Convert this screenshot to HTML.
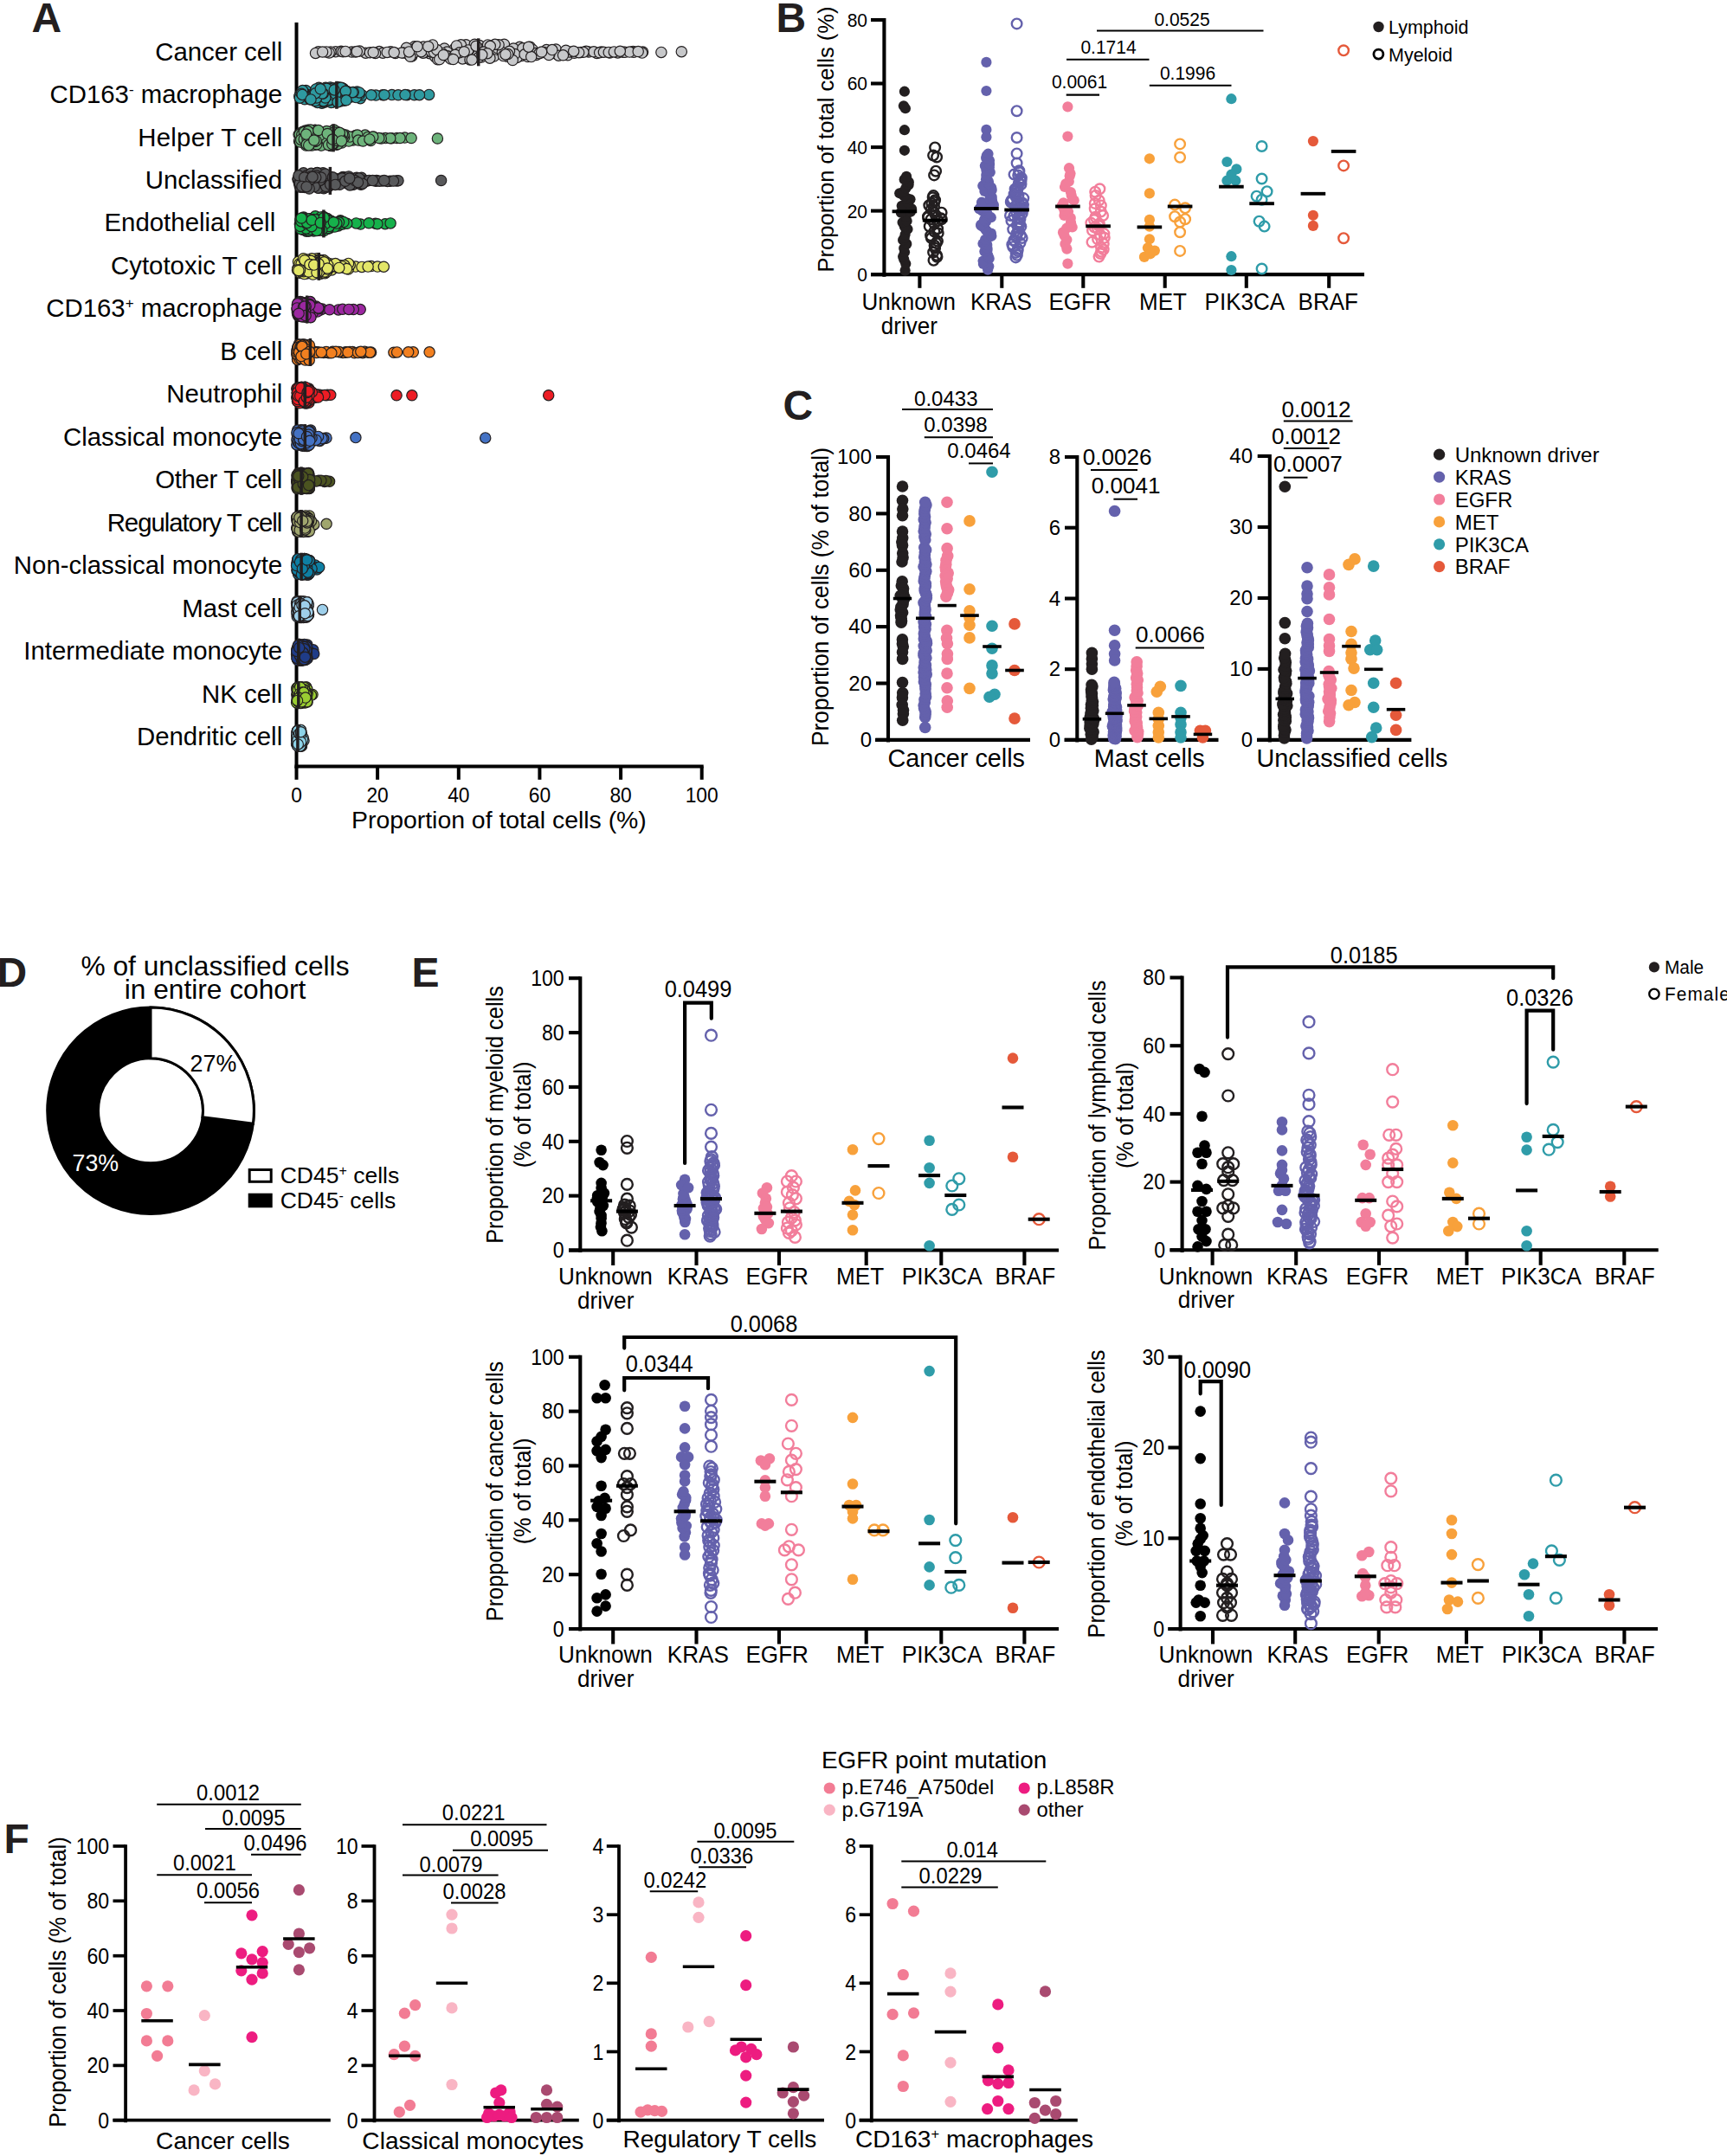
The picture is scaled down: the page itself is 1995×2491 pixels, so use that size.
<!DOCTYPE html>
<html lang="en">
<head>
<meta charset="utf-8">
<title>Figure</title>
<style>
html,body{margin:0;padding:0;background:#fff;}
body{width:1995px;height:2491px;overflow:hidden;}
svg{display:block;}
svg text{font-family:'Liberation Sans', sans-serif;}
</style>
</head>
<body>
<svg width="1995" height="2491" viewBox="0 0 1995 2491">
<rect width="1995" height="2491" fill="#fff"/>
<text x="36.5" y="36.5" font-size="48" font-weight="bold" fill="#231f20">A</text>
<line x1="342.5" y1="26" x2="342.5" y2="887.5" stroke="#000" stroke-width="4"/>
<line x1="340.5" y1="885.5" x2="812.7" y2="885.5" stroke="#000" stroke-width="4"/>
<line x1="342.5" y1="885.5" x2="342.5" y2="900.8" stroke="#000" stroke-width="4"/>
<text transform="translate(342.5 927.2) scale(1 1.070)" font-size="22.8" text-anchor="middle">0</text>
<line x1="436.1" y1="885.5" x2="436.1" y2="900.8" stroke="#000" stroke-width="4"/>
<text transform="translate(436.1 927.2) scale(1 1.070)" font-size="22.8" text-anchor="middle">20</text>
<line x1="529.8" y1="885.5" x2="529.8" y2="900.8" stroke="#000" stroke-width="4"/>
<text transform="translate(529.8 927.2) scale(1 1.070)" font-size="22.8" text-anchor="middle">40</text>
<line x1="623.4" y1="885.5" x2="623.4" y2="900.8" stroke="#000" stroke-width="4"/>
<text transform="translate(623.4 927.2) scale(1 1.070)" font-size="22.8" text-anchor="middle">60</text>
<line x1="717.1" y1="885.5" x2="717.1" y2="900.8" stroke="#000" stroke-width="4"/>
<text transform="translate(717.1 927.2) scale(1 1.070)" font-size="22.8" text-anchor="middle">80</text>
<line x1="810.7" y1="885.5" x2="810.7" y2="900.8" stroke="#000" stroke-width="4"/>
<text transform="translate(810.7 927.2) scale(1 1.070)" font-size="22.8" text-anchor="middle">100</text>
<text x="576.4" y="956.8" font-size="28.4" text-anchor="middle">Proportion of total cells (%)</text>
<text x="326.2" y="69.6" font-size="29.4" text-anchor="end">Cancer cell</text>
<g fill="#c7c8ca" stroke="#231f20" stroke-width="1.2">
<circle cx="600.4" cy="54.3" r="6.15"/>
<circle cx="387.7" cy="59.8" r="6.15"/>
<circle cx="742.6" cy="60" r="6.15"/>
<circle cx="438.1" cy="59.5" r="6.15"/>
<circle cx="607.8" cy="60.1" r="6.15"/>
<circle cx="741.7" cy="61.1" r="6.15"/>
<circle cx="496.2" cy="61.7" r="6.15"/>
<circle cx="602.3" cy="64.4" r="6.15"/>
<circle cx="451.3" cy="59.8" r="6.15"/>
<circle cx="485" cy="58.5" r="6.15"/>
<circle cx="478.8" cy="53.7" r="6.15"/>
<circle cx="689.5" cy="61.4" r="6.15"/>
<circle cx="367.8" cy="59.7" r="6.15"/>
<circle cx="529.3" cy="65.1" r="6.15"/>
<circle cx="604.7" cy="56" r="6.15"/>
<circle cx="422.4" cy="61.2" r="6.15"/>
<circle cx="475.7" cy="64.9" r="6.15"/>
<circle cx="578" cy="56.8" r="6.15"/>
<circle cx="551.9" cy="61.9" r="6.15"/>
<circle cx="521" cy="60.7" r="6.15"/>
<circle cx="456.7" cy="61.4" r="6.15"/>
<circle cx="631.3" cy="57.5" r="6.15"/>
<circle cx="546.4" cy="62" r="6.15"/>
<circle cx="479.9" cy="55.5" r="6.15"/>
<circle cx="394" cy="59.3" r="6.15"/>
<circle cx="406.3" cy="60" r="6.15"/>
<circle cx="471.9" cy="62.8" r="6.15"/>
<circle cx="585.8" cy="65.3" r="6.15"/>
<circle cx="513.4" cy="56" r="6.15"/>
<circle cx="612.3" cy="54.2" r="6.15"/>
<circle cx="553.9" cy="52.6" r="6.15"/>
<circle cx="597.7" cy="63.1" r="6.15"/>
<circle cx="787.3" cy="59.7" r="6.15"/>
<circle cx="570.6" cy="65.1" r="6.15"/>
<circle cx="525.4" cy="56.1" r="6.15"/>
<circle cx="615.3" cy="57.4" r="6.15"/>
<circle cx="713.6" cy="60.9" r="6.15"/>
<circle cx="644.5" cy="61.1" r="6.15"/>
<circle cx="560.6" cy="55.4" r="6.15"/>
<circle cx="502.7" cy="65.7" r="6.15"/>
<circle cx="410.6" cy="60" r="6.15"/>
<circle cx="556.1" cy="66" r="6.15"/>
<circle cx="483.8" cy="56.2" r="6.15"/>
<circle cx="469.5" cy="55.2" r="6.15"/>
<circle cx="541.6" cy="57.7" r="6.15"/>
<circle cx="396.2" cy="59.8" r="6.15"/>
<circle cx="655.8" cy="63.8" r="6.15"/>
<circle cx="624.7" cy="61" r="6.15"/>
<circle cx="382" cy="59.9" r="6.15"/>
<circle cx="516.5" cy="60" r="6.15"/>
<circle cx="465.9" cy="61" r="6.15"/>
<circle cx="663.4" cy="61.3" r="6.15"/>
<circle cx="477.4" cy="61.4" r="6.15"/>
<circle cx="591.1" cy="64.8" r="6.15"/>
<circle cx="519" cy="65.3" r="6.15"/>
<circle cx="537" cy="67.1" r="6.15"/>
<circle cx="593.1" cy="56" r="6.15"/>
<circle cx="603.8" cy="55.8" r="6.15"/>
<circle cx="553.3" cy="66.1" r="6.15"/>
<circle cx="534.3" cy="67.9" r="6.15"/>
<circle cx="538.3" cy="51.7" r="6.15"/>
<circle cx="680.1" cy="60" r="6.15"/>
<circle cx="380.2" cy="61" r="6.15"/>
<circle cx="619.5" cy="63.4" r="6.15"/>
<circle cx="670.8" cy="60.6" r="6.15"/>
<circle cx="415.4" cy="59.1" r="6.15"/>
<circle cx="515.7" cy="64.5" r="6.15"/>
<circle cx="491" cy="60.4" r="6.15"/>
<circle cx="648.8" cy="62.3" r="6.15"/>
<circle cx="694.5" cy="60" r="6.15"/>
<circle cx="364.5" cy="61.4" r="6.15"/>
<circle cx="532.4" cy="51.8" r="6.15"/>
<circle cx="719.8" cy="60.3" r="6.15"/>
<circle cx="568.8" cy="55.4" r="6.15"/>
<circle cx="609.8" cy="65.6" r="6.15"/>
<circle cx="542.9" cy="68.9" r="6.15"/>
<circle cx="677.1" cy="59.3" r="6.15"/>
<circle cx="412.3" cy="59.5" r="6.15"/>
<circle cx="618.5" cy="61.5" r="6.15"/>
<circle cx="493.2" cy="57.3" r="6.15"/>
<circle cx="763.9" cy="60.4" r="6.15"/>
<circle cx="442.3" cy="61.2" r="6.15"/>
<circle cx="731.3" cy="59.4" r="6.15"/>
<circle cx="505.6" cy="68.8" r="6.15"/>
<circle cx="704.4" cy="61" r="6.15"/>
<circle cx="640.2" cy="61.5" r="6.15"/>
<circle cx="642.2" cy="57" r="6.15"/>
<circle cx="645.3" cy="64.2" r="6.15"/>
<circle cx="447.2" cy="60.4" r="6.15"/>
<circle cx="732.1" cy="60.3" r="6.15"/>
<circle cx="628.5" cy="60.5" r="6.15"/>
<circle cx="657.6" cy="59.9" r="6.15"/>
<circle cx="527.4" cy="52.9" r="6.15"/>
<circle cx="634.9" cy="62.4" r="6.15"/>
<circle cx="563.5" cy="51.9" r="6.15"/>
<circle cx="685.9" cy="59.8" r="6.15"/>
<circle cx="530.9" cy="60.8" r="6.15"/>
<circle cx="377" cy="59.9" r="6.15"/>
<circle cx="721.8" cy="60.3" r="6.15"/>
<circle cx="488.7" cy="61.2" r="6.15"/>
<circle cx="548.3" cy="51.2" r="6.15"/>
<circle cx="464.1" cy="61" r="6.15"/>
<circle cx="489.3" cy="54.1" r="6.15"/>
<circle cx="508.9" cy="65.2" r="6.15"/>
<circle cx="582.4" cy="51.2" r="6.15"/>
<circle cx="540.9" cy="57.9" r="6.15"/>
<circle cx="727.3" cy="60.1" r="6.15"/>
<circle cx="473.9" cy="65.3" r="6.15"/>
<circle cx="737.2" cy="59.5" r="6.15"/>
<circle cx="486.6" cy="59.7" r="6.15"/>
<circle cx="573.7" cy="57.1" r="6.15"/>
<circle cx="372.6" cy="60" r="6.15"/>
<circle cx="597.2" cy="66.4" r="6.15"/>
<circle cx="498.5" cy="59.9" r="6.15"/>
<circle cx="594.6" cy="62.5" r="6.15"/>
<circle cx="501.5" cy="60.5" r="6.15"/>
<circle cx="634.1" cy="63.5" r="6.15"/>
<circle cx="622.8" cy="61.8" r="6.15"/>
<circle cx="692.6" cy="60.8" r="6.15"/>
<circle cx="427.3" cy="60.8" r="6.15"/>
<circle cx="510.7" cy="61.4" r="6.15"/>
<circle cx="606.1" cy="62.8" r="6.15"/>
<circle cx="574.8" cy="55.6" r="6.15"/>
<circle cx="653.7" cy="58.2" r="6.15"/>
<circle cx="580.3" cy="60.5" r="6.15"/>
<circle cx="576.1" cy="51.7" r="6.15"/>
<circle cx="433.6" cy="61.4" r="6.15"/>
<circle cx="550" cy="53.2" r="6.15"/>
<circle cx="525.9" cy="63.2" r="6.15"/>
<circle cx="472.5" cy="59.9" r="6.15"/>
<circle cx="625.6" cy="60" r="6.15"/>
<circle cx="613.7" cy="65.6" r="6.15"/>
<circle cx="504.6" cy="57.5" r="6.15"/>
<circle cx="581.5" cy="64.6" r="6.15"/>
<circle cx="673.9" cy="60.3" r="6.15"/>
<circle cx="571.8" cy="51.3" r="6.15"/>
<circle cx="565.9" cy="67.2" r="6.15"/>
<circle cx="588.5" cy="59.3" r="6.15"/>
<circle cx="507.7" cy="68.6" r="6.15"/>
<circle cx="592.2" cy="69.5" r="6.15"/>
<circle cx="399.1" cy="59.4" r="6.15"/>
<circle cx="697.4" cy="60.2" r="6.15"/>
<circle cx="668.7" cy="60.7" r="6.15"/>
<circle cx="586.6" cy="62.6" r="6.15"/>
<circle cx="650.5" cy="63.8" r="6.15"/>
<circle cx="566.3" cy="53.3" r="6.15"/>
<circle cx="499.8" cy="51.9" r="6.15"/>
<circle cx="455.2" cy="60.6" r="6.15"/>
<circle cx="558.7" cy="60.1" r="6.15"/>
<circle cx="662.7" cy="59.2" r="6.15"/>
<circle cx="431.2" cy="60.5" r="6.15"/>
<circle cx="482.1" cy="53.8" r="6.15"/>
<circle cx="562.9" cy="61.7" r="6.15"/>
<circle cx="584" cy="62.9" r="6.15"/>
<circle cx="703.2" cy="60.4" r="6.15"/>
<circle cx="520.6" cy="68.1" r="6.15"/>
<circle cx="709.3" cy="59.9" r="6.15"/>
<circle cx="610.6" cy="54.2" r="6.15"/>
<circle cx="523.6" cy="68.5" r="6.15"/>
<circle cx="716.3" cy="59.2" r="6.15"/>
<circle cx="556.8" cy="63.3" r="6.15"/>
<circle cx="512.3" cy="63.5" r="6.15"/>
<circle cx="637.8" cy="57.6" r="6.15"/>
<circle cx="536.2" cy="59.7" r="6.15"/>
<circle cx="545.1" cy="69.1" r="6.15"/>
<circle cx="494.7" cy="53.7" r="6.15"/>
</g>
<line x1="552.7" y1="44.3" x2="552.7" y2="76.3" stroke="#231f20" stroke-width="3.5"/>
<text x="326.2" y="119.1" font-size="29.4" text-anchor="end">CD163<tspan font-size="17" dy="-10">-</tspan><tspan dy="10"> macrophage</tspan></text>
<g fill="#2e9aa0" stroke="#231f20" stroke-width="1.2">
<circle cx="387.2" cy="102.3" r="6.15"/>
<circle cx="401.4" cy="112.9" r="6.15"/>
<circle cx="416.3" cy="113.7" r="6.15"/>
<circle cx="375.3" cy="108" r="6.15"/>
<circle cx="378.6" cy="108.9" r="6.15"/>
<circle cx="390.7" cy="112.2" r="6.15"/>
<circle cx="351.2" cy="111.8" r="6.15"/>
<circle cx="399.6" cy="113.8" r="6.15"/>
<circle cx="361.7" cy="106.4" r="6.15"/>
<circle cx="407.6" cy="106.5" r="6.15"/>
<circle cx="442.1" cy="109.8" r="6.15"/>
<circle cx="358.4" cy="113.2" r="6.15"/>
<circle cx="374.7" cy="110.6" r="6.15"/>
<circle cx="355" cy="109.8" r="6.15"/>
<circle cx="376.2" cy="101.2" r="6.15"/>
<circle cx="394.4" cy="104.3" r="6.15"/>
<circle cx="383.5" cy="112.4" r="6.15"/>
<circle cx="353.4" cy="104.6" r="6.15"/>
<circle cx="452.7" cy="109.6" r="6.15"/>
<circle cx="393.3" cy="117" r="6.15"/>
<circle cx="382.2" cy="116.7" r="6.15"/>
<circle cx="354.2" cy="110.6" r="6.15"/>
<circle cx="495.6" cy="109.4" r="6.15"/>
<circle cx="386.9" cy="105.7" r="6.15"/>
<circle cx="409.7" cy="106.9" r="6.15"/>
<circle cx="376.6" cy="103.7" r="6.15"/>
<circle cx="368.9" cy="104.1" r="6.15"/>
<circle cx="412.5" cy="106" r="6.15"/>
<circle cx="362.6" cy="112.6" r="6.15"/>
<circle cx="389.4" cy="110.5" r="6.15"/>
<circle cx="470.2" cy="109.7" r="6.15"/>
<circle cx="381.5" cy="100.9" r="6.15"/>
<circle cx="405.6" cy="112" r="6.15"/>
<circle cx="377.6" cy="116.5" r="6.15"/>
<circle cx="385.3" cy="115.4" r="6.15"/>
<circle cx="382.1" cy="116.5" r="6.15"/>
<circle cx="460" cy="109.8" r="6.15"/>
<circle cx="396.9" cy="108.6" r="6.15"/>
<circle cx="434.2" cy="110.1" r="6.15"/>
<circle cx="362.4" cy="114.1" r="6.15"/>
<circle cx="388.7" cy="117.7" r="6.15"/>
<circle cx="392.3" cy="106.6" r="6.15"/>
<circle cx="404.1" cy="108.5" r="6.15"/>
<circle cx="369.4" cy="112.3" r="6.15"/>
<circle cx="443.9" cy="109.7" r="6.15"/>
<circle cx="371.4" cy="112.8" r="6.15"/>
<circle cx="384.4" cy="101.8" r="6.15"/>
<circle cx="352.8" cy="108.3" r="6.15"/>
<circle cx="361.6" cy="108.5" r="6.15"/>
<circle cx="384.7" cy="118.1" r="6.15"/>
<circle cx="413.3" cy="107.9" r="6.15"/>
<circle cx="383.2" cy="107.2" r="6.15"/>
<circle cx="369.7" cy="109.6" r="6.15"/>
<circle cx="355.8" cy="113.1" r="6.15"/>
<circle cx="396.7" cy="102.5" r="6.15"/>
<circle cx="400.4" cy="105.4" r="6.15"/>
<circle cx="356.5" cy="112.9" r="6.15"/>
<circle cx="367.5" cy="111.9" r="6.15"/>
<circle cx="397.4" cy="104.5" r="6.15"/>
<circle cx="366.1" cy="106.6" r="6.15"/>
<circle cx="372.2" cy="117.8" r="6.15"/>
<circle cx="352" cy="114.8" r="6.15"/>
<circle cx="365.5" cy="116.9" r="6.15"/>
<circle cx="388.2" cy="102.3" r="6.15"/>
<circle cx="478.6" cy="109.8" r="6.15"/>
<circle cx="371.8" cy="119.2" r="6.15"/>
<circle cx="418.5" cy="110" r="6.15"/>
<circle cx="379.1" cy="110.9" r="6.15"/>
<circle cx="398.1" cy="104.8" r="6.15"/>
<circle cx="400.9" cy="105.7" r="6.15"/>
<circle cx="403.4" cy="111.9" r="6.15"/>
<circle cx="360.4" cy="112.2" r="6.15"/>
<circle cx="363.7" cy="115.8" r="6.15"/>
<circle cx="415.3" cy="109" r="6.15"/>
<circle cx="380.9" cy="113.5" r="6.15"/>
<circle cx="395.7" cy="106.5" r="6.15"/>
<circle cx="390.9" cy="100.8" r="6.15"/>
<circle cx="402.1" cy="106.5" r="6.15"/>
<circle cx="391.9" cy="107.2" r="6.15"/>
<circle cx="391.5" cy="102.8" r="6.15"/>
<circle cx="347.2" cy="108.3" r="6.15"/>
<circle cx="363.3" cy="116.4" r="6.15"/>
<circle cx="378" cy="106.5" r="6.15"/>
<circle cx="393.1" cy="114" r="6.15"/>
<circle cx="396.3" cy="115.2" r="6.15"/>
<circle cx="428.9" cy="109.8" r="6.15"/>
<circle cx="387.6" cy="114.3" r="6.15"/>
<circle cx="385.2" cy="109" r="6.15"/>
<circle cx="378.4" cy="103.4" r="6.15"/>
<circle cx="376.7" cy="107.6" r="6.15"/>
<circle cx="374.6" cy="118.2" r="6.15"/>
<circle cx="345.8" cy="111.2" r="6.15"/>
<circle cx="367.9" cy="106.7" r="6.15"/>
<circle cx="395" cy="101.4" r="6.15"/>
<circle cx="350.7" cy="106.7" r="6.15"/>
<circle cx="383.9" cy="111" r="6.15"/>
<circle cx="411.3" cy="112.6" r="6.15"/>
<circle cx="346.3" cy="113.2" r="6.15"/>
<circle cx="484.5" cy="109.7" r="6.15"/>
<circle cx="394.1" cy="103.5" r="6.15"/>
<circle cx="349.6" cy="104.6" r="6.15"/>
<circle cx="415.1" cy="106.9" r="6.15"/>
<circle cx="368.1" cy="112.4" r="6.15"/>
<circle cx="366.6" cy="110.1" r="6.15"/>
<circle cx="358" cy="114.7" r="6.15"/>
<circle cx="408.3" cy="106.4" r="6.15"/>
<circle cx="382.6" cy="118.5" r="6.15"/>
<circle cx="392.4" cy="111.5" r="6.15"/>
<circle cx="389.1" cy="113.3" r="6.15"/>
<circle cx="361.2" cy="111.2" r="6.15"/>
<circle cx="373.9" cy="117.3" r="6.15"/>
<circle cx="381.2" cy="102.5" r="6.15"/>
<circle cx="363.2" cy="107.8" r="6.15"/>
<circle cx="468" cy="109.6" r="6.15"/>
<circle cx="366.8" cy="118.4" r="6.15"/>
<circle cx="380.2" cy="116.1" r="6.15"/>
<circle cx="399" cy="106.2" r="6.15"/>
<circle cx="395.3" cy="103.7" r="6.15"/>
<circle cx="368.4" cy="101.3" r="6.15"/>
<circle cx="380.1" cy="115.3" r="6.15"/>
<circle cx="379.4" cy="103.7" r="6.15"/>
<circle cx="370.8" cy="102.9" r="6.15"/>
<circle cx="393.8" cy="101.2" r="6.15"/>
<circle cx="407.1" cy="106.7" r="6.15"/>
<circle cx="370.6" cy="116.1" r="6.15"/>
<circle cx="377.3" cy="102.2" r="6.15"/>
<circle cx="373" cy="113.8" r="6.15"/>
<circle cx="348.3" cy="108.2" r="6.15"/>
<circle cx="373.6" cy="116.7" r="6.15"/>
<circle cx="364.1" cy="116.5" r="6.15"/>
<circle cx="390.2" cy="113.6" r="6.15"/>
<circle cx="385.8" cy="109.8" r="6.15"/>
<circle cx="398.5" cy="106.9" r="6.15"/>
<circle cx="387.9" cy="109.1" r="6.15"/>
<circle cx="386.2" cy="103.9" r="6.15"/>
<circle cx="399.2" cy="105.3" r="6.15"/>
<circle cx="365" cy="102.9" r="6.15"/>
<circle cx="349.2" cy="109.4" r="6.15"/>
<circle cx="375.8" cy="113" r="6.15"/>
<circle cx="397.6" cy="116.2" r="6.15"/>
<circle cx="365.7" cy="113" r="6.15"/>
<circle cx="390" cy="117.9" r="6.15"/>
<circle cx="373.3" cy="107.9" r="6.15"/>
<circle cx="372.4" cy="108" r="6.15"/>
<circle cx="400" cy="115.8" r="6.15"/>
<circle cx="364.4" cy="107.7" r="6.15"/>
<circle cx="359" cy="114.9" r="6.15"/>
<circle cx="370.2" cy="102.8" r="6.15"/>
</g>
<line x1="388.9" y1="93.8" x2="388.9" y2="125.8" stroke="#231f20" stroke-width="3.5"/>
<text x="326.2" y="168.5" font-size="29.4" text-anchor="end" textLength="167" lengthAdjust="spacing">Helper T cell</text>
<g fill="#6db37b" stroke="#231f20" stroke-width="1.2">
<circle cx="389.2" cy="152.2" r="6.15"/>
<circle cx="364.6" cy="167.2" r="6.15"/>
<circle cx="373.7" cy="154.2" r="6.15"/>
<circle cx="391" cy="158" r="6.15"/>
<circle cx="359.7" cy="160.3" r="6.15"/>
<circle cx="383.1" cy="164.8" r="6.15"/>
<circle cx="399.3" cy="155.9" r="6.15"/>
<circle cx="389.9" cy="165.9" r="6.15"/>
<circle cx="347.3" cy="153.7" r="6.15"/>
<circle cx="406" cy="159.1" r="6.15"/>
<circle cx="382.2" cy="168.5" r="6.15"/>
<circle cx="394.8" cy="165" r="6.15"/>
<circle cx="408" cy="162" r="6.15"/>
<circle cx="376.9" cy="154.7" r="6.15"/>
<circle cx="376.2" cy="166.8" r="6.15"/>
<circle cx="352.7" cy="151.1" r="6.15"/>
<circle cx="380.1" cy="155.2" r="6.15"/>
<circle cx="374.2" cy="152.8" r="6.15"/>
<circle cx="349.7" cy="152.2" r="6.15"/>
<circle cx="360.3" cy="168" r="6.15"/>
<circle cx="371.9" cy="162.1" r="6.15"/>
<circle cx="346.7" cy="161.2" r="6.15"/>
<circle cx="423.9" cy="159" r="6.15"/>
<circle cx="417.1" cy="161.9" r="6.15"/>
<circle cx="368.2" cy="153.1" r="6.15"/>
<circle cx="388.8" cy="167.3" r="6.15"/>
<circle cx="387.7" cy="158.9" r="6.15"/>
<circle cx="452.5" cy="159.7" r="6.15"/>
<circle cx="458.7" cy="159.5" r="6.15"/>
<circle cx="353.5" cy="168.1" r="6.15"/>
<circle cx="372.7" cy="154.5" r="6.15"/>
<circle cx="348.1" cy="156.8" r="6.15"/>
<circle cx="359.2" cy="154.5" r="6.15"/>
<circle cx="400.8" cy="161.2" r="6.15"/>
<circle cx="351.7" cy="155" r="6.15"/>
<circle cx="380.5" cy="164.2" r="6.15"/>
<circle cx="357.8" cy="152" r="6.15"/>
<circle cx="362.4" cy="159.3" r="6.15"/>
<circle cx="387.4" cy="164.1" r="6.15"/>
<circle cx="369.5" cy="152.4" r="6.15"/>
<circle cx="391.5" cy="158" r="6.15"/>
<circle cx="345.1" cy="155.6" r="6.15"/>
<circle cx="374.8" cy="165.8" r="6.15"/>
<circle cx="379.2" cy="159.9" r="6.15"/>
<circle cx="387" cy="157.8" r="6.15"/>
<circle cx="361.5" cy="163.8" r="6.15"/>
<circle cx="391.9" cy="158" r="6.15"/>
<circle cx="350.4" cy="159.8" r="6.15"/>
<circle cx="376.6" cy="163.1" r="6.15"/>
<circle cx="385.7" cy="150.1" r="6.15"/>
<circle cx="409.2" cy="157.8" r="6.15"/>
<circle cx="467.6" cy="159.1" r="6.15"/>
<circle cx="384.9" cy="156.4" r="6.15"/>
<circle cx="364.2" cy="150.3" r="6.15"/>
<circle cx="420.8" cy="161.8" r="6.15"/>
<circle cx="390.6" cy="159" r="6.15"/>
<circle cx="355.7" cy="150.2" r="6.15"/>
<circle cx="361.1" cy="155.7" r="6.15"/>
<circle cx="345.5" cy="163" r="6.15"/>
<circle cx="373.4" cy="162.5" r="6.15"/>
<circle cx="365.8" cy="158.3" r="6.15"/>
<circle cx="428.2" cy="162.5" r="6.15"/>
<circle cx="402.9" cy="163.1" r="6.15"/>
<circle cx="346.6" cy="164" r="6.15"/>
<circle cx="379" cy="162.9" r="6.15"/>
<circle cx="410.9" cy="156.5" r="6.15"/>
<circle cx="362.1" cy="164.3" r="6.15"/>
<circle cx="366.6" cy="165" r="6.15"/>
<circle cx="346.1" cy="155.3" r="6.15"/>
<circle cx="382.8" cy="165.6" r="6.15"/>
<circle cx="414.9" cy="158" r="6.15"/>
<circle cx="363.5" cy="150.4" r="6.15"/>
<circle cx="381.1" cy="159.8" r="6.15"/>
<circle cx="348.8" cy="155.4" r="6.15"/>
<circle cx="462" cy="159.5" r="6.15"/>
<circle cx="445.2" cy="159.6" r="6.15"/>
<circle cx="431.8" cy="158.2" r="6.15"/>
<circle cx="358.7" cy="150.1" r="6.15"/>
<circle cx="404.1" cy="158.1" r="6.15"/>
<circle cx="421.8" cy="156.1" r="6.15"/>
<circle cx="366.9" cy="151.2" r="6.15"/>
<circle cx="371.5" cy="164.6" r="6.15"/>
<circle cx="375.8" cy="154.8" r="6.15"/>
<circle cx="352.6" cy="164" r="6.15"/>
<circle cx="360.5" cy="161.9" r="6.15"/>
<circle cx="475.1" cy="159.5" r="6.15"/>
<circle cx="412.9" cy="156" r="6.15"/>
<circle cx="367.4" cy="162.6" r="6.15"/>
<circle cx="397.7" cy="158.5" r="6.15"/>
<circle cx="381.5" cy="168.2" r="6.15"/>
<circle cx="370.7" cy="167.7" r="6.15"/>
<circle cx="397.1" cy="156.3" r="6.15"/>
<circle cx="356.3" cy="166.2" r="6.15"/>
<circle cx="382.2" cy="158.2" r="6.15"/>
<circle cx="429.2" cy="158.5" r="6.15"/>
<circle cx="395.1" cy="160" r="6.15"/>
<circle cx="351.4" cy="152.5" r="6.15"/>
<circle cx="372.6" cy="155.4" r="6.15"/>
<circle cx="349.3" cy="160.5" r="6.15"/>
<circle cx="375" cy="157" r="6.15"/>
<circle cx="358.2" cy="153.7" r="6.15"/>
<circle cx="370" cy="160.2" r="6.15"/>
<circle cx="349.9" cy="161.1" r="6.15"/>
<circle cx="347.7" cy="161.4" r="6.15"/>
<circle cx="450.8" cy="159.7" r="6.15"/>
<circle cx="357.3" cy="161.4" r="6.15"/>
<circle cx="377.4" cy="151.5" r="6.15"/>
<circle cx="440.3" cy="159.9" r="6.15"/>
<circle cx="413.9" cy="162.1" r="6.15"/>
<circle cx="390.2" cy="166.5" r="6.15"/>
<circle cx="368.8" cy="165.5" r="6.15"/>
<circle cx="393" cy="159.2" r="6.15"/>
<circle cx="395.5" cy="155" r="6.15"/>
<circle cx="355.9" cy="151.8" r="6.15"/>
<circle cx="437.8" cy="159.5" r="6.15"/>
<circle cx="371.2" cy="168.1" r="6.15"/>
<circle cx="385" cy="166.4" r="6.15"/>
<circle cx="425" cy="158.4" r="6.15"/>
<circle cx="377.7" cy="162" r="6.15"/>
<circle cx="379.5" cy="167.5" r="6.15"/>
<circle cx="354.5" cy="164.7" r="6.15"/>
<circle cx="351.2" cy="160.9" r="6.15"/>
<circle cx="369.1" cy="156.5" r="6.15"/>
<circle cx="386.5" cy="164.8" r="6.15"/>
<circle cx="367.8" cy="150.5" r="6.15"/>
<circle cx="393.5" cy="160.1" r="6.15"/>
<circle cx="419.3" cy="163" r="6.15"/>
<circle cx="430.8" cy="158" r="6.15"/>
<circle cx="393.6" cy="160.5" r="6.15"/>
<circle cx="365.8" cy="166.8" r="6.15"/>
<circle cx="355.1" cy="160.3" r="6.15"/>
<circle cx="386" cy="152.7" r="6.15"/>
<circle cx="426.9" cy="160.9" r="6.15"/>
<circle cx="354.2" cy="166.8" r="6.15"/>
<circle cx="383.8" cy="166.5" r="6.15"/>
<circle cx="378.2" cy="154.5" r="6.15"/>
<circle cx="505.4" cy="160" r="6.15"/>
<circle cx="363.8" cy="163.6" r="6.15"/>
<circle cx="388.4" cy="162.3" r="6.15"/>
<circle cx="365.2" cy="162.7" r="6.15"/>
<circle cx="356.7" cy="167.9" r="6.15"/>
<circle cx="353.7" cy="155.1" r="6.15"/>
<circle cx="392.3" cy="153.3" r="6.15"/>
<circle cx="384.1" cy="161.1" r="6.15"/>
<circle cx="394.4" cy="162.9" r="6.15"/>
<circle cx="362.8" cy="162" r="6.15"/>
</g>
<line x1="385.1" y1="143.4" x2="385.1" y2="175.4" stroke="#231f20" stroke-width="3.5"/>
<text x="326.2" y="218" font-size="29.4" text-anchor="end">Unclassified</text>
<g fill="#58595b" stroke="#231f20" stroke-width="1.2">
<circle cx="450.6" cy="209.3" r="6.15"/>
<circle cx="349.1" cy="214.6" r="6.15"/>
<circle cx="357.8" cy="214.5" r="6.15"/>
<circle cx="379.9" cy="208.9" r="6.15"/>
<circle cx="369.4" cy="205.9" r="6.15"/>
<circle cx="345.5" cy="202.7" r="6.15"/>
<circle cx="377.1" cy="211.4" r="6.15"/>
<circle cx="386.8" cy="206.2" r="6.15"/>
<circle cx="408.6" cy="213.1" r="6.15"/>
<circle cx="368.1" cy="217.3" r="6.15"/>
<circle cx="406.9" cy="209.8" r="6.15"/>
<circle cx="344" cy="207.2" r="6.15"/>
<circle cx="377.6" cy="205.2" r="6.15"/>
<circle cx="378.8" cy="208.6" r="6.15"/>
<circle cx="346.1" cy="214.4" r="6.15"/>
<circle cx="351.3" cy="212.6" r="6.15"/>
<circle cx="389.8" cy="207.9" r="6.15"/>
<circle cx="458.2" cy="208.9" r="6.15"/>
<circle cx="353.2" cy="213.3" r="6.15"/>
<circle cx="396.2" cy="204.4" r="6.15"/>
<circle cx="362.9" cy="214.5" r="6.15"/>
<circle cx="372.6" cy="209.3" r="6.15"/>
<circle cx="362.8" cy="212.1" r="6.15"/>
<circle cx="362.4" cy="209.3" r="6.15"/>
<circle cx="355.6" cy="208.9" r="6.15"/>
<circle cx="355.8" cy="214" r="6.15"/>
<circle cx="374" cy="217.8" r="6.15"/>
<circle cx="374.4" cy="216" r="6.15"/>
<circle cx="393.1" cy="206.2" r="6.15"/>
<circle cx="442.2" cy="209" r="6.15"/>
<circle cx="361.9" cy="207.2" r="6.15"/>
<circle cx="364.1" cy="206.1" r="6.15"/>
<circle cx="349.9" cy="209.4" r="6.15"/>
<circle cx="348.4" cy="211.3" r="6.15"/>
<circle cx="405.9" cy="207.9" r="6.15"/>
<circle cx="348" cy="214.3" r="6.15"/>
<circle cx="383.2" cy="212.8" r="6.15"/>
<circle cx="352.5" cy="208.6" r="6.15"/>
<circle cx="347" cy="216.2" r="6.15"/>
<circle cx="373.2" cy="215.2" r="6.15"/>
<circle cx="417.1" cy="213.2" r="6.15"/>
<circle cx="400.1" cy="211.6" r="6.15"/>
<circle cx="360.2" cy="200.8" r="6.15"/>
<circle cx="374.7" cy="209.6" r="6.15"/>
<circle cx="366.4" cy="199.6" r="6.15"/>
<circle cx="376.1" cy="211.4" r="6.15"/>
<circle cx="390.5" cy="208.6" r="6.15"/>
<circle cx="344.4" cy="206.7" r="6.15"/>
<circle cx="353.7" cy="213.3" r="6.15"/>
<circle cx="356.6" cy="202.6" r="6.15"/>
<circle cx="352" cy="216.4" r="6.15"/>
<circle cx="347.3" cy="206.9" r="6.15"/>
<circle cx="460" cy="208.7" r="6.15"/>
<circle cx="349.8" cy="201.1" r="6.15"/>
<circle cx="368.8" cy="202.2" r="6.15"/>
<circle cx="447.5" cy="209.4" r="6.15"/>
<circle cx="375.2" cy="209" r="6.15"/>
<circle cx="454.5" cy="209.1" r="6.15"/>
<circle cx="357.6" cy="207.4" r="6.15"/>
<circle cx="372.2" cy="200.8" r="6.15"/>
<circle cx="350.6" cy="199.8" r="6.15"/>
<circle cx="370.5" cy="206.3" r="6.15"/>
<circle cx="413.8" cy="210.5" r="6.15"/>
<circle cx="407" cy="213.6" r="6.15"/>
<circle cx="401.9" cy="210.7" r="6.15"/>
<circle cx="379.4" cy="204.5" r="6.15"/>
<circle cx="386" cy="211.4" r="6.15"/>
<circle cx="373.1" cy="199.8" r="6.15"/>
<circle cx="417.6" cy="205.3" r="6.15"/>
<circle cx="373.7" cy="216.1" r="6.15"/>
<circle cx="421" cy="208.9" r="6.15"/>
<circle cx="365.5" cy="208.5" r="6.15"/>
<circle cx="400.9" cy="205.2" r="6.15"/>
<circle cx="412" cy="205.2" r="6.15"/>
<circle cx="354.4" cy="202.7" r="6.15"/>
<circle cx="360.7" cy="214" r="6.15"/>
<circle cx="371.6" cy="211.6" r="6.15"/>
<circle cx="383.7" cy="205.9" r="6.15"/>
<circle cx="397" cy="205.1" r="6.15"/>
<circle cx="380.5" cy="204.1" r="6.15"/>
<circle cx="408.9" cy="206.9" r="6.15"/>
<circle cx="379" cy="215.9" r="6.15"/>
<circle cx="364.6" cy="204" r="6.15"/>
<circle cx="398.2" cy="205.8" r="6.15"/>
<circle cx="367.6" cy="207" r="6.15"/>
<circle cx="354.9" cy="208.5" r="6.15"/>
<circle cx="376.8" cy="203.9" r="6.15"/>
<circle cx="411.4" cy="205.7" r="6.15"/>
<circle cx="391.5" cy="209.1" r="6.15"/>
<circle cx="381" cy="211.9" r="6.15"/>
<circle cx="350.4" cy="216.3" r="6.15"/>
<circle cx="434.1" cy="209.3" r="6.15"/>
<circle cx="378.5" cy="210.2" r="6.15"/>
<circle cx="415.7" cy="212.5" r="6.15"/>
<circle cx="367.2" cy="217.1" r="6.15"/>
<circle cx="423.2" cy="209.3" r="6.15"/>
<circle cx="380.7" cy="208.4" r="6.15"/>
<circle cx="435" cy="208.5" r="6.15"/>
<circle cx="414.8" cy="205.9" r="6.15"/>
<circle cx="356.2" cy="210.4" r="6.15"/>
<circle cx="426.4" cy="208.4" r="6.15"/>
<circle cx="363.8" cy="201.9" r="6.15"/>
<circle cx="377.8" cy="203.5" r="6.15"/>
<circle cx="376.5" cy="215.3" r="6.15"/>
<circle cx="361.3" cy="209.8" r="6.15"/>
<circle cx="370.1" cy="208.1" r="6.15"/>
<circle cx="388.7" cy="211" r="6.15"/>
<circle cx="369.8" cy="208.2" r="6.15"/>
<circle cx="347.7" cy="210.4" r="6.15"/>
<circle cx="438.3" cy="209.2" r="6.15"/>
<circle cx="371.4" cy="202.9" r="6.15"/>
<circle cx="345.4" cy="211.5" r="6.15"/>
<circle cx="359.5" cy="200.3" r="6.15"/>
<circle cx="404.1" cy="213.9" r="6.15"/>
<circle cx="359.9" cy="215.8" r="6.15"/>
<circle cx="368.6" cy="204.5" r="6.15"/>
<circle cx="402.9" cy="203.9" r="6.15"/>
<circle cx="367" cy="201.8" r="6.15"/>
<circle cx="366.4" cy="199.8" r="6.15"/>
<circle cx="346.4" cy="212.2" r="6.15"/>
<circle cx="345" cy="202.8" r="6.15"/>
<circle cx="375.8" cy="201" r="6.15"/>
<circle cx="358.9" cy="204.3" r="6.15"/>
<circle cx="410" cy="208.5" r="6.15"/>
<circle cx="358.4" cy="212.8" r="6.15"/>
<circle cx="352.6" cy="205.9" r="6.15"/>
<circle cx="363.3" cy="215.6" r="6.15"/>
<circle cx="418.9" cy="212.2" r="6.15"/>
<circle cx="394.6" cy="211.2" r="6.15"/>
<circle cx="395.1" cy="206" r="6.15"/>
<circle cx="365.7" cy="203.1" r="6.15"/>
<circle cx="443.8" cy="208.5" r="6.15"/>
<circle cx="392.4" cy="213.3" r="6.15"/>
<circle cx="355.3" cy="211.1" r="6.15"/>
<circle cx="398.8" cy="209.3" r="6.15"/>
<circle cx="381.6" cy="213.3" r="6.15"/>
<circle cx="370.8" cy="205" r="6.15"/>
<circle cx="351.6" cy="205" r="6.15"/>
<circle cx="413.5" cy="210.7" r="6.15"/>
<circle cx="509.6" cy="208.5" r="6.15"/>
<circle cx="357.2" cy="218" r="6.15"/>
<circle cx="430.5" cy="208.6" r="6.15"/>
<circle cx="359.3" cy="206.9" r="6.15"/>
<circle cx="348.9" cy="215.4" r="6.15"/>
<circle cx="384.3" cy="204.8" r="6.15"/>
<circle cx="387.2" cy="213.4" r="6.15"/>
<circle cx="403.7" cy="206" r="6.15"/>
<circle cx="364.8" cy="204.9" r="6.15"/>
<circle cx="361" cy="204.4" r="6.15"/>
<circle cx="354.1" cy="215.7" r="6.15"/>
</g>
<line x1="381.4" y1="192.9" x2="381.4" y2="224.9" stroke="#231f20" stroke-width="3.5"/>
<text x="318.2" y="267.4" font-size="29.4" text-anchor="end">Endothelial cell</text>
<g fill="#16b14b" stroke="#231f20" stroke-width="1.2">
<circle cx="372.4" cy="259" r="6.15"/>
<circle cx="416.5" cy="259" r="6.15"/>
<circle cx="370.9" cy="254.2" r="6.15"/>
<circle cx="375.4" cy="254.1" r="6.15"/>
<circle cx="360.5" cy="253" r="6.15"/>
<circle cx="358.8" cy="252.7" r="6.15"/>
<circle cx="433.8" cy="258.3" r="6.15"/>
<circle cx="356.3" cy="257.6" r="6.15"/>
<circle cx="350.8" cy="251.1" r="6.15"/>
<circle cx="381" cy="263.5" r="6.15"/>
<circle cx="411.4" cy="257.9" r="6.15"/>
<circle cx="355.1" cy="258.8" r="6.15"/>
<circle cx="375.8" cy="257.5" r="6.15"/>
<circle cx="369" cy="253.5" r="6.15"/>
<circle cx="347.4" cy="260.8" r="6.15"/>
<circle cx="349.3" cy="257.1" r="6.15"/>
<circle cx="379.9" cy="257.9" r="6.15"/>
<circle cx="349.3" cy="261.9" r="6.15"/>
<circle cx="352.2" cy="254.3" r="6.15"/>
<circle cx="361.7" cy="253.5" r="6.15"/>
<circle cx="352.8" cy="261.4" r="6.15"/>
<circle cx="357.7" cy="262.9" r="6.15"/>
<circle cx="377.8" cy="252.9" r="6.15"/>
<circle cx="378.5" cy="262" r="6.15"/>
<circle cx="359.1" cy="260.9" r="6.15"/>
<circle cx="393.2" cy="254.8" r="6.15"/>
<circle cx="444.9" cy="258.7" r="6.15"/>
<circle cx="367" cy="263.3" r="6.15"/>
<circle cx="369.2" cy="259.8" r="6.15"/>
<circle cx="359.4" cy="254.2" r="6.15"/>
<circle cx="371.3" cy="252.3" r="6.15"/>
<circle cx="355.7" cy="258.7" r="6.15"/>
<circle cx="390.8" cy="260.9" r="6.15"/>
<circle cx="384.2" cy="258.4" r="6.15"/>
<circle cx="354.3" cy="258.9" r="6.15"/>
<circle cx="363.6" cy="259" r="6.15"/>
<circle cx="368.7" cy="258.9" r="6.15"/>
<circle cx="346.4" cy="259.2" r="6.15"/>
<circle cx="358" cy="262.7" r="6.15"/>
<circle cx="373" cy="253.1" r="6.15"/>
<circle cx="363" cy="260.6" r="6.15"/>
<circle cx="366.8" cy="257.9" r="6.15"/>
<circle cx="360.9" cy="259.9" r="6.15"/>
<circle cx="451.1" cy="257.9" r="6.15"/>
<circle cx="373.4" cy="265.5" r="6.15"/>
<circle cx="363.8" cy="263.3" r="6.15"/>
<circle cx="373.9" cy="250.5" r="6.15"/>
<circle cx="388" cy="257.9" r="6.15"/>
<circle cx="376.6" cy="263" r="6.15"/>
<circle cx="361.4" cy="254.5" r="6.15"/>
<circle cx="375" cy="258.8" r="6.15"/>
<circle cx="397.5" cy="258.1" r="6.15"/>
<circle cx="355.9" cy="266" r="6.15"/>
<circle cx="435.9" cy="258.7" r="6.15"/>
<circle cx="358.4" cy="252.8" r="6.15"/>
<circle cx="381.8" cy="259.7" r="6.15"/>
<circle cx="378.9" cy="264.3" r="6.15"/>
<circle cx="366.5" cy="262.5" r="6.15"/>
<circle cx="369.8" cy="259.3" r="6.15"/>
<circle cx="377.3" cy="264.2" r="6.15"/>
<circle cx="350.9" cy="256.7" r="6.15"/>
<circle cx="371.9" cy="265.2" r="6.15"/>
<circle cx="362.4" cy="266.9" r="6.15"/>
<circle cx="378.1" cy="252.5" r="6.15"/>
<circle cx="351.2" cy="262.6" r="6.15"/>
<circle cx="377.6" cy="256.6" r="6.15"/>
<circle cx="364.3" cy="249.8" r="6.15"/>
<circle cx="396" cy="258.9" r="6.15"/>
<circle cx="370.5" cy="250.9" r="6.15"/>
<circle cx="374.4" cy="266.5" r="6.15"/>
<circle cx="351.9" cy="257.3" r="6.15"/>
<circle cx="357.1" cy="256.2" r="6.15"/>
<circle cx="356.7" cy="267.1" r="6.15"/>
<circle cx="371.3" cy="264.3" r="6.15"/>
<circle cx="383" cy="255.4" r="6.15"/>
<circle cx="367.6" cy="254.8" r="6.15"/>
<circle cx="354" cy="267.2" r="6.15"/>
<circle cx="367.8" cy="258" r="6.15"/>
<circle cx="363.2" cy="263.6" r="6.15"/>
<circle cx="366.2" cy="253.7" r="6.15"/>
<circle cx="346.9" cy="254.2" r="6.15"/>
<circle cx="353.8" cy="265.9" r="6.15"/>
<circle cx="361.8" cy="261.7" r="6.15"/>
<circle cx="378.9" cy="263.5" r="6.15"/>
<circle cx="381.3" cy="255.4" r="6.15"/>
<circle cx="353.1" cy="258.1" r="6.15"/>
<circle cx="350.3" cy="265.4" r="6.15"/>
<circle cx="376.3" cy="258" r="6.15"/>
<circle cx="347.7" cy="264.7" r="6.15"/>
<circle cx="364.1" cy="262" r="6.15"/>
<circle cx="348.8" cy="253.2" r="6.15"/>
<circle cx="350.1" cy="253" r="6.15"/>
<circle cx="357.3" cy="266.7" r="6.15"/>
<circle cx="380.6" cy="254.6" r="6.15"/>
<circle cx="377" cy="257.7" r="6.15"/>
<circle cx="379.6" cy="255.4" r="6.15"/>
<circle cx="369.6" cy="256.9" r="6.15"/>
<circle cx="386.7" cy="262.1" r="6.15"/>
<circle cx="365.5" cy="262.4" r="6.15"/>
<circle cx="352.6" cy="262.4" r="6.15"/>
<circle cx="379.3" cy="263.7" r="6.15"/>
<circle cx="349.8" cy="251.8" r="6.15"/>
<circle cx="426.1" cy="257.8" r="6.15"/>
<circle cx="374.8" cy="257.4" r="6.15"/>
<circle cx="358.7" cy="264.9" r="6.15"/>
<circle cx="372.6" cy="253.7" r="6.15"/>
<circle cx="348.6" cy="257.1" r="6.15"/>
<circle cx="365.2" cy="260.5" r="6.15"/>
<circle cx="368.2" cy="266.2" r="6.15"/>
<circle cx="353.6" cy="264" r="6.15"/>
<circle cx="360.7" cy="258.2" r="6.15"/>
<circle cx="362.2" cy="253.6" r="6.15"/>
<circle cx="394.1" cy="255.8" r="6.15"/>
<circle cx="368.3" cy="259.3" r="6.15"/>
<circle cx="346.8" cy="261.4" r="6.15"/>
<circle cx="380.2" cy="261.5" r="6.15"/>
<circle cx="373.7" cy="255.6" r="6.15"/>
<circle cx="376" cy="258.3" r="6.15"/>
<circle cx="356.6" cy="252.9" r="6.15"/>
<circle cx="365.3" cy="257" r="6.15"/>
<circle cx="364.8" cy="253.9" r="6.15"/>
<circle cx="351.5" cy="254" r="6.15"/>
<circle cx="371.7" cy="266" r="6.15"/>
<circle cx="354.9" cy="259.1" r="6.15"/>
<circle cx="365.9" cy="266.4" r="6.15"/>
<circle cx="347.9" cy="255.7" r="6.15"/>
<circle cx="360" cy="261.7" r="6.15"/>
<circle cx="400.8" cy="258.3" r="6.15"/>
<circle cx="396.9" cy="256.5" r="6.15"/>
<circle cx="391.5" cy="256.8" r="6.15"/>
<circle cx="388.9" cy="258.1" r="6.15"/>
<circle cx="354.7" cy="257.4" r="6.15"/>
<circle cx="385.4" cy="256.7" r="6.15"/>
<circle cx="374.2" cy="251.5" r="6.15"/>
<circle cx="360" cy="254.3" r="6.15"/>
<circle cx="348.2" cy="252" r="6.15"/>
<circle cx="370.3" cy="257.4" r="6.15"/>
</g>
<line x1="373.9" y1="242.4" x2="373.9" y2="274.4" stroke="#231f20" stroke-width="3.5"/>
<text x="326.2" y="316.9" font-size="29.4" text-anchor="end">Cytotoxic T cell</text>
<g fill="#e3e668" stroke="#231f20" stroke-width="1.2">
<circle cx="358.2" cy="306.8" r="6.15"/>
<circle cx="363.3" cy="315.1" r="6.15"/>
<circle cx="370.4" cy="314.3" r="6.15"/>
<circle cx="377.6" cy="309.7" r="6.15"/>
<circle cx="357.6" cy="308" r="6.15"/>
<circle cx="359.3" cy="310.9" r="6.15"/>
<circle cx="377.5" cy="307.5" r="6.15"/>
<circle cx="376.3" cy="310.6" r="6.15"/>
<circle cx="410.8" cy="308.1" r="6.15"/>
<circle cx="369.8" cy="316.6" r="6.15"/>
<circle cx="372.9" cy="304.7" r="6.15"/>
<circle cx="393.6" cy="308.4" r="6.15"/>
<circle cx="402.3" cy="311.1" r="6.15"/>
<circle cx="362.1" cy="314.6" r="6.15"/>
<circle cx="373.2" cy="315.5" r="6.15"/>
<circle cx="366.5" cy="308.8" r="6.15"/>
<circle cx="418" cy="308.4" r="6.15"/>
<circle cx="346.1" cy="304.3" r="6.15"/>
<circle cx="369.3" cy="304.3" r="6.15"/>
<circle cx="359.5" cy="306" r="6.15"/>
<circle cx="353.6" cy="303.5" r="6.15"/>
<circle cx="356.9" cy="301" r="6.15"/>
<circle cx="375.4" cy="308.6" r="6.15"/>
<circle cx="392.7" cy="306.4" r="6.15"/>
<circle cx="388.7" cy="306.5" r="6.15"/>
<circle cx="349.7" cy="301.8" r="6.15"/>
<circle cx="428.7" cy="307.6" r="6.15"/>
<circle cx="362.3" cy="313" r="6.15"/>
<circle cx="404.2" cy="306.2" r="6.15"/>
<circle cx="369.1" cy="312.8" r="6.15"/>
<circle cx="350.2" cy="306.4" r="6.15"/>
<circle cx="359.8" cy="299.4" r="6.15"/>
<circle cx="373.6" cy="300.8" r="6.15"/>
<circle cx="358.6" cy="305.8" r="6.15"/>
<circle cx="352.9" cy="316.1" r="6.15"/>
<circle cx="366" cy="298.8" r="6.15"/>
<circle cx="370.8" cy="310.1" r="6.15"/>
<circle cx="383.1" cy="311.9" r="6.15"/>
<circle cx="377" cy="307.4" r="6.15"/>
<circle cx="436.1" cy="308.1" r="6.15"/>
<circle cx="345.8" cy="314.6" r="6.15"/>
<circle cx="347.2" cy="312.4" r="6.15"/>
<circle cx="374.1" cy="309.7" r="6.15"/>
<circle cx="353.1" cy="301.2" r="6.15"/>
<circle cx="381.4" cy="304.8" r="6.15"/>
<circle cx="355.5" cy="301.8" r="6.15"/>
<circle cx="376.4" cy="302.4" r="6.15"/>
<circle cx="346.9" cy="315.4" r="6.15"/>
<circle cx="345" cy="308.4" r="6.15"/>
<circle cx="371.7" cy="304.2" r="6.15"/>
<circle cx="370.1" cy="311.3" r="6.15"/>
<circle cx="365" cy="300.7" r="6.15"/>
<circle cx="354.2" cy="303.8" r="6.15"/>
<circle cx="364.5" cy="303.2" r="6.15"/>
<circle cx="379.7" cy="307.6" r="6.15"/>
<circle cx="343.8" cy="310.3" r="6.15"/>
<circle cx="353.4" cy="313.2" r="6.15"/>
<circle cx="402.5" cy="304.4" r="6.15"/>
<circle cx="443.3" cy="308.2" r="6.15"/>
<circle cx="355.6" cy="315.7" r="6.15"/>
<circle cx="364.6" cy="315.3" r="6.15"/>
<circle cx="398" cy="309.6" r="6.15"/>
<circle cx="360.2" cy="298.8" r="6.15"/>
<circle cx="352.2" cy="300.1" r="6.15"/>
<circle cx="397.9" cy="306.6" r="6.15"/>
<circle cx="367.8" cy="314.5" r="6.15"/>
<circle cx="360.8" cy="304.4" r="6.15"/>
<circle cx="372.1" cy="303" r="6.15"/>
<circle cx="349.2" cy="315.6" r="6.15"/>
<circle cx="347.6" cy="312" r="6.15"/>
<circle cx="349.1" cy="313.6" r="6.15"/>
<circle cx="354.7" cy="303.7" r="6.15"/>
<circle cx="371.5" cy="313.8" r="6.15"/>
<circle cx="357.2" cy="314.4" r="6.15"/>
<circle cx="375.5" cy="315.8" r="6.15"/>
<circle cx="395.4" cy="307.9" r="6.15"/>
<circle cx="348.3" cy="302.5" r="6.15"/>
<circle cx="353.9" cy="313.7" r="6.15"/>
<circle cx="366.7" cy="301.3" r="6.15"/>
<circle cx="372.7" cy="310.4" r="6.15"/>
<circle cx="362.5" cy="304.3" r="6.15"/>
<circle cx="370.5" cy="311.9" r="6.15"/>
<circle cx="375.8" cy="306" r="6.15"/>
<circle cx="373.9" cy="300.6" r="6.15"/>
<circle cx="372.5" cy="307.6" r="6.15"/>
<circle cx="344.1" cy="311.5" r="6.15"/>
<circle cx="345.4" cy="311.4" r="6.15"/>
<circle cx="348.5" cy="312" r="6.15"/>
<circle cx="351" cy="310.2" r="6.15"/>
<circle cx="351.6" cy="316.6" r="6.15"/>
<circle cx="378.6" cy="311.9" r="6.15"/>
<circle cx="364" cy="302.9" r="6.15"/>
<circle cx="349.5" cy="305.6" r="6.15"/>
<circle cx="385.8" cy="307.8" r="6.15"/>
<circle cx="344.5" cy="302.4" r="6.15"/>
<circle cx="365.3" cy="315.8" r="6.15"/>
<circle cx="346.1" cy="304.7" r="6.15"/>
<circle cx="361.5" cy="317.1" r="6.15"/>
<circle cx="365.5" cy="303.4" r="6.15"/>
<circle cx="348.1" cy="304.7" r="6.15"/>
<circle cx="355.1" cy="300.8" r="6.15"/>
<circle cx="358.5" cy="310.4" r="6.15"/>
<circle cx="389.8" cy="308.7" r="6.15"/>
<circle cx="356.2" cy="307.6" r="6.15"/>
<circle cx="360.4" cy="308.2" r="6.15"/>
<circle cx="376.8" cy="314.4" r="6.15"/>
<circle cx="351.3" cy="299.8" r="6.15"/>
<circle cx="383.5" cy="307.5" r="6.15"/>
<circle cx="361" cy="306.1" r="6.15"/>
<circle cx="387.5" cy="304.6" r="6.15"/>
<circle cx="350.8" cy="313.8" r="6.15"/>
<circle cx="354.9" cy="299.9" r="6.15"/>
<circle cx="375" cy="314" r="6.15"/>
<circle cx="368.9" cy="307.9" r="6.15"/>
<circle cx="350.5" cy="298.7" r="6.15"/>
<circle cx="363.3" cy="303.1" r="6.15"/>
<circle cx="374.7" cy="306.3" r="6.15"/>
<circle cx="352.5" cy="304.9" r="6.15"/>
<circle cx="347.7" cy="312.9" r="6.15"/>
<circle cx="400.5" cy="310.5" r="6.15"/>
<circle cx="367.4" cy="304.6" r="6.15"/>
<circle cx="378.8" cy="306.2" r="6.15"/>
<circle cx="343.5" cy="311.9" r="6.15"/>
<circle cx="363.6" cy="308.7" r="6.15"/>
<circle cx="371.2" cy="301.3" r="6.15"/>
<circle cx="356.1" cy="308.3" r="6.15"/>
<circle cx="361.6" cy="311.7" r="6.15"/>
<circle cx="356.5" cy="314" r="6.15"/>
<circle cx="391.7" cy="309.4" r="6.15"/>
<circle cx="374.4" cy="302.8" r="6.15"/>
<circle cx="359.1" cy="301.3" r="6.15"/>
<circle cx="367.1" cy="308" r="6.15"/>
<circle cx="378" cy="311.1" r="6.15"/>
<circle cx="351.9" cy="300.7" r="6.15"/>
<circle cx="346.5" cy="311.9" r="6.15"/>
<circle cx="425.1" cy="308.1" r="6.15"/>
<circle cx="367.5" cy="311.5" r="6.15"/>
<circle cx="368.6" cy="313.9" r="6.15"/>
<circle cx="378.3" cy="310" r="6.15"/>
<circle cx="368.1" cy="304.7" r="6.15"/>
<circle cx="344.9" cy="312.5" r="6.15"/>
<circle cx="365.9" cy="314.8" r="6.15"/>
<circle cx="357.9" cy="305.6" r="6.15"/>
<circle cx="362.7" cy="306.1" r="6.15"/>
</g>
<line x1="368.3" y1="291.9" x2="368.3" y2="323.9" stroke="#231f20" stroke-width="3.5"/>
<text x="326.2" y="366.4" font-size="29.4" text-anchor="end">CD163<tspan font-size="17" dy="-10">+</tspan><tspan dy="10"> macrophage</tspan></text>
<g fill="#9b27a0" stroke="#231f20" stroke-width="1.2">
<circle cx="345.8" cy="353.5" r="6.15"/>
<circle cx="416.2" cy="357.6" r="6.15"/>
<circle cx="346.1" cy="359.1" r="6.15"/>
<circle cx="343.6" cy="356.1" r="6.15"/>
<circle cx="344.2" cy="359.1" r="6.15"/>
<circle cx="366.9" cy="359.3" r="6.15"/>
<circle cx="347.9" cy="358.1" r="6.15"/>
<circle cx="345.1" cy="351.4" r="6.15"/>
<circle cx="346.4" cy="360.1" r="6.15"/>
<circle cx="349.3" cy="361.6" r="6.15"/>
<circle cx="347.6" cy="358.4" r="6.15"/>
<circle cx="351" cy="358.6" r="6.15"/>
<circle cx="354.8" cy="361.8" r="6.15"/>
<circle cx="353.3" cy="353.6" r="6.15"/>
<circle cx="349.9" cy="351.1" r="6.15"/>
<circle cx="351.2" cy="357.9" r="6.15"/>
<circle cx="350.8" cy="355.1" r="6.15"/>
<circle cx="355" cy="358" r="6.15"/>
<circle cx="358.3" cy="355.6" r="6.15"/>
<circle cx="364.1" cy="355" r="6.15"/>
<circle cx="372.2" cy="357" r="6.15"/>
<circle cx="354.4" cy="365.6" r="6.15"/>
<circle cx="355.5" cy="351.8" r="6.15"/>
<circle cx="354.3" cy="355.5" r="6.15"/>
<circle cx="346.7" cy="348.5" r="6.15"/>
<circle cx="359.3" cy="357" r="6.15"/>
<circle cx="345.9" cy="359.2" r="6.15"/>
<circle cx="343.1" cy="357.3" r="6.15"/>
<circle cx="390.9" cy="357.9" r="6.15"/>
<circle cx="370.2" cy="358.1" r="6.15"/>
<circle cx="346.5" cy="360.7" r="6.15"/>
<circle cx="348.5" cy="365.5" r="6.15"/>
<circle cx="356.3" cy="354.4" r="6.15"/>
<circle cx="365.2" cy="354" r="6.15"/>
<circle cx="345.5" cy="364.9" r="6.15"/>
<circle cx="345.3" cy="356.3" r="6.15"/>
<circle cx="347.5" cy="359.3" r="6.15"/>
<circle cx="354.9" cy="363.3" r="6.15"/>
<circle cx="366.6" cy="360.1" r="6.15"/>
<circle cx="395.8" cy="357.3" r="6.15"/>
<circle cx="357.4" cy="358.8" r="6.15"/>
<circle cx="352.9" cy="360.2" r="6.15"/>
<circle cx="344.4" cy="364.8" r="6.15"/>
<circle cx="352.1" cy="357.6" r="6.15"/>
<circle cx="351.7" cy="352.8" r="6.15"/>
<circle cx="408.3" cy="357.5" r="6.15"/>
<circle cx="345" cy="364.4" r="6.15"/>
<circle cx="349.1" cy="353.1" r="6.15"/>
<circle cx="354.5" cy="350.2" r="6.15"/>
<circle cx="351.5" cy="355.6" r="6.15"/>
<circle cx="351.5" cy="350.6" r="6.15"/>
<circle cx="346.9" cy="354.4" r="6.15"/>
<circle cx="348.1" cy="361" r="6.15"/>
<circle cx="351.1" cy="364.7" r="6.15"/>
<circle cx="358.5" cy="362.9" r="6.15"/>
<circle cx="349.7" cy="365.8" r="6.15"/>
<circle cx="350" cy="355.1" r="6.15"/>
<circle cx="349" cy="356.4" r="6.15"/>
<circle cx="350.7" cy="360.1" r="6.15"/>
<circle cx="356.7" cy="352" r="6.15"/>
<circle cx="343.9" cy="363.1" r="6.15"/>
<circle cx="347.1" cy="359.9" r="6.15"/>
<circle cx="352.3" cy="360" r="6.15"/>
<circle cx="362.2" cy="353.9" r="6.15"/>
<circle cx="346.6" cy="350.3" r="6.15"/>
<circle cx="361.2" cy="361.5" r="6.15"/>
<circle cx="349.4" cy="355.7" r="6.15"/>
<circle cx="352.7" cy="353.5" r="6.15"/>
<circle cx="349.6" cy="352.7" r="6.15"/>
<circle cx="358.7" cy="366.4" r="6.15"/>
<circle cx="403" cy="357.4" r="6.15"/>
<circle cx="355.8" cy="348.9" r="6.15"/>
<circle cx="359.9" cy="355.1" r="6.15"/>
<circle cx="355.3" cy="351.5" r="6.15"/>
<circle cx="357.3" cy="365.6" r="6.15"/>
<circle cx="353.8" cy="349.8" r="6.15"/>
<circle cx="345.7" cy="353" r="6.15"/>
<circle cx="358.1" cy="348.5" r="6.15"/>
<circle cx="352.9" cy="363.2" r="6.15"/>
<circle cx="353.5" cy="353.7" r="6.15"/>
<circle cx="354" cy="359.2" r="6.15"/>
<circle cx="348.4" cy="359.7" r="6.15"/>
<circle cx="357" cy="352.4" r="6.15"/>
<circle cx="356.5" cy="355" r="6.15"/>
<circle cx="344.8" cy="350.3" r="6.15"/>
<circle cx="347.3" cy="354.9" r="6.15"/>
<circle cx="344.1" cy="361.6" r="6.15"/>
<circle cx="348.2" cy="349" r="6.15"/>
<circle cx="354.7" cy="352.1" r="6.15"/>
<circle cx="356.1" cy="359.1" r="6.15"/>
<circle cx="358.4" cy="348.8" r="6.15"/>
<circle cx="349.7" cy="352.5" r="6.15"/>
<circle cx="358.2" cy="354.2" r="6.15"/>
<circle cx="348.6" cy="350.1" r="6.15"/>
<circle cx="355.1" cy="362.6" r="6.15"/>
<circle cx="356.8" cy="364" r="6.15"/>
<circle cx="347.4" cy="351.3" r="6.15"/>
<circle cx="380.7" cy="357.8" r="6.15"/>
<circle cx="356" cy="356.5" r="6.15"/>
<circle cx="368.7" cy="356.5" r="6.15"/>
<circle cx="355.7" cy="352.2" r="6.15"/>
<circle cx="363.3" cy="355.2" r="6.15"/>
<circle cx="353.9" cy="355.6" r="6.15"/>
<circle cx="343.3" cy="352.5" r="6.15"/>
<circle cx="348.8" cy="359.8" r="6.15"/>
<circle cx="344" cy="350.5" r="6.15"/>
<circle cx="357.6" cy="351.4" r="6.15"/>
<circle cx="352.4" cy="365" r="6.15"/>
<circle cx="343.4" cy="361.3" r="6.15"/>
<circle cx="345.6" cy="357.7" r="6.15"/>
<circle cx="350.6" cy="352.5" r="6.15"/>
<circle cx="350.4" cy="361.4" r="6.15"/>
<circle cx="356.9" cy="351.2" r="6.15"/>
<circle cx="355.9" cy="356.4" r="6.15"/>
<circle cx="351.8" cy="357.2" r="6.15"/>
<circle cx="352.2" cy="362.7" r="6.15"/>
<circle cx="354.1" cy="366.4" r="6.15"/>
<circle cx="350.1" cy="351" r="6.15"/>
<circle cx="347.7" cy="365.6" r="6.15"/>
<circle cx="353.6" cy="358.5" r="6.15"/>
<circle cx="356.3" cy="363" r="6.15"/>
<circle cx="346.9" cy="365.4" r="6.15"/>
<circle cx="357.2" cy="357.6" r="6.15"/>
<circle cx="357.5" cy="365.8" r="6.15"/>
<circle cx="357.9" cy="357.6" r="6.15"/>
<circle cx="355.4" cy="366.6" r="6.15"/>
<circle cx="367.8" cy="355.9" r="6.15"/>
<circle cx="346.2" cy="364.1" r="6.15"/>
<circle cx="344.7" cy="349.9" r="6.15"/>
<circle cx="358.9" cy="366.7" r="6.15"/>
<circle cx="357.8" cy="352.5" r="6.15"/>
<circle cx="351.3" cy="366.1" r="6.15"/>
<circle cx="348.9" cy="365.6" r="6.15"/>
<circle cx="344.6" cy="356.8" r="6.15"/>
<circle cx="344.2" cy="362.2" r="6.15"/>
<circle cx="353.2" cy="353.9" r="6.15"/>
<circle cx="348" cy="361.5" r="6.15"/>
<circle cx="343.7" cy="350.8" r="6.15"/>
<circle cx="343.1" cy="355.9" r="6.15"/>
<circle cx="352.6" cy="359.1" r="6.15"/>
<circle cx="350.4" cy="354.8" r="6.15"/>
<circle cx="351.9" cy="354" r="6.15"/>
<circle cx="353.1" cy="364.6" r="6.15"/>
<circle cx="345.1" cy="362.2" r="6.15"/>
</g>
<line x1="354.7" y1="341.5" x2="354.7" y2="373.5" stroke="#231f20" stroke-width="3.5"/>
<text x="326.2" y="415.8" font-size="29.4" text-anchor="end">B cell</text>
<g fill="#f28020" stroke="#231f20" stroke-width="1.2">
<circle cx="346.3" cy="400.8" r="6.15"/>
<circle cx="348.9" cy="404.7" r="6.15"/>
<circle cx="354.6" cy="408.4" r="6.15"/>
<circle cx="347.7" cy="407.9" r="6.15"/>
<circle cx="363.2" cy="406.2" r="6.15"/>
<circle cx="351" cy="397.9" r="6.15"/>
<circle cx="404.1" cy="406.4" r="6.15"/>
<circle cx="351.2" cy="412.7" r="6.15"/>
<circle cx="350.3" cy="412.1" r="6.15"/>
<circle cx="346.4" cy="406.3" r="6.15"/>
<circle cx="352.3" cy="403.7" r="6.15"/>
<circle cx="355.4" cy="410.4" r="6.15"/>
<circle cx="356.4" cy="403.5" r="6.15"/>
<circle cx="347.6" cy="411.4" r="6.15"/>
<circle cx="419" cy="407.7" r="6.15"/>
<circle cx="477.3" cy="406.8" r="6.15"/>
<circle cx="413.9" cy="407.3" r="6.15"/>
<circle cx="355.5" cy="403" r="6.15"/>
<circle cx="351.7" cy="399.3" r="6.15"/>
<circle cx="348.4" cy="414.5" r="6.15"/>
<circle cx="352" cy="398.5" r="6.15"/>
<circle cx="345.4" cy="407.7" r="6.15"/>
<circle cx="355.9" cy="407" r="6.15"/>
<circle cx="343" cy="404.4" r="6.15"/>
<circle cx="343.5" cy="415.1" r="6.15"/>
<circle cx="353.6" cy="399.2" r="6.15"/>
<circle cx="344.2" cy="404.4" r="6.15"/>
<circle cx="343.5" cy="412.9" r="6.15"/>
<circle cx="350.7" cy="409.6" r="6.15"/>
<circle cx="346.5" cy="407.4" r="6.15"/>
<circle cx="343.7" cy="415.7" r="6.15"/>
<circle cx="343.2" cy="409.8" r="6.15"/>
<circle cx="356.7" cy="405.8" r="6.15"/>
<circle cx="354.5" cy="404.4" r="6.15"/>
<circle cx="346.9" cy="402.9" r="6.15"/>
<circle cx="421.2" cy="406.3" r="6.15"/>
<circle cx="353.3" cy="401.4" r="6.15"/>
<circle cx="399.7" cy="406.7" r="6.15"/>
<circle cx="349.7" cy="398.2" r="6.15"/>
<circle cx="348.5" cy="402.6" r="6.15"/>
<circle cx="407.2" cy="406.5" r="6.15"/>
<circle cx="343.8" cy="401.2" r="6.15"/>
<circle cx="354.9" cy="399.7" r="6.15"/>
<circle cx="398.6" cy="407.2" r="6.15"/>
<circle cx="360.3" cy="407" r="6.15"/>
<circle cx="352.4" cy="413.7" r="6.15"/>
<circle cx="378.9" cy="407.6" r="6.15"/>
<circle cx="355.1" cy="404.7" r="6.15"/>
<circle cx="425.4" cy="407.3" r="6.15"/>
<circle cx="348" cy="401.1" r="6.15"/>
<circle cx="356.5" cy="403.9" r="6.15"/>
<circle cx="384.4" cy="406.2" r="6.15"/>
<circle cx="367.3" cy="406.8" r="6.15"/>
<circle cx="428.6" cy="407.1" r="6.15"/>
<circle cx="351.4" cy="403.9" r="6.15"/>
<circle cx="354.1" cy="401.3" r="6.15"/>
<circle cx="356.7" cy="410.1" r="6.15"/>
<circle cx="355.6" cy="414.4" r="6.15"/>
<circle cx="344.1" cy="409.9" r="6.15"/>
<circle cx="344.9" cy="409" r="6.15"/>
<circle cx="344.5" cy="410.5" r="6.15"/>
<circle cx="396" cy="407.4" r="6.15"/>
<circle cx="350.3" cy="403.5" r="6.15"/>
<circle cx="349.4" cy="413.8" r="6.15"/>
<circle cx="352.9" cy="400.3" r="6.15"/>
<circle cx="350.6" cy="407.9" r="6.15"/>
<circle cx="409.5" cy="407.8" r="6.15"/>
<circle cx="344" cy="405.3" r="6.15"/>
<circle cx="392.1" cy="406.8" r="6.15"/>
<circle cx="391.2" cy="406.4" r="6.15"/>
<circle cx="353.1" cy="407.2" r="6.15"/>
<circle cx="365.7" cy="407.5" r="6.15"/>
<circle cx="346" cy="414.4" r="6.15"/>
<circle cx="345.1" cy="397.9" r="6.15"/>
<circle cx="354.8" cy="405.7" r="6.15"/>
<circle cx="401.9" cy="407" r="6.15"/>
<circle cx="353.2" cy="414.2" r="6.15"/>
<circle cx="454.9" cy="407.2" r="6.15"/>
<circle cx="380.1" cy="407.7" r="6.15"/>
<circle cx="496.1" cy="406.8" r="6.15"/>
<circle cx="349.1" cy="408.9" r="6.15"/>
<circle cx="350.9" cy="410.4" r="6.15"/>
<circle cx="356.2" cy="403.5" r="6.15"/>
<circle cx="347.4" cy="403.5" r="6.15"/>
<circle cx="349.5" cy="408.5" r="6.15"/>
<circle cx="349.4" cy="404.6" r="6.15"/>
<circle cx="344.3" cy="401.6" r="6.15"/>
<circle cx="373.8" cy="407.4" r="6.15"/>
<circle cx="344.9" cy="406.7" r="6.15"/>
<circle cx="348.3" cy="413.6" r="6.15"/>
<circle cx="352.2" cy="414.9" r="6.15"/>
<circle cx="342.8" cy="409.2" r="6.15"/>
<circle cx="344.7" cy="405.9" r="6.15"/>
<circle cx="347.8" cy="414.2" r="6.15"/>
<circle cx="355" cy="408.7" r="6.15"/>
<circle cx="376.9" cy="406.5" r="6.15"/>
<circle cx="347.3" cy="410.8" r="6.15"/>
<circle cx="343" cy="406.7" r="6.15"/>
<circle cx="352.5" cy="404.3" r="6.15"/>
<circle cx="351.7" cy="412.6" r="6.15"/>
<circle cx="345.7" cy="400.6" r="6.15"/>
<circle cx="353.7" cy="400.8" r="6.15"/>
<circle cx="343.4" cy="404.6" r="6.15"/>
<circle cx="345.8" cy="406.2" r="6.15"/>
<circle cx="346.7" cy="407.9" r="6.15"/>
<circle cx="348.6" cy="398.2" r="6.15"/>
<circle cx="346.1" cy="398.3" r="6.15"/>
<circle cx="345.2" cy="404.8" r="6.15"/>
<circle cx="355.2" cy="414.1" r="6.15"/>
<circle cx="345.5" cy="404.5" r="6.15"/>
<circle cx="350.5" cy="402.4" r="6.15"/>
<circle cx="356.9" cy="400" r="6.15"/>
<circle cx="351.3" cy="406.2" r="6.15"/>
<circle cx="353.4" cy="398.5" r="6.15"/>
<circle cx="350" cy="399.3" r="6.15"/>
<circle cx="350" cy="403.9" r="6.15"/>
<circle cx="352.8" cy="407.7" r="6.15"/>
<circle cx="354" cy="403.1" r="6.15"/>
<circle cx="351.6" cy="401.3" r="6.15"/>
<circle cx="354.2" cy="398.7" r="6.15"/>
<circle cx="349.8" cy="412.5" r="6.15"/>
<circle cx="344.5" cy="401" r="6.15"/>
<circle cx="413.5" cy="407.4" r="6.15"/>
<circle cx="352.7" cy="416.1" r="6.15"/>
<circle cx="347" cy="403.7" r="6.15"/>
<circle cx="427.4" cy="407.2" r="6.15"/>
<circle cx="346.7" cy="402.3" r="6.15"/>
<circle cx="356.2" cy="405.4" r="6.15"/>
<circle cx="347.1" cy="400.5" r="6.15"/>
<circle cx="357.1" cy="399" r="6.15"/>
<circle cx="345.6" cy="407" r="6.15"/>
<circle cx="357.4" cy="398.9" r="6.15"/>
<circle cx="388" cy="406.3" r="6.15"/>
<circle cx="348.2" cy="400.2" r="6.15"/>
<circle cx="382.9" cy="407.8" r="6.15"/>
<circle cx="351.9" cy="398.8" r="6.15"/>
<circle cx="371.2" cy="407.2" r="6.15"/>
<circle cx="357.1" cy="410.5" r="6.15"/>
<circle cx="458.6" cy="406.9" r="6.15"/>
<circle cx="349.2" cy="399.1" r="6.15"/>
<circle cx="357.2" cy="416.2" r="6.15"/>
<circle cx="355.8" cy="406.8" r="6.15"/>
<circle cx="354.3" cy="403.9" r="6.15"/>
<circle cx="356" cy="408.3" r="6.15"/>
<circle cx="471.7" cy="406.8" r="6.15"/>
<circle cx="348.9" cy="400.4" r="6.15"/>
<circle cx="416.8" cy="406.3" r="6.15"/>
<circle cx="357.6" cy="406.3" r="6.15"/>
<circle cx="348" cy="411.6" r="6.15"/>
<circle cx="353.8" cy="409" r="6.15"/>
</g>
<line x1="358.4" y1="391" x2="358.4" y2="423" stroke="#231f20" stroke-width="3.5"/>
<text x="326.2" y="465.3" font-size="29.4" text-anchor="end">Neutrophil</text>
<g fill="#ed1c24" stroke="#231f20" stroke-width="1.2">
<circle cx="342.8" cy="459.6" r="6.15"/>
<circle cx="349.2" cy="458.5" r="6.15"/>
<circle cx="357.2" cy="460.6" r="6.15"/>
<circle cx="360.7" cy="456.4" r="6.15"/>
<circle cx="352.4" cy="461.8" r="6.15"/>
<circle cx="351.6" cy="457.1" r="6.15"/>
<circle cx="347.6" cy="455.5" r="6.15"/>
<circle cx="344.5" cy="448" r="6.15"/>
<circle cx="362.3" cy="454.9" r="6.15"/>
<circle cx="348.4" cy="458.5" r="6.15"/>
<circle cx="355.4" cy="456.5" r="6.15"/>
<circle cx="345.2" cy="452.5" r="6.15"/>
<circle cx="351.7" cy="455.6" r="6.15"/>
<circle cx="352.8" cy="460.3" r="6.15"/>
<circle cx="344.1" cy="462.1" r="6.15"/>
<circle cx="344.6" cy="456.7" r="6.15"/>
<circle cx="352.3" cy="448.8" r="6.15"/>
<circle cx="352.1" cy="450.5" r="6.15"/>
<circle cx="378.2" cy="456.3" r="6.15"/>
<circle cx="353.3" cy="460.4" r="6.15"/>
<circle cx="349.9" cy="455.8" r="6.15"/>
<circle cx="356.3" cy="456.7" r="6.15"/>
<circle cx="350.7" cy="453.3" r="6.15"/>
<circle cx="344" cy="459.4" r="6.15"/>
<circle cx="352.3" cy="462" r="6.15"/>
<circle cx="367.8" cy="456.1" r="6.15"/>
<circle cx="348.8" cy="447.5" r="6.15"/>
<circle cx="354.8" cy="465.5" r="6.15"/>
<circle cx="345.8" cy="450.7" r="6.15"/>
<circle cx="377" cy="456.8" r="6.15"/>
<circle cx="348.7" cy="448.6" r="6.15"/>
<circle cx="344.8" cy="453.6" r="6.15"/>
<circle cx="350.9" cy="448.9" r="6.15"/>
<circle cx="356.8" cy="449.1" r="6.15"/>
<circle cx="353.9" cy="458" r="6.15"/>
<circle cx="353.3" cy="463.1" r="6.15"/>
<circle cx="356.1" cy="455.8" r="6.15"/>
<circle cx="363.4" cy="459.6" r="6.15"/>
<circle cx="355.3" cy="451.7" r="6.15"/>
<circle cx="358.8" cy="456.3" r="6.15"/>
<circle cx="345.6" cy="460.5" r="6.15"/>
<circle cx="355" cy="454.6" r="6.15"/>
<circle cx="354.1" cy="465.9" r="6.15"/>
<circle cx="356.6" cy="449.9" r="6.15"/>
<circle cx="365" cy="456.3" r="6.15"/>
<circle cx="349.4" cy="455.6" r="6.15"/>
<circle cx="349.5" cy="460.8" r="6.15"/>
<circle cx="356.9" cy="465.2" r="6.15"/>
<circle cx="475.9" cy="456.8" r="6.15"/>
<circle cx="349.7" cy="465.2" r="6.15"/>
<circle cx="347.5" cy="450" r="6.15"/>
<circle cx="348.5" cy="448.1" r="6.15"/>
<circle cx="355.8" cy="460.1" r="6.15"/>
<circle cx="354.2" cy="456.4" r="6.15"/>
<circle cx="349.6" cy="451.4" r="6.15"/>
<circle cx="353.1" cy="458.6" r="6.15"/>
<circle cx="343.4" cy="453.7" r="6.15"/>
<circle cx="346.4" cy="459.3" r="6.15"/>
<circle cx="345.3" cy="455.6" r="6.15"/>
<circle cx="353.4" cy="460.2" r="6.15"/>
<circle cx="347" cy="454.8" r="6.15"/>
<circle cx="352.6" cy="454.3" r="6.15"/>
<circle cx="346.6" cy="453.9" r="6.15"/>
<circle cx="356.4" cy="451.8" r="6.15"/>
<circle cx="347.1" cy="463.3" r="6.15"/>
<circle cx="357.3" cy="462.5" r="6.15"/>
<circle cx="351.1" cy="462.6" r="6.15"/>
<circle cx="345.4" cy="463.8" r="6.15"/>
<circle cx="351.9" cy="447.6" r="6.15"/>
<circle cx="355.1" cy="459.5" r="6.15"/>
<circle cx="345.1" cy="464.2" r="6.15"/>
<circle cx="348.2" cy="452.8" r="6.15"/>
<circle cx="351.4" cy="464.7" r="6.15"/>
<circle cx="349.1" cy="451.9" r="6.15"/>
<circle cx="343" cy="448.7" r="6.15"/>
<circle cx="354.7" cy="464.2" r="6.15"/>
<circle cx="346.8" cy="454" r="6.15"/>
<circle cx="345" cy="449" r="6.15"/>
<circle cx="350.7" cy="457.2" r="6.15"/>
<circle cx="633.7" cy="456.7" r="6.15"/>
<circle cx="350.3" cy="450.8" r="6.15"/>
<circle cx="351.7" cy="453.1" r="6.15"/>
<circle cx="370.6" cy="456.5" r="6.15"/>
<circle cx="354.5" cy="459.3" r="6.15"/>
<circle cx="352.9" cy="452.2" r="6.15"/>
<circle cx="347.9" cy="452.5" r="6.15"/>
<circle cx="352" cy="447.9" r="6.15"/>
<circle cx="345.9" cy="447.8" r="6.15"/>
<circle cx="353.8" cy="464.1" r="6.15"/>
<circle cx="355.6" cy="452.3" r="6.15"/>
<circle cx="358.1" cy="455.4" r="6.15"/>
<circle cx="347.7" cy="465.1" r="6.15"/>
<circle cx="348" cy="458.4" r="6.15"/>
<circle cx="353.6" cy="464.9" r="6.15"/>
<circle cx="354" cy="451.9" r="6.15"/>
<circle cx="351" cy="452.5" r="6.15"/>
<circle cx="342.9" cy="449" r="6.15"/>
<circle cx="345.5" cy="448.9" r="6.15"/>
<circle cx="349.8" cy="459.1" r="6.15"/>
<circle cx="345.8" cy="465.8" r="6.15"/>
<circle cx="354.6" cy="453.9" r="6.15"/>
<circle cx="343.6" cy="463.5" r="6.15"/>
<circle cx="356.6" cy="460.3" r="6.15"/>
<circle cx="355.4" cy="456.5" r="6.15"/>
<circle cx="353" cy="447.4" r="6.15"/>
<circle cx="346.2" cy="461.1" r="6.15"/>
<circle cx="357.1" cy="462" r="6.15"/>
<circle cx="350.1" cy="448.5" r="6.15"/>
<circle cx="381.8" cy="456.3" r="6.15"/>
<circle cx="346.8" cy="452.6" r="6.15"/>
<circle cx="350.5" cy="450.8" r="6.15"/>
<circle cx="375" cy="456.6" r="6.15"/>
<circle cx="366.5" cy="456.7" r="6.15"/>
<circle cx="364.7" cy="456" r="6.15"/>
<circle cx="344.4" cy="452.1" r="6.15"/>
<circle cx="348.3" cy="448.5" r="6.15"/>
<circle cx="343.3" cy="457.7" r="6.15"/>
<circle cx="348.2" cy="447.3" r="6.15"/>
<circle cx="343.8" cy="450.3" r="6.15"/>
<circle cx="367.5" cy="459" r="6.15"/>
<circle cx="350.2" cy="448.8" r="6.15"/>
<circle cx="343.1" cy="454.1" r="6.15"/>
<circle cx="349.1" cy="463.3" r="6.15"/>
<circle cx="360.3" cy="453.1" r="6.15"/>
<circle cx="346.1" cy="457.5" r="6.15"/>
<circle cx="346.3" cy="456.4" r="6.15"/>
<circle cx="347.3" cy="461.4" r="6.15"/>
<circle cx="343.5" cy="463.7" r="6.15"/>
<circle cx="352.7" cy="457.6" r="6.15"/>
<circle cx="348.9" cy="451.1" r="6.15"/>
<circle cx="353.6" cy="464.1" r="6.15"/>
<circle cx="357.4" cy="451.3" r="6.15"/>
<circle cx="344.8" cy="448.7" r="6.15"/>
<circle cx="344" cy="461.6" r="6.15"/>
<circle cx="347.2" cy="458.3" r="6.15"/>
<circle cx="356.2" cy="455.6" r="6.15"/>
<circle cx="355.8" cy="460.4" r="6.15"/>
<circle cx="350.4" cy="462.8" r="6.15"/>
<circle cx="343.7" cy="453.3" r="6.15"/>
<circle cx="351.2" cy="457.7" r="6.15"/>
<circle cx="357" cy="456.5" r="6.15"/>
<circle cx="344.3" cy="457.3" r="6.15"/>
<circle cx="346.7" cy="457.5" r="6.15"/>
<circle cx="347.5" cy="448.3" r="6.15"/>
<circle cx="351.3" cy="463.7" r="6.15"/>
<circle cx="354.3" cy="459.2" r="6.15"/>
<circle cx="355" cy="453.5" r="6.15"/>
<circle cx="458.1" cy="456.8" r="6.15"/>
<circle cx="356" cy="452.2" r="6.15"/>
</g>
<line x1="352.3" y1="440.5" x2="352.3" y2="472.5" stroke="#231f20" stroke-width="3.5"/>
<text x="326.2" y="514.7" font-size="29.4" text-anchor="end">Classical monocyte</text>
<g fill="#4472c4" stroke="#231f20" stroke-width="1.2">
<circle cx="350.4" cy="498.9" r="6.15"/>
<circle cx="345.7" cy="504.5" r="6.15"/>
<circle cx="348" cy="507.5" r="6.15"/>
<circle cx="358.2" cy="499.4" r="6.15"/>
<circle cx="354.9" cy="515.4" r="6.15"/>
<circle cx="352.1" cy="500.8" r="6.15"/>
<circle cx="352.4" cy="506.6" r="6.15"/>
<circle cx="355.8" cy="506" r="6.15"/>
<circle cx="349.4" cy="500.8" r="6.15"/>
<circle cx="347.5" cy="497.2" r="6.15"/>
<circle cx="356.8" cy="508.6" r="6.15"/>
<circle cx="352.8" cy="499.5" r="6.15"/>
<circle cx="344.8" cy="510" r="6.15"/>
<circle cx="349.5" cy="515.3" r="6.15"/>
<circle cx="362.7" cy="508.9" r="6.15"/>
<circle cx="355" cy="513.2" r="6.15"/>
<circle cx="346.3" cy="500" r="6.15"/>
<circle cx="355.1" cy="508.8" r="6.15"/>
<circle cx="349.3" cy="511.6" r="6.15"/>
<circle cx="356.2" cy="514.6" r="6.15"/>
<circle cx="344" cy="506.1" r="6.15"/>
<circle cx="354.3" cy="498.6" r="6.15"/>
<circle cx="345.9" cy="504.9" r="6.15"/>
<circle cx="358.9" cy="497.1" r="6.15"/>
<circle cx="352.9" cy="504.6" r="6.15"/>
<circle cx="358.5" cy="500.5" r="6.15"/>
<circle cx="358.3" cy="499.5" r="6.15"/>
<circle cx="375.2" cy="506.4" r="6.15"/>
<circle cx="356.8" cy="512.9" r="6.15"/>
<circle cx="351.4" cy="506.1" r="6.15"/>
<circle cx="344.5" cy="499.8" r="6.15"/>
<circle cx="363.1" cy="505.7" r="6.15"/>
<circle cx="358" cy="509.3" r="6.15"/>
<circle cx="377" cy="506" r="6.15"/>
<circle cx="357.6" cy="511.9" r="6.15"/>
<circle cx="346.4" cy="498.9" r="6.15"/>
<circle cx="352.4" cy="511" r="6.15"/>
<circle cx="349" cy="513.1" r="6.15"/>
<circle cx="359.2" cy="504.7" r="6.15"/>
<circle cx="366.6" cy="505.2" r="6.15"/>
<circle cx="357.3" cy="497.8" r="6.15"/>
<circle cx="351" cy="506.7" r="6.15"/>
<circle cx="343.6" cy="500.8" r="6.15"/>
<circle cx="351.1" cy="504.8" r="6.15"/>
<circle cx="348.7" cy="513.7" r="6.15"/>
<circle cx="356" cy="500.7" r="6.15"/>
<circle cx="356.2" cy="503.6" r="6.15"/>
<circle cx="344.2" cy="506" r="6.15"/>
<circle cx="346.8" cy="504.5" r="6.15"/>
<circle cx="347.6" cy="496.9" r="6.15"/>
<circle cx="351.6" cy="501.3" r="6.15"/>
<circle cx="343.2" cy="509.7" r="6.15"/>
<circle cx="358.7" cy="502.1" r="6.15"/>
<circle cx="347" cy="499.4" r="6.15"/>
<circle cx="353.4" cy="505.9" r="6.15"/>
<circle cx="347.7" cy="512.8" r="6.15"/>
<circle cx="350.4" cy="499.1" r="6.15"/>
<circle cx="348.2" cy="512.5" r="6.15"/>
<circle cx="347.9" cy="497.4" r="6.15"/>
<circle cx="355.2" cy="512.8" r="6.15"/>
<circle cx="348.1" cy="507.4" r="6.15"/>
<circle cx="348.5" cy="502.6" r="6.15"/>
<circle cx="343.4" cy="513.5" r="6.15"/>
<circle cx="373.7" cy="506.6" r="6.15"/>
<circle cx="353.7" cy="500.1" r="6.15"/>
<circle cx="352.9" cy="504.9" r="6.15"/>
<circle cx="410.9" cy="505.6" r="6.15"/>
<circle cx="351.9" cy="506.2" r="6.15"/>
<circle cx="357.5" cy="501.5" r="6.15"/>
<circle cx="361.3" cy="505.7" r="6.15"/>
<circle cx="353.6" cy="504.1" r="6.15"/>
<circle cx="363.8" cy="507.8" r="6.15"/>
<circle cx="350.1" cy="500.1" r="6.15"/>
<circle cx="369.4" cy="509.4" r="6.15"/>
<circle cx="369.8" cy="507.7" r="6.15"/>
<circle cx="347.3" cy="514" r="6.15"/>
<circle cx="351.4" cy="501.8" r="6.15"/>
<circle cx="350.2" cy="513.1" r="6.15"/>
<circle cx="353.4" cy="511.2" r="6.15"/>
<circle cx="345" cy="503.8" r="6.15"/>
<circle cx="353.1" cy="500.1" r="6.15"/>
<circle cx="354.6" cy="511.7" r="6.15"/>
<circle cx="343.9" cy="499.7" r="6.15"/>
<circle cx="350.6" cy="505.2" r="6.15"/>
<circle cx="351.3" cy="507.1" r="6.15"/>
<circle cx="354" cy="507.6" r="6.15"/>
<circle cx="358.1" cy="499" r="6.15"/>
<circle cx="358.5" cy="509.9" r="6.15"/>
<circle cx="353.2" cy="508.8" r="6.15"/>
<circle cx="345.1" cy="503.5" r="6.15"/>
<circle cx="352.2" cy="515.2" r="6.15"/>
<circle cx="343.8" cy="501.8" r="6.15"/>
<circle cx="355.5" cy="514.5" r="6.15"/>
<circle cx="349.2" cy="513.8" r="6.15"/>
<circle cx="343.6" cy="497.1" r="6.15"/>
<circle cx="343" cy="507.6" r="6.15"/>
<circle cx="357" cy="506.4" r="6.15"/>
<circle cx="355.7" cy="502.8" r="6.15"/>
<circle cx="356.5" cy="503.5" r="6.15"/>
<circle cx="345.5" cy="509.6" r="6.15"/>
<circle cx="349.8" cy="501.5" r="6.15"/>
<circle cx="346.1" cy="509.3" r="6.15"/>
<circle cx="352.6" cy="511.6" r="6.15"/>
<circle cx="355.6" cy="514.9" r="6.15"/>
<circle cx="344.6" cy="499.8" r="6.15"/>
<circle cx="345.4" cy="514.1" r="6.15"/>
<circle cx="368.3" cy="509.1" r="6.15"/>
<circle cx="342.8" cy="513.9" r="6.15"/>
<circle cx="344.3" cy="510.9" r="6.15"/>
<circle cx="349.9" cy="497.3" r="6.15"/>
<circle cx="350.9" cy="499.1" r="6.15"/>
<circle cx="346.5" cy="503.7" r="6.15"/>
<circle cx="347.1" cy="512.5" r="6.15"/>
<circle cx="354.7" cy="501.4" r="6.15"/>
<circle cx="351.7" cy="503.3" r="6.15"/>
<circle cx="354.4" cy="512.6" r="6.15"/>
<circle cx="372" cy="506.6" r="6.15"/>
<circle cx="349.6" cy="503.5" r="6.15"/>
<circle cx="356.6" cy="507.1" r="6.15"/>
<circle cx="352" cy="511.7" r="6.15"/>
<circle cx="345.8" cy="512.5" r="6.15"/>
<circle cx="357.2" cy="514.2" r="6.15"/>
<circle cx="353.9" cy="511.8" r="6.15"/>
<circle cx="367.6" cy="504.4" r="6.15"/>
<circle cx="365.1" cy="508.4" r="6.15"/>
<circle cx="346.7" cy="509.5" r="6.15"/>
<circle cx="345.3" cy="500.8" r="6.15"/>
<circle cx="347.4" cy="512.6" r="6.15"/>
<circle cx="347" cy="506.8" r="6.15"/>
<circle cx="344.5" cy="500.6" r="6.15"/>
<circle cx="348.8" cy="497" r="6.15"/>
<circle cx="343.3" cy="502.5" r="6.15"/>
<circle cx="355.4" cy="502.5" r="6.15"/>
<circle cx="348.8" cy="509.4" r="6.15"/>
<circle cx="360.1" cy="505.8" r="6.15"/>
<circle cx="350" cy="498.1" r="6.15"/>
<circle cx="342.9" cy="499.8" r="6.15"/>
<circle cx="346.2" cy="507" r="6.15"/>
<circle cx="348.4" cy="500.7" r="6.15"/>
<circle cx="354" cy="507" r="6.15"/>
<circle cx="350.7" cy="508.2" r="6.15"/>
<circle cx="357" cy="498.9" r="6.15"/>
<circle cx="560.7" cy="505.9" r="6.15"/>
<circle cx="345.1" cy="500.8" r="6.15"/>
<circle cx="357.9" cy="505.2" r="6.15"/>
<circle cx="356.4" cy="502" r="6.15"/>
<circle cx="354.5" cy="504.5" r="6.15"/>
<circle cx="357.8" cy="509.3" r="6.15"/>
</g>
<line x1="352.3" y1="490.1" x2="352.3" y2="522.1" stroke="#231f20" stroke-width="3.5"/>
<text x="326.2" y="564.2" font-size="29.4" text-anchor="end" textLength="147" lengthAdjust="spacing">Other T cell</text>
<g fill="#4b5320" stroke="#231f20" stroke-width="1.2">
<circle cx="357.3" cy="564.3" r="6.15"/>
<circle cx="354.6" cy="562.4" r="6.15"/>
<circle cx="346.1" cy="562.3" r="6.15"/>
<circle cx="355" cy="552.4" r="6.15"/>
<circle cx="351.3" cy="564.1" r="6.15"/>
<circle cx="351.1" cy="547" r="6.15"/>
<circle cx="374.9" cy="556.4" r="6.15"/>
<circle cx="349.3" cy="550.5" r="6.15"/>
<circle cx="346.2" cy="564.1" r="6.15"/>
<circle cx="348.4" cy="564.9" r="6.15"/>
<circle cx="347.1" cy="548.4" r="6.15"/>
<circle cx="380.6" cy="556.3" r="6.15"/>
<circle cx="351.8" cy="557.2" r="6.15"/>
<circle cx="348.5" cy="563.9" r="6.15"/>
<circle cx="344.9" cy="547.6" r="6.15"/>
<circle cx="347.8" cy="547.5" r="6.15"/>
<circle cx="354.2" cy="556" r="6.15"/>
<circle cx="345.7" cy="553.1" r="6.15"/>
<circle cx="355.5" cy="553" r="6.15"/>
<circle cx="356.2" cy="549.4" r="6.15"/>
<circle cx="352.2" cy="560.6" r="6.15"/>
<circle cx="357.6" cy="558.8" r="6.15"/>
<circle cx="348.3" cy="560.9" r="6.15"/>
<circle cx="354.3" cy="548.5" r="6.15"/>
<circle cx="353.3" cy="562.9" r="6.15"/>
<circle cx="352.1" cy="561.6" r="6.15"/>
<circle cx="352.9" cy="548.9" r="6.15"/>
<circle cx="357.4" cy="558.6" r="6.15"/>
<circle cx="353.8" cy="564.6" r="6.15"/>
<circle cx="345.3" cy="548.2" r="6.15"/>
<circle cx="351.2" cy="558.1" r="6.15"/>
<circle cx="353.5" cy="556.4" r="6.15"/>
<circle cx="342.7" cy="556.6" r="6.15"/>
<circle cx="349" cy="552.7" r="6.15"/>
<circle cx="343" cy="563.1" r="6.15"/>
<circle cx="343.7" cy="561.1" r="6.15"/>
<circle cx="348.1" cy="546.3" r="6.15"/>
<circle cx="346.7" cy="549.1" r="6.15"/>
<circle cx="349.9" cy="558.9" r="6.15"/>
<circle cx="345.5" cy="546.7" r="6.15"/>
<circle cx="349.5" cy="550.4" r="6.15"/>
<circle cx="357" cy="548.4" r="6.15"/>
<circle cx="376.6" cy="555.6" r="6.15"/>
<circle cx="348.5" cy="562.5" r="6.15"/>
<circle cx="355" cy="550.3" r="6.15"/>
<circle cx="344.6" cy="546.7" r="6.15"/>
<circle cx="354.5" cy="560.4" r="6.15"/>
<circle cx="344.3" cy="556.3" r="6.15"/>
<circle cx="357.1" cy="564.6" r="6.15"/>
<circle cx="343.1" cy="556.6" r="6.15"/>
<circle cx="351.8" cy="562.1" r="6.15"/>
<circle cx="350.8" cy="556.2" r="6.15"/>
<circle cx="356.1" cy="553.7" r="6.15"/>
<circle cx="350.7" cy="550.6" r="6.15"/>
<circle cx="356.3" cy="557.1" r="6.15"/>
<circle cx="346.6" cy="546.4" r="6.15"/>
<circle cx="350.5" cy="550.7" r="6.15"/>
<circle cx="352.7" cy="550.3" r="6.15"/>
<circle cx="353" cy="547.6" r="6.15"/>
<circle cx="348.9" cy="548.4" r="6.15"/>
<circle cx="346.5" cy="560.7" r="6.15"/>
<circle cx="344.5" cy="559.3" r="6.15"/>
<circle cx="351.5" cy="548.9" r="6.15"/>
<circle cx="344.7" cy="550.1" r="6.15"/>
<circle cx="344" cy="558.7" r="6.15"/>
<circle cx="349.6" cy="549.9" r="6.15"/>
<circle cx="352.7" cy="559" r="6.15"/>
<circle cx="357.9" cy="554.6" r="6.15"/>
<circle cx="352.4" cy="560" r="6.15"/>
<circle cx="368.1" cy="555.3" r="6.15"/>
<circle cx="347.7" cy="555.1" r="6.15"/>
<circle cx="355.9" cy="552.7" r="6.15"/>
<circle cx="345.4" cy="560.8" r="6.15"/>
<circle cx="356" cy="558.4" r="6.15"/>
<circle cx="347.6" cy="547.8" r="6.15"/>
<circle cx="357.2" cy="563.9" r="6.15"/>
<circle cx="347.5" cy="559.4" r="6.15"/>
<circle cx="347.9" cy="558.9" r="6.15"/>
<circle cx="350" cy="560.9" r="6.15"/>
<circle cx="347" cy="558.3" r="6.15"/>
<circle cx="351.9" cy="559.3" r="6.15"/>
<circle cx="352.3" cy="551.6" r="6.15"/>
<circle cx="350.2" cy="554.9" r="6.15"/>
<circle cx="361.5" cy="556" r="6.15"/>
<circle cx="355.1" cy="564.5" r="6.15"/>
<circle cx="349.8" cy="563.3" r="6.15"/>
<circle cx="350.3" cy="552.6" r="6.15"/>
<circle cx="346.4" cy="561.6" r="6.15"/>
<circle cx="345.1" cy="551.1" r="6.15"/>
<circle cx="349.3" cy="556.8" r="6.15"/>
<circle cx="360.4" cy="555" r="6.15"/>
<circle cx="356.8" cy="559.4" r="6.15"/>
<circle cx="348.7" cy="558.1" r="6.15"/>
<circle cx="356.7" cy="561.5" r="6.15"/>
<circle cx="346.8" cy="548.1" r="6.15"/>
<circle cx="347.2" cy="562.1" r="6.15"/>
<circle cx="343.6" cy="555.8" r="6.15"/>
<circle cx="355.6" cy="551.4" r="6.15"/>
<circle cx="343.2" cy="559.8" r="6.15"/>
<circle cx="345.1" cy="554.3" r="6.15"/>
<circle cx="353.5" cy="563.4" r="6.15"/>
<circle cx="370.9" cy="555.2" r="6.15"/>
<circle cx="351.6" cy="563" r="6.15"/>
<circle cx="343.4" cy="564.7" r="6.15"/>
<circle cx="342.8" cy="553.9" r="6.15"/>
<circle cx="354.7" cy="551.5" r="6.15"/>
<circle cx="343.9" cy="553.9" r="6.15"/>
<circle cx="347.3" cy="556.7" r="6.15"/>
<circle cx="345.8" cy="548.2" r="6.15"/>
<circle cx="354" cy="558" r="6.15"/>
<circle cx="356.4" cy="546.6" r="6.15"/>
<circle cx="351" cy="561.8" r="6.15"/>
<circle cx="342.9" cy="549.1" r="6.15"/>
<circle cx="352.6" cy="557.4" r="6.15"/>
<circle cx="344.4" cy="556.3" r="6.15"/>
<circle cx="353.9" cy="561.3" r="6.15"/>
<circle cx="355.3" cy="554.7" r="6.15"/>
<circle cx="365.3" cy="555.9" r="6.15"/>
<circle cx="351.5" cy="550" r="6.15"/>
<circle cx="343.7" cy="557.3" r="6.15"/>
<circle cx="353.7" cy="547.9" r="6.15"/>
<circle cx="347.9" cy="564.8" r="6.15"/>
<circle cx="348.8" cy="548.3" r="6.15"/>
<circle cx="346" cy="554.2" r="6.15"/>
<circle cx="354.8" cy="553.2" r="6.15"/>
<circle cx="357.8" cy="559.1" r="6.15"/>
<circle cx="346.3" cy="550.3" r="6.15"/>
<circle cx="349.1" cy="556.1" r="6.15"/>
<circle cx="343.4" cy="550.7" r="6.15"/>
<circle cx="350.6" cy="547.9" r="6.15"/>
<circle cx="345.6" cy="559.7" r="6.15"/>
<circle cx="353.2" cy="549.1" r="6.15"/>
<circle cx="354.2" cy="547.3" r="6.15"/>
<circle cx="344.2" cy="563" r="6.15"/>
<circle cx="356.6" cy="551.1" r="6.15"/>
<circle cx="350.2" cy="559.2" r="6.15"/>
<circle cx="355.4" cy="552.2" r="6.15"/>
<circle cx="355.8" cy="547.1" r="6.15"/>
<circle cx="357.7" cy="554.2" r="6.15"/>
<circle cx="349.7" cy="550.8" r="6.15"/>
<circle cx="353.1" cy="564" r="6.15"/>
<circle cx="344.8" cy="550.1" r="6.15"/>
<circle cx="356.5" cy="560.6" r="6.15"/>
</g>
<line x1="348.1" y1="539.6" x2="348.1" y2="571.6" stroke="#231f20" stroke-width="3.5"/>
<text x="326.2" y="613.7" font-size="29.4" text-anchor="end" textLength="202.5" lengthAdjust="spacing">Regulatory T cell</text>
<g fill="#a0a66e" stroke="#231f20" stroke-width="1.2">
<circle cx="346.9" cy="600.5" r="6.15"/>
<circle cx="352.3" cy="598.5" r="6.15"/>
<circle cx="355.9" cy="612.5" r="6.15"/>
<circle cx="348.2" cy="602.7" r="6.15"/>
<circle cx="343" cy="598.2" r="6.15"/>
<circle cx="350.9" cy="605" r="6.15"/>
<circle cx="349.1" cy="597.7" r="6.15"/>
<circle cx="353.2" cy="613.1" r="6.15"/>
<circle cx="354.9" cy="607" r="6.15"/>
<circle cx="349.8" cy="613.8" r="6.15"/>
<circle cx="353.7" cy="599.6" r="6.15"/>
<circle cx="347" cy="595.8" r="6.15"/>
<circle cx="361.8" cy="606.4" r="6.15"/>
<circle cx="342.6" cy="598" r="6.15"/>
<circle cx="356.3" cy="613.8" r="6.15"/>
<circle cx="345.1" cy="598.8" r="6.15"/>
<circle cx="350.1" cy="607.3" r="6.15"/>
<circle cx="352.7" cy="601.2" r="6.15"/>
<circle cx="346" cy="614" r="6.15"/>
<circle cx="349.2" cy="601.8" r="6.15"/>
<circle cx="360.2" cy="607.6" r="6.15"/>
<circle cx="355.7" cy="613.9" r="6.15"/>
<circle cx="342.8" cy="600.9" r="6.15"/>
<circle cx="343.8" cy="610.6" r="6.15"/>
<circle cx="348.5" cy="606.8" r="6.15"/>
<circle cx="348.9" cy="613" r="6.15"/>
<circle cx="356" cy="612.1" r="6.15"/>
<circle cx="354.6" cy="598.4" r="6.15"/>
<circle cx="348.4" cy="599.3" r="6.15"/>
<circle cx="354" cy="608.5" r="6.15"/>
<circle cx="351.5" cy="603.2" r="6.15"/>
<circle cx="351.4" cy="598" r="6.15"/>
<circle cx="351.7" cy="605.3" r="6.15"/>
<circle cx="348.3" cy="612.5" r="6.15"/>
<circle cx="356.5" cy="606.7" r="6.15"/>
<circle cx="353" cy="604.9" r="6.15"/>
<circle cx="344.2" cy="600.4" r="6.15"/>
<circle cx="353.5" cy="603.1" r="6.15"/>
<circle cx="355.2" cy="610.9" r="6.15"/>
<circle cx="354.4" cy="613.3" r="6.15"/>
<circle cx="353.9" cy="596.5" r="6.15"/>
<circle cx="343.7" cy="614.3" r="6.15"/>
<circle cx="343.5" cy="612.3" r="6.15"/>
<circle cx="351.5" cy="600.8" r="6.15"/>
<circle cx="350.4" cy="598.6" r="6.15"/>
<circle cx="355.4" cy="613.5" r="6.15"/>
<circle cx="351" cy="609.3" r="6.15"/>
<circle cx="356.1" cy="613.7" r="6.15"/>
<circle cx="350.8" cy="603.8" r="6.15"/>
<circle cx="346.5" cy="612.1" r="6.15"/>
<circle cx="344.9" cy="613.7" r="6.15"/>
<circle cx="348.8" cy="612.4" r="6.15"/>
<circle cx="357.4" cy="595.9" r="6.15"/>
<circle cx="346.8" cy="602.4" r="6.15"/>
<circle cx="344.7" cy="610.4" r="6.15"/>
<circle cx="349.4" cy="596.6" r="6.15"/>
<circle cx="351.2" cy="603.8" r="6.15"/>
<circle cx="345.4" cy="604.9" r="6.15"/>
<circle cx="344.7" cy="597.8" r="6.15"/>
<circle cx="345.8" cy="596.7" r="6.15"/>
<circle cx="357.9" cy="607.6" r="6.15"/>
<circle cx="348.7" cy="610.6" r="6.15"/>
<circle cx="347.4" cy="608.2" r="6.15"/>
<circle cx="357.1" cy="600.7" r="6.15"/>
<circle cx="344.5" cy="602.4" r="6.15"/>
<circle cx="355" cy="610.5" r="6.15"/>
<circle cx="354.3" cy="605.4" r="6.15"/>
<circle cx="352.5" cy="607.1" r="6.15"/>
<circle cx="357" cy="605.5" r="6.15"/>
<circle cx="356.7" cy="610.6" r="6.15"/>
<circle cx="345.3" cy="605.9" r="6.15"/>
<circle cx="342.7" cy="609.7" r="6.15"/>
<circle cx="353.3" cy="602.3" r="6.15"/>
<circle cx="350" cy="600.4" r="6.15"/>
<circle cx="352.9" cy="595.9" r="6.15"/>
<circle cx="346.4" cy="604.6" r="6.15"/>
<circle cx="345.8" cy="607.8" r="6.15"/>
<circle cx="347.8" cy="603.9" r="6.15"/>
<circle cx="349.3" cy="608.5" r="6.15"/>
<circle cx="350.6" cy="604" r="6.15"/>
<circle cx="355.6" cy="608.3" r="6.15"/>
<circle cx="347.6" cy="607.1" r="6.15"/>
<circle cx="350.2" cy="603.4" r="6.15"/>
<circle cx="344.3" cy="605.6" r="6.15"/>
<circle cx="343.1" cy="611" r="6.15"/>
<circle cx="345.6" cy="599.2" r="6.15"/>
<circle cx="354.1" cy="613.9" r="6.15"/>
<circle cx="351.8" cy="607.6" r="6.15"/>
<circle cx="352.1" cy="597.4" r="6.15"/>
<circle cx="351.2" cy="608.7" r="6.15"/>
<circle cx="357.2" cy="604.4" r="6.15"/>
<circle cx="348" cy="605.2" r="6.15"/>
<circle cx="350.2" cy="609.3" r="6.15"/>
<circle cx="343.4" cy="597.6" r="6.15"/>
<circle cx="350.7" cy="614.5" r="6.15"/>
<circle cx="347.9" cy="599.5" r="6.15"/>
<circle cx="345.2" cy="605.7" r="6.15"/>
<circle cx="362.8" cy="605.9" r="6.15"/>
<circle cx="347.5" cy="598.3" r="6.15"/>
<circle cx="356.7" cy="607" r="6.15"/>
<circle cx="352" cy="610.9" r="6.15"/>
<circle cx="355.8" cy="598" r="6.15"/>
<circle cx="359.5" cy="602.1" r="6.15"/>
<circle cx="343.9" cy="597.1" r="6.15"/>
<circle cx="347.3" cy="607.4" r="6.15"/>
<circle cx="348.7" cy="609.7" r="6.15"/>
<circle cx="353.5" cy="607.1" r="6.15"/>
<circle cx="354.2" cy="605.7" r="6.15"/>
<circle cx="356.4" cy="602.2" r="6.15"/>
<circle cx="347.2" cy="612.7" r="6.15"/>
<circle cx="345.5" cy="613.1" r="6.15"/>
<circle cx="346.3" cy="602.9" r="6.15"/>
<circle cx="356.9" cy="599.5" r="6.15"/>
<circle cx="344" cy="601" r="6.15"/>
<circle cx="352.6" cy="613" r="6.15"/>
<circle cx="344.4" cy="614.2" r="6.15"/>
<circle cx="344.8" cy="597.1" r="6.15"/>
<circle cx="377.1" cy="605.3" r="6.15"/>
<circle cx="343.2" cy="597.3" r="6.15"/>
<circle cx="349.6" cy="597.4" r="6.15"/>
<circle cx="343.3" cy="610.9" r="6.15"/>
<circle cx="353.1" cy="608" r="6.15"/>
<circle cx="355.1" cy="601.3" r="6.15"/>
<circle cx="357.3" cy="613.7" r="6.15"/>
<circle cx="346.9" cy="603.5" r="6.15"/>
<circle cx="356.2" cy="601.1" r="6.15"/>
<circle cx="349.4" cy="611" r="6.15"/>
<circle cx="353.7" cy="600.8" r="6.15"/>
<circle cx="350.5" cy="610" r="6.15"/>
<circle cx="343.9" cy="602.9" r="6.15"/>
<circle cx="351.9" cy="608.5" r="6.15"/>
<circle cx="355.3" cy="604.2" r="6.15"/>
<circle cx="346.2" cy="612.5" r="6.15"/>
<circle cx="352.8" cy="611.9" r="6.15"/>
<circle cx="347.8" cy="597" r="6.15"/>
<circle cx="346.6" cy="603.6" r="6.15"/>
<circle cx="345.9" cy="598.2" r="6.15"/>
<circle cx="352.4" cy="610.1" r="6.15"/>
<circle cx="354.8" cy="603.9" r="6.15"/>
<circle cx="354.6" cy="602.3" r="6.15"/>
<circle cx="349.7" cy="601.7" r="6.15"/>
</g>
<line x1="348.1" y1="589.1" x2="348.1" y2="621.1" stroke="#231f20" stroke-width="3.5"/>
<text x="326.2" y="663.1" font-size="29.4" text-anchor="end">Non-classical monocyte</text>
<g fill="#0e7fa3" stroke="#231f20" stroke-width="1.2">
<circle cx="354.8" cy="661.2" r="6.15"/>
<circle cx="343.5" cy="650.2" r="6.15"/>
<circle cx="347" cy="661.9" r="6.15"/>
<circle cx="349.2" cy="662.2" r="6.15"/>
<circle cx="353.1" cy="660.2" r="6.15"/>
<circle cx="352.3" cy="658.3" r="6.15"/>
<circle cx="344.4" cy="653.7" r="6.15"/>
<circle cx="347.7" cy="646.6" r="6.15"/>
<circle cx="350.7" cy="647.5" r="6.15"/>
<circle cx="353.7" cy="650.2" r="6.15"/>
<circle cx="356" cy="663.7" r="6.15"/>
<circle cx="360.8" cy="653.3" r="6.15"/>
<circle cx="346.4" cy="658.1" r="6.15"/>
<circle cx="349.6" cy="654.8" r="6.15"/>
<circle cx="357.1" cy="661.9" r="6.15"/>
<circle cx="357.6" cy="657.3" r="6.15"/>
<circle cx="355" cy="663.6" r="6.15"/>
<circle cx="351.8" cy="645.5" r="6.15"/>
<circle cx="347.3" cy="647.2" r="6.15"/>
<circle cx="342.7" cy="653" r="6.15"/>
<circle cx="353.6" cy="650.4" r="6.15"/>
<circle cx="347.4" cy="649.8" r="6.15"/>
<circle cx="358.8" cy="653.5" r="6.15"/>
<circle cx="344.3" cy="661.1" r="6.15"/>
<circle cx="346.7" cy="650.3" r="6.15"/>
<circle cx="354.6" cy="646.9" r="6.15"/>
<circle cx="351" cy="652.9" r="6.15"/>
<circle cx="354.2" cy="663.4" r="6.15"/>
<circle cx="352.6" cy="654.8" r="6.15"/>
<circle cx="363.2" cy="653.3" r="6.15"/>
<circle cx="352.2" cy="651" r="6.15"/>
<circle cx="348.2" cy="650.4" r="6.15"/>
<circle cx="345.4" cy="649.5" r="6.15"/>
<circle cx="346.1" cy="650.7" r="6.15"/>
<circle cx="353.9" cy="646.1" r="6.15"/>
<circle cx="348.8" cy="662.7" r="6.15"/>
<circle cx="343.9" cy="658.7" r="6.15"/>
<circle cx="356.4" cy="655.7" r="6.15"/>
<circle cx="353" cy="648.4" r="6.15"/>
<circle cx="343.7" cy="657.8" r="6.15"/>
<circle cx="355.5" cy="657.4" r="6.15"/>
<circle cx="353.5" cy="660.9" r="6.15"/>
<circle cx="348" cy="653.2" r="6.15"/>
<circle cx="347.9" cy="650.6" r="6.15"/>
<circle cx="366.1" cy="657.9" r="6.15"/>
<circle cx="351.2" cy="649" r="6.15"/>
<circle cx="353.3" cy="662.5" r="6.15"/>
<circle cx="352.9" cy="647.1" r="6.15"/>
<circle cx="349.5" cy="663.9" r="6.15"/>
<circle cx="344.5" cy="655.1" r="6.15"/>
<circle cx="348.1" cy="659.3" r="6.15"/>
<circle cx="355.4" cy="658.4" r="6.15"/>
<circle cx="345.5" cy="647.1" r="6.15"/>
<circle cx="344.6" cy="663.4" r="6.15"/>
<circle cx="354.3" cy="653.2" r="6.15"/>
<circle cx="353.8" cy="664" r="6.15"/>
<circle cx="356.2" cy="663.8" r="6.15"/>
<circle cx="344.7" cy="648.4" r="6.15"/>
<circle cx="349.9" cy="654.2" r="6.15"/>
<circle cx="351.7" cy="651.7" r="6.15"/>
<circle cx="351.3" cy="646.6" r="6.15"/>
<circle cx="356.6" cy="647.8" r="6.15"/>
<circle cx="343" cy="659.3" r="6.15"/>
<circle cx="356.9" cy="662.2" r="6.15"/>
<circle cx="364.1" cy="652.9" r="6.15"/>
<circle cx="351.5" cy="645.6" r="6.15"/>
<circle cx="357.9" cy="654.9" r="6.15"/>
<circle cx="342.9" cy="652.9" r="6.15"/>
<circle cx="345.9" cy="648.6" r="6.15"/>
<circle cx="350.3" cy="649.7" r="6.15"/>
<circle cx="345.8" cy="660.2" r="6.15"/>
<circle cx="355.8" cy="655.3" r="6.15"/>
<circle cx="348.7" cy="656.6" r="6.15"/>
<circle cx="348.6" cy="660.6" r="6.15"/>
<circle cx="357" cy="662.1" r="6.15"/>
<circle cx="349" cy="658" r="6.15"/>
<circle cx="355" cy="651.3" r="6.15"/>
<circle cx="357.8" cy="648.1" r="6.15"/>
<circle cx="345.1" cy="661.1" r="6.15"/>
<circle cx="352.8" cy="655.3" r="6.15"/>
<circle cx="349.8" cy="661.8" r="6.15"/>
<circle cx="352.1" cy="662.5" r="6.15"/>
<circle cx="356.2" cy="662.8" r="6.15"/>
<circle cx="357.5" cy="647.6" r="6.15"/>
<circle cx="352.6" cy="655.1" r="6.15"/>
<circle cx="346.3" cy="662.1" r="6.15"/>
<circle cx="353.2" cy="647.8" r="6.15"/>
<circle cx="345.7" cy="658.9" r="6.15"/>
<circle cx="356.8" cy="649.1" r="6.15"/>
<circle cx="343.2" cy="653" r="6.15"/>
<circle cx="344.8" cy="646.7" r="6.15"/>
<circle cx="351.9" cy="657.4" r="6.15"/>
<circle cx="355.1" cy="655.8" r="6.15"/>
<circle cx="349" cy="646" r="6.15"/>
<circle cx="365.3" cy="656.1" r="6.15"/>
<circle cx="347.1" cy="656.9" r="6.15"/>
<circle cx="343.6" cy="647" r="6.15"/>
<circle cx="345.3" cy="661.3" r="6.15"/>
<circle cx="350.5" cy="662.9" r="6.15"/>
<circle cx="346.2" cy="661.7" r="6.15"/>
<circle cx="343.7" cy="646.5" r="6.15"/>
<circle cx="344.9" cy="651.9" r="6.15"/>
<circle cx="352" cy="661.4" r="6.15"/>
<circle cx="345.9" cy="656.6" r="6.15"/>
<circle cx="356.5" cy="656" r="6.15"/>
<circle cx="346.7" cy="654.9" r="6.15"/>
<circle cx="350.7" cy="659.8" r="6.15"/>
<circle cx="352.4" cy="652.4" r="6.15"/>
<circle cx="350.4" cy="650" r="6.15"/>
<circle cx="347.2" cy="661.3" r="6.15"/>
<circle cx="350.9" cy="650.2" r="6.15"/>
<circle cx="348.5" cy="651.3" r="6.15"/>
<circle cx="350.1" cy="650.6" r="6.15"/>
<circle cx="355.9" cy="664" r="6.15"/>
<circle cx="357.5" cy="653.6" r="6.15"/>
<circle cx="345.1" cy="657.5" r="6.15"/>
<circle cx="347.7" cy="654.4" r="6.15"/>
<circle cx="344" cy="654.5" r="6.15"/>
<circle cx="350.1" cy="663.7" r="6.15"/>
<circle cx="343.3" cy="658.6" r="6.15"/>
<circle cx="355.9" cy="663" r="6.15"/>
<circle cx="349.3" cy="646" r="6.15"/>
<circle cx="343" cy="649.8" r="6.15"/>
<circle cx="368.7" cy="655.4" r="6.15"/>
<circle cx="346.8" cy="651.4" r="6.15"/>
<circle cx="360.1" cy="657" r="6.15"/>
<circle cx="357.3" cy="662.4" r="6.15"/>
<circle cx="349.8" cy="653.7" r="6.15"/>
<circle cx="354.3" cy="659.9" r="6.15"/>
<circle cx="354.7" cy="655" r="6.15"/>
<circle cx="354" cy="651.3" r="6.15"/>
<circle cx="357.2" cy="647.8" r="6.15"/>
<circle cx="355.3" cy="662.3" r="6.15"/>
<circle cx="342.6" cy="653.5" r="6.15"/>
<circle cx="344.1" cy="645.7" r="6.15"/>
<circle cx="348.4" cy="663.8" r="6.15"/>
<circle cx="351.1" cy="656.4" r="6.15"/>
<circle cx="347.5" cy="646.8" r="6.15"/>
<circle cx="355.6" cy="661.2" r="6.15"/>
<circle cx="351.4" cy="653.5" r="6.15"/>
<circle cx="346.5" cy="649.5" r="6.15"/>
<circle cx="349.3" cy="657.1" r="6.15"/>
<circle cx="354.5" cy="647" r="6.15"/>
</g>
<line x1="348.1" y1="638.7" x2="348.1" y2="670.7" stroke="#231f20" stroke-width="3.5"/>
<text x="326.2" y="712.6" font-size="29.4" text-anchor="end">Mast cell</text>
<g fill="#9ecfea" stroke="#231f20" stroke-width="1.2">
<circle cx="343.2" cy="712.6" r="6.15"/>
<circle cx="346.9" cy="707.9" r="6.15"/>
<circle cx="345.7" cy="705.1" r="6.15"/>
<circle cx="352.9" cy="699.9" r="6.15"/>
<circle cx="343.5" cy="707.4" r="6.15"/>
<circle cx="346.3" cy="713.1" r="6.15"/>
<circle cx="356.4" cy="710.2" r="6.15"/>
<circle cx="351.8" cy="701.4" r="6.15"/>
<circle cx="346.5" cy="695.4" r="6.15"/>
<circle cx="345.6" cy="700.7" r="6.15"/>
<circle cx="347.3" cy="697.3" r="6.15"/>
<circle cx="344.3" cy="702" r="6.15"/>
<circle cx="344" cy="697.4" r="6.15"/>
<circle cx="351.3" cy="706.7" r="6.15"/>
<circle cx="355" cy="707.6" r="6.15"/>
<circle cx="348.6" cy="696.8" r="6.15"/>
<circle cx="352" cy="712" r="6.15"/>
<circle cx="355.2" cy="705.8" r="6.15"/>
<circle cx="343.1" cy="709.3" r="6.15"/>
<circle cx="355.1" cy="695.7" r="6.15"/>
<circle cx="353.7" cy="713.2" r="6.15"/>
<circle cx="344.7" cy="711.9" r="6.15"/>
<circle cx="344.7" cy="702.9" r="6.15"/>
<circle cx="352.7" cy="705.9" r="6.15"/>
<circle cx="354.2" cy="697.6" r="6.15"/>
<circle cx="345.4" cy="703.8" r="6.15"/>
<circle cx="350.7" cy="695.4" r="6.15"/>
<circle cx="350.5" cy="695.7" r="6.15"/>
<circle cx="350.8" cy="696.8" r="6.15"/>
<circle cx="356.2" cy="710.1" r="6.15"/>
<circle cx="349.8" cy="698.7" r="6.15"/>
<circle cx="347.4" cy="710.7" r="6.15"/>
<circle cx="352.6" cy="695.2" r="6.15"/>
<circle cx="345.8" cy="700.9" r="6.15"/>
<circle cx="346.8" cy="710.6" r="6.15"/>
<circle cx="343.2" cy="704.3" r="6.15"/>
<circle cx="349.8" cy="696.5" r="6.15"/>
<circle cx="343" cy="694.8" r="6.15"/>
<circle cx="354" cy="698.9" r="6.15"/>
<circle cx="346.1" cy="712.7" r="6.15"/>
<circle cx="347.9" cy="707.6" r="6.15"/>
<circle cx="353.8" cy="701.4" r="6.15"/>
<circle cx="354.5" cy="701.2" r="6.15"/>
<circle cx="342.8" cy="707.3" r="6.15"/>
<circle cx="355.6" cy="698.4" r="6.15"/>
<circle cx="350.2" cy="699" r="6.15"/>
<circle cx="349.9" cy="706.5" r="6.15"/>
<circle cx="343.8" cy="704.8" r="6.15"/>
<circle cx="347" cy="703.2" r="6.15"/>
<circle cx="349.5" cy="711.9" r="6.15"/>
<circle cx="349.4" cy="705.3" r="6.15"/>
<circle cx="352.4" cy="698.4" r="6.15"/>
<circle cx="356" cy="700.5" r="6.15"/>
<circle cx="350.3" cy="710.3" r="6.15"/>
<circle cx="351.7" cy="704.8" r="6.15"/>
<circle cx="355.5" cy="697.6" r="6.15"/>
<circle cx="351.5" cy="707.4" r="6.15"/>
<circle cx="344.4" cy="695.2" r="6.15"/>
<circle cx="345.9" cy="701.9" r="6.15"/>
<circle cx="352.2" cy="706" r="6.15"/>
<circle cx="350.2" cy="694.9" r="6.15"/>
<circle cx="344.1" cy="699.4" r="6.15"/>
<circle cx="355" cy="705.9" r="6.15"/>
<circle cx="351.2" cy="698.5" r="6.15"/>
<circle cx="345.1" cy="696.3" r="6.15"/>
<circle cx="347.8" cy="698.2" r="6.15"/>
<circle cx="345.5" cy="710.7" r="6.15"/>
<circle cx="346.4" cy="706.7" r="6.15"/>
<circle cx="355.7" cy="697.7" r="6.15"/>
<circle cx="356.3" cy="698.1" r="6.15"/>
<circle cx="347.2" cy="713.3" r="6.15"/>
<circle cx="342.6" cy="697.3" r="6.15"/>
<circle cx="344.6" cy="696.6" r="6.15"/>
<circle cx="353.6" cy="701.4" r="6.15"/>
<circle cx="349.2" cy="699.7" r="6.15"/>
<circle cx="372.5" cy="704.4" r="6.15"/>
<circle cx="344.4" cy="696.8" r="6.15"/>
<circle cx="345.2" cy="703.1" r="6.15"/>
<circle cx="348.5" cy="713.4" r="6.15"/>
<circle cx="348.3" cy="703.1" r="6.15"/>
<circle cx="350.6" cy="713.5" r="6.15"/>
<circle cx="350" cy="712.6" r="6.15"/>
<circle cx="348" cy="695.1" r="6.15"/>
<circle cx="344.8" cy="710.3" r="6.15"/>
<circle cx="346.7" cy="706.8" r="6.15"/>
<circle cx="342.9" cy="700.2" r="6.15"/>
<circle cx="352.5" cy="697.5" r="6.15"/>
<circle cx="347.7" cy="706.8" r="6.15"/>
<circle cx="344.9" cy="707.6" r="6.15"/>
<circle cx="352.8" cy="709.5" r="6.15"/>
<circle cx="349.5" cy="707.7" r="6.15"/>
<circle cx="347.5" cy="709.8" r="6.15"/>
<circle cx="354.7" cy="712.6" r="6.15"/>
<circle cx="351" cy="705.5" r="6.15"/>
<circle cx="354.1" cy="707.3" r="6.15"/>
<circle cx="349.2" cy="703.7" r="6.15"/>
<circle cx="343.4" cy="701.7" r="6.15"/>
<circle cx="353" cy="705.6" r="6.15"/>
<circle cx="352" cy="696.3" r="6.15"/>
<circle cx="343.7" cy="699.4" r="6.15"/>
<circle cx="349.6" cy="707.9" r="6.15"/>
<circle cx="350.4" cy="710.9" r="6.15"/>
<circle cx="346.4" cy="697.2" r="6.15"/>
<circle cx="348.8" cy="695.3" r="6.15"/>
<circle cx="347.1" cy="699" r="6.15"/>
<circle cx="353.4" cy="697.1" r="6.15"/>
<circle cx="344.1" cy="702.2" r="6.15"/>
<circle cx="348.1" cy="706.8" r="6.15"/>
<circle cx="354.8" cy="697.1" r="6.15"/>
<circle cx="349" cy="712" r="6.15"/>
<circle cx="348.9" cy="704.2" r="6.15"/>
<circle cx="355.3" cy="709.4" r="6.15"/>
<circle cx="343.5" cy="695.7" r="6.15"/>
<circle cx="356.1" cy="708.2" r="6.15"/>
<circle cx="351.1" cy="700.6" r="6.15"/>
<circle cx="353.6" cy="703.9" r="6.15"/>
<circle cx="353.3" cy="700.2" r="6.15"/>
<circle cx="353.1" cy="712.1" r="6.15"/>
<circle cx="343.6" cy="699" r="6.15"/>
<circle cx="355.9" cy="710.4" r="6.15"/>
<circle cx="351.6" cy="695.4" r="6.15"/>
<circle cx="353.9" cy="707.5" r="6.15"/>
<circle cx="348.2" cy="711.4" r="6.15"/>
<circle cx="354.4" cy="709.6" r="6.15"/>
<circle cx="356.5" cy="710.2" r="6.15"/>
<circle cx="346.7" cy="697.2" r="6.15"/>
<circle cx="350.9" cy="710.4" r="6.15"/>
<circle cx="351.5" cy="707" r="6.15"/>
<circle cx="354.6" cy="695.7" r="6.15"/>
<circle cx="348.4" cy="699.7" r="6.15"/>
<circle cx="345.1" cy="704.7" r="6.15"/>
<circle cx="347.7" cy="697.4" r="6.15"/>
<circle cx="346.1" cy="701.8" r="6.15"/>
<circle cx="355.4" cy="711.4" r="6.15"/>
<circle cx="348.9" cy="699.1" r="6.15"/>
<circle cx="345.5" cy="711.8" r="6.15"/>
<circle cx="354.3" cy="703.8" r="6.15"/>
<circle cx="353.2" cy="701.7" r="6.15"/>
<circle cx="355.8" cy="707.2" r="6.15"/>
<circle cx="352.1" cy="699.8" r="6.15"/>
<circle cx="352.3" cy="708.7" r="6.15"/>
</g>
<line x1="346.2" y1="688.2" x2="346.2" y2="720.2" stroke="#231f20" stroke-width="3.5"/>
<text x="326.2" y="762" font-size="29.4" text-anchor="end">Intermediate monocyte</text>
<g fill="#1f3c88" stroke="#231f20" stroke-width="1.2">
<circle cx="345.8" cy="747" r="6.15"/>
<circle cx="353.5" cy="755.2" r="6.15"/>
<circle cx="348.1" cy="745.9" r="6.15"/>
<circle cx="354.9" cy="747.1" r="6.15"/>
<circle cx="354" cy="746.7" r="6.15"/>
<circle cx="355" cy="745.1" r="6.15"/>
<circle cx="359.7" cy="753.3" r="6.15"/>
<circle cx="348.4" cy="761.8" r="6.15"/>
<circle cx="346" cy="744.6" r="6.15"/>
<circle cx="349.1" cy="748.3" r="6.15"/>
<circle cx="344.4" cy="746.9" r="6.15"/>
<circle cx="351.3" cy="758" r="6.15"/>
<circle cx="352.7" cy="750" r="6.15"/>
<circle cx="356" cy="756.6" r="6.15"/>
<circle cx="352.3" cy="757.8" r="6.15"/>
<circle cx="350.9" cy="747.4" r="6.15"/>
<circle cx="347.4" cy="749.3" r="6.15"/>
<circle cx="351.7" cy="748.4" r="6.15"/>
<circle cx="361.8" cy="750.8" r="6.15"/>
<circle cx="354.6" cy="752.6" r="6.15"/>
<circle cx="346.9" cy="756.5" r="6.15"/>
<circle cx="351.5" cy="744.5" r="6.15"/>
<circle cx="358.7" cy="754.2" r="6.15"/>
<circle cx="348.6" cy="752.2" r="6.15"/>
<circle cx="349.5" cy="755.7" r="6.15"/>
<circle cx="343.6" cy="757.4" r="6.15"/>
<circle cx="354.1" cy="747.4" r="6.15"/>
<circle cx="352.5" cy="753.3" r="6.15"/>
<circle cx="348.2" cy="746.3" r="6.15"/>
<circle cx="354.8" cy="749.8" r="6.15"/>
<circle cx="350.6" cy="749.7" r="6.15"/>
<circle cx="343.5" cy="761.6" r="6.15"/>
<circle cx="352.8" cy="758.3" r="6.15"/>
<circle cx="343.3" cy="751.4" r="6.15"/>
<circle cx="353" cy="760" r="6.15"/>
<circle cx="348" cy="762.9" r="6.15"/>
<circle cx="347" cy="744.8" r="6.15"/>
<circle cx="354.5" cy="746.9" r="6.15"/>
<circle cx="345.3" cy="745.7" r="6.15"/>
<circle cx="357.4" cy="756" r="6.15"/>
<circle cx="349.3" cy="756.9" r="6.15"/>
<circle cx="349.6" cy="750.6" r="6.15"/>
<circle cx="346.3" cy="753.8" r="6.15"/>
<circle cx="351.1" cy="752.4" r="6.15"/>
<circle cx="345.6" cy="752.1" r="6.15"/>
<circle cx="344.1" cy="751.2" r="6.15"/>
<circle cx="352.9" cy="762.6" r="6.15"/>
<circle cx="349.7" cy="749.4" r="6.15"/>
<circle cx="346.6" cy="758.6" r="6.15"/>
<circle cx="346.1" cy="750.3" r="6.15"/>
<circle cx="343.4" cy="752" r="6.15"/>
<circle cx="345.1" cy="763.1" r="6.15"/>
<circle cx="348.6" cy="762.9" r="6.15"/>
<circle cx="348" cy="748.2" r="6.15"/>
<circle cx="347.8" cy="753.4" r="6.15"/>
<circle cx="346.4" cy="755.2" r="6.15"/>
<circle cx="344.3" cy="756.3" r="6.15"/>
<circle cx="345.5" cy="759.8" r="6.15"/>
<circle cx="342.9" cy="750.2" r="6.15"/>
<circle cx="348.5" cy="753.4" r="6.15"/>
<circle cx="345.9" cy="752.9" r="6.15"/>
<circle cx="345.2" cy="747.2" r="6.15"/>
<circle cx="343.2" cy="760" r="6.15"/>
<circle cx="343.9" cy="747" r="6.15"/>
<circle cx="353.8" cy="749.5" r="6.15"/>
<circle cx="362.7" cy="755.5" r="6.15"/>
<circle cx="355.1" cy="761" r="6.15"/>
<circle cx="351.5" cy="748.9" r="6.15"/>
<circle cx="354.7" cy="759.6" r="6.15"/>
<circle cx="349.3" cy="753.4" r="6.15"/>
<circle cx="352.6" cy="752.3" r="6.15"/>
<circle cx="345.1" cy="754.1" r="6.15"/>
<circle cx="353.2" cy="755.6" r="6.15"/>
<circle cx="344.9" cy="753" r="6.15"/>
<circle cx="351.7" cy="761" r="6.15"/>
<circle cx="343.1" cy="757" r="6.15"/>
<circle cx="350.3" cy="749.5" r="6.15"/>
<circle cx="347.9" cy="763.1" r="6.15"/>
<circle cx="349.4" cy="761.6" r="6.15"/>
<circle cx="353.4" cy="749.7" r="6.15"/>
<circle cx="349.1" cy="749.9" r="6.15"/>
<circle cx="347.3" cy="746.8" r="6.15"/>
<circle cx="344.6" cy="759.8" r="6.15"/>
<circle cx="344.6" cy="747" r="6.15"/>
<circle cx="345.5" cy="753.2" r="6.15"/>
<circle cx="347.2" cy="746.9" r="6.15"/>
<circle cx="352.1" cy="760.1" r="6.15"/>
<circle cx="343.7" cy="760.9" r="6.15"/>
<circle cx="354" cy="757.5" r="6.15"/>
<circle cx="347.7" cy="759.7" r="6.15"/>
<circle cx="349.8" cy="763" r="6.15"/>
<circle cx="351" cy="749.8" r="6.15"/>
<circle cx="346.3" cy="752.5" r="6.15"/>
<circle cx="345" cy="746.1" r="6.15"/>
<circle cx="354.5" cy="749.3" r="6.15"/>
<circle cx="344.3" cy="757.4" r="6.15"/>
<circle cx="352.1" cy="759.8" r="6.15"/>
<circle cx="348.9" cy="751.7" r="6.15"/>
<circle cx="342.6" cy="756.2" r="6.15"/>
<circle cx="353" cy="748.4" r="6.15"/>
<circle cx="350" cy="758.6" r="6.15"/>
<circle cx="353.1" cy="750.8" r="6.15"/>
<circle cx="350.3" cy="761.1" r="6.15"/>
<circle cx="351.9" cy="751.3" r="6.15"/>
<circle cx="350" cy="749.3" r="6.15"/>
<circle cx="354.2" cy="747.4" r="6.15"/>
<circle cx="343.7" cy="749" r="6.15"/>
<circle cx="353.3" cy="753.1" r="6.15"/>
<circle cx="347.6" cy="757.3" r="6.15"/>
<circle cx="353.7" cy="753.1" r="6.15"/>
<circle cx="344.2" cy="753.5" r="6.15"/>
<circle cx="348.8" cy="748" r="6.15"/>
<circle cx="354.4" cy="754" r="6.15"/>
<circle cx="346.6" cy="762.7" r="6.15"/>
<circle cx="347.1" cy="748.9" r="6.15"/>
<circle cx="346.9" cy="760.8" r="6.15"/>
<circle cx="350.7" cy="749.4" r="6.15"/>
<circle cx="346.7" cy="753.5" r="6.15"/>
<circle cx="344.7" cy="749.9" r="6.15"/>
<circle cx="353.6" cy="754.1" r="6.15"/>
<circle cx="343.8" cy="762.6" r="6.15"/>
<circle cx="350.8" cy="749" r="6.15"/>
<circle cx="348.9" cy="755.1" r="6.15"/>
<circle cx="353.9" cy="751.5" r="6.15"/>
<circle cx="351.3" cy="747.3" r="6.15"/>
<circle cx="347.5" cy="749.2" r="6.15"/>
<circle cx="350.5" cy="756.2" r="6.15"/>
<circle cx="343" cy="760.4" r="6.15"/>
<circle cx="342.7" cy="752.1" r="6.15"/>
<circle cx="348.3" cy="761.9" r="6.15"/>
<circle cx="350.2" cy="756.7" r="6.15"/>
<circle cx="351.8" cy="749.8" r="6.15"/>
<circle cx="352.3" cy="757.2" r="6.15"/>
<circle cx="344.5" cy="745.6" r="6.15"/>
<circle cx="346.1" cy="757" r="6.15"/>
<circle cx="350.4" cy="754.5" r="6.15"/>
<circle cx="349.9" cy="754" r="6.15"/>
<circle cx="342.8" cy="752.4" r="6.15"/>
<circle cx="351.2" cy="761.9" r="6.15"/>
<circle cx="345.7" cy="748.4" r="6.15"/>
<circle cx="352.4" cy="759.2" r="6.15"/>
</g>
<line x1="344.8" y1="737.7" x2="344.8" y2="769.7" stroke="#231f20" stroke-width="3.5"/>
<text x="326.2" y="811.5" font-size="29.4" text-anchor="end">NK cell</text>
<g fill="#9acd32" stroke="#231f20" stroke-width="1.2">
<circle cx="344.7" cy="800.8" r="6.15"/>
<circle cx="347.8" cy="795.4" r="6.15"/>
<circle cx="348.4" cy="803.4" r="6.15"/>
<circle cx="344" cy="794.1" r="6.15"/>
<circle cx="353.8" cy="810.7" r="6.15"/>
<circle cx="345.7" cy="806.5" r="6.15"/>
<circle cx="352.7" cy="799.1" r="6.15"/>
<circle cx="346.3" cy="803.1" r="6.15"/>
<circle cx="344.9" cy="805.2" r="6.15"/>
<circle cx="354.3" cy="800" r="6.15"/>
<circle cx="347.6" cy="810.4" r="6.15"/>
<circle cx="342.9" cy="802.6" r="6.15"/>
<circle cx="345.8" cy="800.4" r="6.15"/>
<circle cx="343.9" cy="809.3" r="6.15"/>
<circle cx="352.5" cy="808.2" r="6.15"/>
<circle cx="352.9" cy="804.1" r="6.15"/>
<circle cx="346.5" cy="795.9" r="6.15"/>
<circle cx="349.8" cy="800.9" r="6.15"/>
<circle cx="349" cy="794" r="6.15"/>
<circle cx="352.1" cy="802.4" r="6.15"/>
<circle cx="355.1" cy="811" r="6.15"/>
<circle cx="353.5" cy="794" r="6.15"/>
<circle cx="357.3" cy="801.9" r="6.15"/>
<circle cx="343" cy="794.7" r="6.15"/>
<circle cx="354" cy="806.9" r="6.15"/>
<circle cx="353.1" cy="800.2" r="6.15"/>
<circle cx="343.6" cy="803.2" r="6.15"/>
<circle cx="350.3" cy="803.4" r="6.15"/>
<circle cx="351.3" cy="800.9" r="6.15"/>
<circle cx="345.8" cy="812" r="6.15"/>
<circle cx="350.1" cy="796.4" r="6.15"/>
<circle cx="349.3" cy="805.7" r="6.15"/>
<circle cx="343.1" cy="798.3" r="6.15"/>
<circle cx="349.1" cy="794.6" r="6.15"/>
<circle cx="350.9" cy="810.6" r="6.15"/>
<circle cx="354.7" cy="800.6" r="6.15"/>
<circle cx="345.6" cy="798.6" r="6.15"/>
<circle cx="346.6" cy="801.4" r="6.15"/>
<circle cx="343.7" cy="808.8" r="6.15"/>
<circle cx="347.9" cy="793.9" r="6.15"/>
<circle cx="354" cy="808.7" r="6.15"/>
<circle cx="348.2" cy="804" r="6.15"/>
<circle cx="343.9" cy="795.8" r="6.15"/>
<circle cx="356.4" cy="802.7" r="6.15"/>
<circle cx="351.9" cy="809.8" r="6.15"/>
<circle cx="354.4" cy="800.5" r="6.15"/>
<circle cx="344.6" cy="811.8" r="6.15"/>
<circle cx="348.7" cy="805.5" r="6.15"/>
<circle cx="344.8" cy="802.4" r="6.15"/>
<circle cx="342.8" cy="795.6" r="6.15"/>
<circle cx="346.4" cy="796.3" r="6.15"/>
<circle cx="347.3" cy="794.2" r="6.15"/>
<circle cx="344.2" cy="794.4" r="6.15"/>
<circle cx="354.4" cy="805.9" r="6.15"/>
<circle cx="351" cy="795.9" r="6.15"/>
<circle cx="351.9" cy="802.3" r="6.15"/>
<circle cx="350.7" cy="803.9" r="6.15"/>
<circle cx="353.9" cy="794" r="6.15"/>
<circle cx="343.2" cy="802.7" r="6.15"/>
<circle cx="351.6" cy="799.5" r="6.15"/>
<circle cx="343.7" cy="812.6" r="6.15"/>
<circle cx="345" cy="807.9" r="6.15"/>
<circle cx="345.6" cy="807.6" r="6.15"/>
<circle cx="352.2" cy="812.1" r="6.15"/>
<circle cx="350.5" cy="799.3" r="6.15"/>
<circle cx="349.5" cy="808.2" r="6.15"/>
<circle cx="342.6" cy="811.8" r="6.15"/>
<circle cx="353.3" cy="795.2" r="6.15"/>
<circle cx="343.3" cy="805.8" r="6.15"/>
<circle cx="349.6" cy="799.1" r="6.15"/>
<circle cx="361" cy="802.4" r="6.15"/>
<circle cx="345.5" cy="798.2" r="6.15"/>
<circle cx="350.2" cy="804.3" r="6.15"/>
<circle cx="350" cy="802.5" r="6.15"/>
<circle cx="348.5" cy="805.5" r="6.15"/>
<circle cx="345.9" cy="809.1" r="6.15"/>
<circle cx="352.5" cy="803.5" r="6.15"/>
<circle cx="354.8" cy="796.3" r="6.15"/>
<circle cx="359.4" cy="803.3" r="6.15"/>
<circle cx="355" cy="800.4" r="6.15"/>
<circle cx="353.2" cy="802.5" r="6.15"/>
<circle cx="354.9" cy="802.2" r="6.15"/>
<circle cx="347.7" cy="812.6" r="6.15"/>
<circle cx="347.9" cy="805.2" r="6.15"/>
<circle cx="345.1" cy="797.5" r="6.15"/>
<circle cx="351.5" cy="794.4" r="6.15"/>
<circle cx="349.5" cy="809.5" r="6.15"/>
<circle cx="348.9" cy="810.4" r="6.15"/>
<circle cx="347.2" cy="797.5" r="6.15"/>
<circle cx="345.3" cy="802.3" r="6.15"/>
<circle cx="352.1" cy="803" r="6.15"/>
<circle cx="346.1" cy="800.6" r="6.15"/>
<circle cx="343.4" cy="801.7" r="6.15"/>
<circle cx="345.1" cy="798" r="6.15"/>
<circle cx="351.2" cy="805.5" r="6.15"/>
<circle cx="347.4" cy="804.6" r="6.15"/>
<circle cx="346.1" cy="794.8" r="6.15"/>
<circle cx="344.5" cy="804.5" r="6.15"/>
<circle cx="350.2" cy="797.1" r="6.15"/>
<circle cx="347.1" cy="807.3" r="6.15"/>
<circle cx="352.4" cy="807.1" r="6.15"/>
<circle cx="350.6" cy="798.6" r="6.15"/>
<circle cx="352.3" cy="810.9" r="6.15"/>
<circle cx="347" cy="806.3" r="6.15"/>
<circle cx="348.6" cy="800.6" r="6.15"/>
<circle cx="351.1" cy="803.6" r="6.15"/>
<circle cx="348.1" cy="800.8" r="6.15"/>
<circle cx="354.2" cy="807.7" r="6.15"/>
<circle cx="353.7" cy="808.3" r="6.15"/>
<circle cx="354.6" cy="807.1" r="6.15"/>
<circle cx="351.6" cy="803.5" r="6.15"/>
<circle cx="353.6" cy="800.8" r="6.15"/>
<circle cx="351.4" cy="798.7" r="6.15"/>
<circle cx="349.1" cy="810.5" r="6.15"/>
<circle cx="351.8" cy="797.1" r="6.15"/>
<circle cx="352.8" cy="803.8" r="6.15"/>
<circle cx="353.1" cy="807.1" r="6.15"/>
<circle cx="344.1" cy="797.3" r="6.15"/>
<circle cx="346.9" cy="810.6" r="6.15"/>
<circle cx="350.4" cy="811.1" r="6.15"/>
<circle cx="354.5" cy="810.8" r="6.15"/>
<circle cx="349.7" cy="796.5" r="6.15"/>
<circle cx="347.5" cy="806.7" r="6.15"/>
<circle cx="344.4" cy="807.3" r="6.15"/>
<circle cx="346.7" cy="794" r="6.15"/>
<circle cx="349.9" cy="802.9" r="6.15"/>
<circle cx="348.8" cy="807.3" r="6.15"/>
<circle cx="346.4" cy="801.4" r="6.15"/>
<circle cx="349.3" cy="800.1" r="6.15"/>
<circle cx="348.4" cy="801.9" r="6.15"/>
<circle cx="344.3" cy="810.5" r="6.15"/>
<circle cx="353.4" cy="802.5" r="6.15"/>
<circle cx="342.9" cy="808.8" r="6.15"/>
<circle cx="350.8" cy="800.1" r="6.15"/>
<circle cx="346.8" cy="812.2" r="6.15"/>
<circle cx="345.4" cy="806.3" r="6.15"/>
<circle cx="348.3" cy="810.8" r="6.15"/>
<circle cx="352.9" cy="806.1" r="6.15"/>
<circle cx="343.5" cy="809.4" r="6.15"/>
</g>
<line x1="344.8" y1="787.2" x2="344.8" y2="819.2" stroke="#231f20" stroke-width="3.5"/>
<text x="326.2" y="861" font-size="29.4" text-anchor="end">Dendritic cell</text>
<g fill="#8dd3e8" stroke="#231f20" stroke-width="1.2">
<circle cx="346.1" cy="850.3" r="6.15"/>
<circle cx="348" cy="848.3" r="6.15"/>
<circle cx="343.5" cy="845" r="6.15"/>
<circle cx="347.9" cy="854.7" r="6.15"/>
<circle cx="345.5" cy="846.6" r="6.15"/>
<circle cx="348.1" cy="850.5" r="6.15"/>
<circle cx="347.1" cy="844.6" r="6.15"/>
<circle cx="344.3" cy="851.5" r="6.15"/>
<circle cx="346.3" cy="857.9" r="6.15"/>
<circle cx="348.4" cy="861.8" r="6.15"/>
<circle cx="344.5" cy="856.6" r="6.15"/>
<circle cx="344" cy="844" r="6.15"/>
<circle cx="345.6" cy="856.2" r="6.15"/>
<circle cx="346.4" cy="850.2" r="6.15"/>
<circle cx="345.9" cy="845.4" r="6.15"/>
<circle cx="343.7" cy="848.6" r="6.15"/>
<circle cx="345.9" cy="856.9" r="6.15"/>
<circle cx="347.9" cy="847.7" r="6.15"/>
<circle cx="345" cy="851.4" r="6.15"/>
<circle cx="348.2" cy="849.4" r="6.15"/>
<circle cx="343.5" cy="857.9" r="6.15"/>
<circle cx="346.9" cy="846.8" r="6.15"/>
<circle cx="343.6" cy="855" r="6.15"/>
<circle cx="343.1" cy="845.1" r="6.15"/>
<circle cx="346.7" cy="861" r="6.15"/>
<circle cx="347.9" cy="845.8" r="6.15"/>
<circle cx="343.7" cy="844" r="6.15"/>
<circle cx="346" cy="856.1" r="6.15"/>
<circle cx="345.2" cy="848.3" r="6.15"/>
<circle cx="346.9" cy="850.8" r="6.15"/>
<circle cx="346.4" cy="856.1" r="6.15"/>
<circle cx="346.5" cy="855.3" r="6.15"/>
<circle cx="343.3" cy="860.1" r="6.15"/>
<circle cx="347.6" cy="847.8" r="6.15"/>
<circle cx="342.9" cy="849" r="6.15"/>
<circle cx="346" cy="850.9" r="6.15"/>
<circle cx="345" cy="850.7" r="6.15"/>
<circle cx="347.7" cy="861.5" r="6.15"/>
<circle cx="343.1" cy="857.2" r="6.15"/>
<circle cx="344.2" cy="845" r="6.15"/>
<circle cx="343.8" cy="844.9" r="6.15"/>
<circle cx="345.8" cy="857.4" r="6.15"/>
<circle cx="342.6" cy="859.4" r="6.15"/>
<circle cx="347.6" cy="844.1" r="6.15"/>
<circle cx="342.7" cy="850.1" r="6.15"/>
<circle cx="345.7" cy="859.7" r="6.15"/>
<circle cx="345.2" cy="847.2" r="6.15"/>
<circle cx="342.7" cy="855.3" r="6.15"/>
<circle cx="343.8" cy="861.6" r="6.15"/>
<circle cx="346.3" cy="861.9" r="6.15"/>
<circle cx="345.3" cy="854.5" r="6.15"/>
<circle cx="348" cy="860.3" r="6.15"/>
<circle cx="344.4" cy="845.2" r="6.15"/>
<circle cx="348.3" cy="856.4" r="6.15"/>
<circle cx="344.8" cy="860" r="6.15"/>
<circle cx="343" cy="851.3" r="6.15"/>
<circle cx="347.1" cy="861.1" r="6.15"/>
<circle cx="346.8" cy="848" r="6.15"/>
<circle cx="346.3" cy="852.6" r="6.15"/>
<circle cx="347" cy="844.3" r="6.15"/>
<circle cx="346.6" cy="847" r="6.15"/>
<circle cx="347.5" cy="844.3" r="6.15"/>
<circle cx="342.8" cy="852.9" r="6.15"/>
<circle cx="344.1" cy="854.6" r="6.15"/>
<circle cx="346.6" cy="853.4" r="6.15"/>
<circle cx="345.9" cy="856.8" r="6.15"/>
<circle cx="345" cy="844.2" r="6.15"/>
<circle cx="347.3" cy="850.9" r="6.15"/>
<circle cx="343.7" cy="846.1" r="6.15"/>
<circle cx="342.8" cy="859.6" r="6.15"/>
<circle cx="346.8" cy="858.1" r="6.15"/>
<circle cx="343.4" cy="858.9" r="6.15"/>
<circle cx="351" cy="855.7" r="6.15"/>
<circle cx="344.5" cy="851.1" r="6.15"/>
<circle cx="346.1" cy="847.8" r="6.15"/>
<circle cx="346.7" cy="862" r="6.15"/>
<circle cx="344.1" cy="858.3" r="6.15"/>
<circle cx="347.4" cy="846.5" r="6.15"/>
<circle cx="344.6" cy="860.9" r="6.15"/>
<circle cx="343.2" cy="860" r="6.15"/>
<circle cx="345.7" cy="851.4" r="6.15"/>
<circle cx="345.5" cy="855.8" r="6.15"/>
<circle cx="347.1" cy="855" r="6.15"/>
<circle cx="347.6" cy="858" r="6.15"/>
<circle cx="348.5" cy="855.4" r="6.15"/>
<circle cx="348.3" cy="860.5" r="6.15"/>
<circle cx="343.4" cy="859.2" r="6.15"/>
<circle cx="344.9" cy="854.3" r="6.15"/>
<circle cx="347.8" cy="847.8" r="6.15"/>
<circle cx="345.4" cy="846.3" r="6.15"/>
<circle cx="347.3" cy="843.4" r="6.15"/>
<circle cx="344.2" cy="861.9" r="6.15"/>
<circle cx="344.6" cy="854.5" r="6.15"/>
<circle cx="344.4" cy="852.6" r="6.15"/>
<circle cx="348.3" cy="850.6" r="6.15"/>
<circle cx="344" cy="844.8" r="6.15"/>
<circle cx="346.9" cy="846.7" r="6.15"/>
<circle cx="348.6" cy="851.7" r="6.15"/>
<circle cx="344.5" cy="850.5" r="6.15"/>
<circle cx="344.8" cy="860.3" r="6.15"/>
<circle cx="344.9" cy="855.7" r="6.15"/>
<circle cx="347.2" cy="843.4" r="6.15"/>
<circle cx="346.1" cy="851.9" r="6.15"/>
<circle cx="348.1" cy="857.9" r="6.15"/>
<circle cx="346.2" cy="847.5" r="6.15"/>
<circle cx="348.2" cy="853.4" r="6.15"/>
<circle cx="344.1" cy="860" r="6.15"/>
<circle cx="342.9" cy="846.1" r="6.15"/>
<circle cx="343.3" cy="850.7" r="6.15"/>
<circle cx="348.4" cy="861.9" r="6.15"/>
<circle cx="344.7" cy="848" r="6.15"/>
<circle cx="345.2" cy="854.7" r="6.15"/>
<circle cx="347.7" cy="846.9" r="6.15"/>
<circle cx="350.2" cy="852.6" r="6.15"/>
<circle cx="345.1" cy="850.6" r="6.15"/>
<circle cx="345.3" cy="849.7" r="6.15"/>
<circle cx="343.3" cy="852.5" r="6.15"/>
<circle cx="348.7" cy="854.8" r="6.15"/>
<circle cx="348.5" cy="852.9" r="6.15"/>
<circle cx="343.5" cy="861.6" r="6.15"/>
<circle cx="345.3" cy="848.2" r="6.15"/>
<circle cx="347.7" cy="862" r="6.15"/>
<circle cx="342.7" cy="857.8" r="6.15"/>
<circle cx="342.9" cy="848.4" r="6.15"/>
<circle cx="345.7" cy="850.8" r="6.15"/>
<circle cx="343.9" cy="853.3" r="6.15"/>
<circle cx="344.7" cy="849.1" r="6.15"/>
<circle cx="343.2" cy="851.9" r="6.15"/>
<circle cx="345.8" cy="851.1" r="6.15"/>
<circle cx="343.1" cy="857.3" r="6.15"/>
<circle cx="348.1" cy="853.8" r="6.15"/>
<circle cx="344.9" cy="845" r="6.15"/>
<circle cx="346.7" cy="861.9" r="6.15"/>
<circle cx="346.5" cy="849.7" r="6.15"/>
<circle cx="347" cy="849.1" r="6.15"/>
<circle cx="345.6" cy="858.9" r="6.15"/>
<circle cx="349.6" cy="855" r="6.15"/>
<circle cx="344" cy="844.2" r="6.15"/>
<circle cx="343.9" cy="855" r="6.15"/>
<circle cx="345.5" cy="847.8" r="6.15"/>
<circle cx="347.2" cy="848.7" r="6.15"/>
<circle cx="347.5" cy="857.1" r="6.15"/>
<circle cx="344.3" cy="859.9" r="6.15"/>
<circle cx="347.4" cy="845.7" r="6.15"/>
</g>
<line x1="343.9" y1="836.8" x2="343.9" y2="868.8" stroke="#231f20" stroke-width="3.5"/>
<text x="896.5" y="37.1" font-size="48" font-weight="bold" fill="#231f20">B</text>
<line x1="1006" y1="317.1" x2="1576" y2="317.1" stroke="#000" stroke-width="4.1"/>
<line x1="1021.4" y1="20.9" x2="1021.4" y2="319.8" stroke="#000" stroke-width="4.1"/>
<line x1="1006" y1="317.1" x2="1021.4" y2="317.1" stroke="#000" stroke-width="4.1"/>
<text transform="translate(1002 325) scale(1 1.090)" font-size="21" text-anchor="end">0</text>
<line x1="1006" y1="243.6" x2="1021.4" y2="243.6" stroke="#000" stroke-width="4.1"/>
<text transform="translate(1002 251.5) scale(1 1.090)" font-size="21" text-anchor="end">20</text>
<line x1="1006" y1="170.1" x2="1021.4" y2="170.1" stroke="#000" stroke-width="4.1"/>
<text transform="translate(1002 177.9) scale(1 1.090)" font-size="21" text-anchor="end">40</text>
<line x1="1006" y1="96.5" x2="1021.4" y2="96.5" stroke="#000" stroke-width="4.1"/>
<text transform="translate(1002 104.4) scale(1 1.090)" font-size="21" text-anchor="end">60</text>
<line x1="1006" y1="23" x2="1021.4" y2="23" stroke="#000" stroke-width="4.1"/>
<text transform="translate(1002 30.9) scale(1 1.090)" font-size="21" text-anchor="end">80</text>
<text transform="translate(962.5 161) rotate(-90) scale(1 1.040)" font-size="25.6" text-anchor="middle">Proportion of total cells (%)</text>
<line x1="1062.4" y1="317.1" x2="1062.4" y2="332.8" stroke="#000" stroke-width="4.1"/>
<line x1="1157.3" y1="317.1" x2="1157.3" y2="332.8" stroke="#000" stroke-width="4.1"/>
<line x1="1251.3" y1="317.1" x2="1251.3" y2="332.8" stroke="#000" stroke-width="4.1"/>
<line x1="1345.7" y1="317.1" x2="1345.7" y2="332.8" stroke="#000" stroke-width="4.1"/>
<line x1="1439.8" y1="317.1" x2="1439.8" y2="332.8" stroke="#000" stroke-width="4.1"/>
<line x1="1535.2" y1="317.1" x2="1535.2" y2="332.8" stroke="#000" stroke-width="4.1"/>
<text transform="translate(1049.7 358) scale(1 1.030)" font-size="26" text-anchor="middle">Unknown</text>
<text transform="translate(1156.4 358) scale(1 1.030)" font-size="26" text-anchor="middle">KRAS</text>
<text transform="translate(1247.6 358) scale(1 1.030)" font-size="26" text-anchor="middle">EGFR</text>
<text transform="translate(1343.5 358) scale(1 1.030)" font-size="26" text-anchor="middle">MET</text>
<text transform="translate(1437.8 358) scale(1 1.030)" font-size="26" text-anchor="middle">PIK3CA</text>
<text transform="translate(1534.2 358) scale(1 1.030)" font-size="26" text-anchor="middle">BRAF</text>
<text transform="translate(1050.3 385.7) scale(1 1.030)" font-size="26" text-anchor="middle">driver</text>
<g fill="#231f20">
<circle cx="1045.6" cy="312.6" r="6.1"/>
<circle cx="1046.3" cy="304.8" r="6.1"/>
<circle cx="1044.3" cy="299.9" r="6.1"/>
<circle cx="1043.1" cy="296.5" r="6.1"/>
<circle cx="1045" cy="291.2" r="6.1"/>
<circle cx="1044.2" cy="286.8" r="6.1"/>
<circle cx="1047.3" cy="281.9" r="6.1"/>
<circle cx="1043.1" cy="277.2" r="6.1"/>
<circle cx="1044.7" cy="275" r="6.1"/>
<circle cx="1045.6" cy="271.1" r="6.1"/>
<circle cx="1048.5" cy="264.7" r="6.1"/>
<circle cx="1044.9" cy="261.9" r="6.1"/>
<circle cx="1042.6" cy="257" r="6.1"/>
<circle cx="1047.6" cy="255.3" r="6.1"/>
<circle cx="1046.4" cy="250.2" r="6.1"/>
<circle cx="1040.8" cy="245.6" r="6.1"/>
<circle cx="1051.9" cy="244.7" r="6.1"/>
<circle cx="1053.1" cy="241.3" r="6.1"/>
<circle cx="1050.2" cy="239.7" r="6.1"/>
<circle cx="1051.7" cy="240.2" r="6.1"/>
<circle cx="1041.7" cy="237.9" r="6.1"/>
<circle cx="1048.8" cy="234.1" r="6.1"/>
<circle cx="1051.5" cy="230.3" r="6.1"/>
<circle cx="1047.9" cy="229.2" r="6.1"/>
<circle cx="1044.5" cy="226.8" r="6.1"/>
<circle cx="1039.2" cy="223.3" r="6.1"/>
<circle cx="1044" cy="221.3" r="6.1"/>
<circle cx="1046.3" cy="217.6" r="6.1"/>
<circle cx="1049.6" cy="213.7" r="6.1"/>
<circle cx="1049.8" cy="210.2" r="6.1"/>
<circle cx="1044.7" cy="207.4" r="6.1"/>
<circle cx="1047.1" cy="203.9" r="6.1"/>
<circle cx="1044.9" cy="105.7" r="6.1"/>
<circle cx="1043.9" cy="122.3" r="6.1"/>
<circle cx="1045.9" cy="125.2" r="6.1"/>
<circle cx="1044.9" cy="150.2" r="6.1"/>
<circle cx="1044.9" cy="173.8" r="6.1"/>
</g>
<g fill="none" stroke="#231f20" stroke-width="2.4">
<circle cx="1078.5" cy="300.8" r="5.8"/>
<circle cx="1082.5" cy="296.7" r="5.8"/>
<circle cx="1082.1" cy="294.9" r="5.8"/>
<circle cx="1078.1" cy="291.5" r="5.8"/>
<circle cx="1080.1" cy="286.7" r="5.8"/>
<circle cx="1079.6" cy="283.8" r="5.8"/>
<circle cx="1081.6" cy="280.9" r="5.8"/>
<circle cx="1083" cy="278.6" r="5.8"/>
<circle cx="1075.9" cy="275.1" r="5.8"/>
<circle cx="1075.1" cy="272.2" r="5.8"/>
<circle cx="1083.7" cy="269.4" r="5.8"/>
<circle cx="1079.4" cy="267.5" r="5.8"/>
<circle cx="1083.1" cy="264.2" r="5.8"/>
<circle cx="1073.7" cy="261.5" r="5.8"/>
<circle cx="1079.3" cy="258.2" r="5.8"/>
<circle cx="1083.9" cy="255" r="5.8"/>
<circle cx="1075.5" cy="253.5" r="5.8"/>
<circle cx="1087.7" cy="253.3" r="5.8"/>
<circle cx="1086.9" cy="252.3" r="5.8"/>
<circle cx="1072.1" cy="251.2" r="5.8"/>
<circle cx="1072" cy="250.1" r="5.8"/>
<circle cx="1080.8" cy="248.4" r="5.8"/>
<circle cx="1087.6" cy="245.7" r="5.8"/>
<circle cx="1078.1" cy="244" r="5.8"/>
<circle cx="1075.7" cy="241.9" r="5.8"/>
<circle cx="1079" cy="238.8" r="5.8"/>
<circle cx="1073.3" cy="237.3" r="5.8"/>
<circle cx="1076.3" cy="235" r="5.8"/>
<circle cx="1079.3" cy="233.3" r="5.8"/>
<circle cx="1080.1" cy="231.3" r="5.8"/>
<circle cx="1077.7" cy="228.3" r="5.8"/>
<circle cx="1078.3" cy="226.1" r="5.8"/>
<circle cx="1080.1" cy="170.4" r="5.8"/>
<circle cx="1078.1" cy="179.6" r="5.8"/>
<circle cx="1082.1" cy="181.5" r="5.8"/>
<circle cx="1081.1" cy="197.7" r="5.8"/>
<circle cx="1079.1" cy="202.4" r="5.8"/>
</g>
<g fill="#6461ac">
<circle cx="1141.1" cy="311.7" r="6.1"/>
<circle cx="1142.3" cy="307.7" r="6.1"/>
<circle cx="1135.9" cy="304.9" r="6.1"/>
<circle cx="1135.6" cy="301.6" r="6.1"/>
<circle cx="1142.7" cy="298.8" r="6.1"/>
<circle cx="1141.8" cy="297.1" r="6.1"/>
<circle cx="1141.1" cy="294.6" r="6.1"/>
<circle cx="1137.4" cy="290.6" r="6.1"/>
<circle cx="1140.5" cy="289.1" r="6.1"/>
<circle cx="1140.5" cy="286.7" r="6.1"/>
<circle cx="1140.3" cy="282.9" r="6.1"/>
<circle cx="1135.5" cy="281.5" r="6.1"/>
<circle cx="1138.6" cy="278.4" r="6.1"/>
<circle cx="1138.1" cy="276.8" r="6.1"/>
<circle cx="1142.1" cy="274.2" r="6.1"/>
<circle cx="1145.4" cy="272.8" r="6.1"/>
<circle cx="1144.9" cy="269.6" r="6.1"/>
<circle cx="1140" cy="267" r="6.1"/>
<circle cx="1138.7" cy="265.4" r="6.1"/>
<circle cx="1136.4" cy="262.8" r="6.1"/>
<circle cx="1133.3" cy="260.8" r="6.1"/>
<circle cx="1133.1" cy="259.7" r="6.1"/>
<circle cx="1138.9" cy="256.3" r="6.1"/>
<circle cx="1137" cy="254.4" r="6.1"/>
<circle cx="1137.8" cy="252.9" r="6.1"/>
<circle cx="1144.8" cy="251.2" r="6.1"/>
<circle cx="1139.8" cy="247.6" r="6.1"/>
<circle cx="1140.3" cy="246.3" r="6.1"/>
<circle cx="1134.9" cy="243.7" r="6.1"/>
<circle cx="1131.3" cy="241.4" r="6.1"/>
<circle cx="1136.4" cy="240.4" r="6.1"/>
<circle cx="1133.2" cy="239.1" r="6.1"/>
<circle cx="1139.6" cy="239" r="6.1"/>
<circle cx="1147.9" cy="236.9" r="6.1"/>
<circle cx="1142.4" cy="236.1" r="6.1"/>
<circle cx="1134" cy="233.7" r="6.1"/>
<circle cx="1146.1" cy="232.1" r="6.1"/>
<circle cx="1144.4" cy="231.8" r="6.1"/>
<circle cx="1143.4" cy="229.9" r="6.1"/>
<circle cx="1145.8" cy="227.9" r="6.1"/>
<circle cx="1143.2" cy="224.5" r="6.1"/>
<circle cx="1143.5" cy="223.4" r="6.1"/>
<circle cx="1137.4" cy="221" r="6.1"/>
<circle cx="1145.7" cy="219.4" r="6.1"/>
<circle cx="1145.2" cy="216.8" r="6.1"/>
<circle cx="1135.3" cy="214.7" r="6.1"/>
<circle cx="1142.3" cy="212.4" r="6.1"/>
<circle cx="1141.8" cy="209.6" r="6.1"/>
<circle cx="1139" cy="207.2" r="6.1"/>
<circle cx="1139.7" cy="204.1" r="6.1"/>
<circle cx="1139.3" cy="202" r="6.1"/>
<circle cx="1143.8" cy="199" r="6.1"/>
<circle cx="1139.4" cy="196.5" r="6.1"/>
<circle cx="1142.8" cy="193.6" r="6.1"/>
<circle cx="1137.9" cy="191.5" r="6.1"/>
<circle cx="1143.1" cy="189.7" r="6.1"/>
<circle cx="1143" cy="185.6" r="6.1"/>
<circle cx="1139.1" cy="182.6" r="6.1"/>
<circle cx="1139.8" cy="179.9" r="6.1"/>
<circle cx="1141.5" cy="177.7" r="6.1"/>
<circle cx="1139.4" cy="71.9" r="6.1"/>
<circle cx="1139.4" cy="105" r="6.1"/>
<circle cx="1139.4" cy="149.9" r="6.1"/>
<circle cx="1139.4" cy="158.3" r="6.1"/>
</g>
<g fill="none" stroke="#6461ac" stroke-width="2.4">
<circle cx="1173.4" cy="297.4" r="5.8"/>
<circle cx="1174.9" cy="294.8" r="5.8"/>
<circle cx="1173.6" cy="291.9" r="5.8"/>
<circle cx="1175.5" cy="289.9" r="5.8"/>
<circle cx="1175.8" cy="287.8" r="5.8"/>
<circle cx="1170.2" cy="285.2" r="5.8"/>
<circle cx="1169.3" cy="282.4" r="5.8"/>
<circle cx="1178.5" cy="280.5" r="5.8"/>
<circle cx="1171.7" cy="278.6" r="5.8"/>
<circle cx="1171.4" cy="277.4" r="5.8"/>
<circle cx="1180.7" cy="275" r="5.8"/>
<circle cx="1174.2" cy="273.5" r="5.8"/>
<circle cx="1178.8" cy="271.7" r="5.8"/>
<circle cx="1174.3" cy="270" r="5.8"/>
<circle cx="1176.3" cy="268" r="5.8"/>
<circle cx="1170.2" cy="265.1" r="5.8"/>
<circle cx="1176.3" cy="263.5" r="5.8"/>
<circle cx="1179.4" cy="261.7" r="5.8"/>
<circle cx="1174.9" cy="259.9" r="5.8"/>
<circle cx="1177.9" cy="259.1" r="5.8"/>
<circle cx="1177" cy="257.1" r="5.8"/>
<circle cx="1168.4" cy="255" r="5.8"/>
<circle cx="1178.4" cy="253.1" r="5.8"/>
<circle cx="1176" cy="251.2" r="5.8"/>
<circle cx="1171.4" cy="249.5" r="5.8"/>
<circle cx="1167" cy="248.9" r="5.8"/>
<circle cx="1180.8" cy="246.5" r="5.8"/>
<circle cx="1174.1" cy="244.7" r="5.8"/>
<circle cx="1178.3" cy="243.3" r="5.8"/>
<circle cx="1181" cy="242.8" r="5.8"/>
<circle cx="1178.2" cy="241.7" r="5.8"/>
<circle cx="1181.8" cy="241.4" r="5.8"/>
<circle cx="1172.8" cy="239.2" r="5.8"/>
<circle cx="1179.7" cy="238.2" r="5.8"/>
<circle cx="1173.7" cy="237.5" r="5.8"/>
<circle cx="1182" cy="236.6" r="5.8"/>
<circle cx="1181" cy="234.4" r="5.8"/>
<circle cx="1167.8" cy="233.5" r="5.8"/>
<circle cx="1168.4" cy="231.6" r="5.8"/>
<circle cx="1169.8" cy="230.2" r="5.8"/>
<circle cx="1182.3" cy="229.1" r="5.8"/>
<circle cx="1173.6" cy="227.6" r="5.8"/>
<circle cx="1176.5" cy="225.7" r="5.8"/>
<circle cx="1171.6" cy="224.3" r="5.8"/>
<circle cx="1174.7" cy="222.9" r="5.8"/>
<circle cx="1173" cy="221" r="5.8"/>
<circle cx="1172.6" cy="218.5" r="5.8"/>
<circle cx="1175.7" cy="217.7" r="5.8"/>
<circle cx="1175.7" cy="215.8" r="5.8"/>
<circle cx="1179.5" cy="213.1" r="5.8"/>
<circle cx="1176.8" cy="211.6" r="5.8"/>
<circle cx="1179.5" cy="209.3" r="5.8"/>
<circle cx="1178.6" cy="207.4" r="5.8"/>
<circle cx="1179.9" cy="205.5" r="5.8"/>
<circle cx="1176.2" cy="202.6" r="5.8"/>
<circle cx="1171.5" cy="201.6" r="5.8"/>
<circle cx="1177.3" cy="199.2" r="5.8"/>
<circle cx="1177.3" cy="197.3" r="5.8"/>
<circle cx="1174.6" cy="27.4" r="5.8"/>
<circle cx="1174.6" cy="128.2" r="5.8"/>
<circle cx="1174.6" cy="159" r="5.8"/>
<circle cx="1174.6" cy="177.4" r="5.8"/>
<circle cx="1174.6" cy="188.5" r="5.8"/>
</g>
<g fill="#f27e9b">
<circle cx="1232.4" cy="287.6" r="6.1"/>
<circle cx="1230.4" cy="281.9" r="6.1"/>
<circle cx="1232.4" cy="277" r="6.1"/>
<circle cx="1229.5" cy="272.1" r="6.1"/>
<circle cx="1228" cy="268.4" r="6.1"/>
<circle cx="1232.1" cy="263.7" r="6.1"/>
<circle cx="1238.7" cy="262.5" r="6.1"/>
<circle cx="1237" cy="257.2" r="6.1"/>
<circle cx="1236.8" cy="251.9" r="6.1"/>
<circle cx="1229.4" cy="249" r="6.1"/>
<circle cx="1234" cy="244.5" r="6.1"/>
<circle cx="1229.6" cy="243.3" r="6.1"/>
<circle cx="1227.8" cy="238.6" r="6.1"/>
<circle cx="1226.7" cy="237.7" r="6.1"/>
<circle cx="1228.5" cy="234.4" r="6.1"/>
<circle cx="1240.7" cy="231.5" r="6.1"/>
<circle cx="1239" cy="230.1" r="6.1"/>
<circle cx="1237.7" cy="225.9" r="6.1"/>
<circle cx="1236.9" cy="222" r="6.1"/>
<circle cx="1230" cy="216" r="6.1"/>
<circle cx="1231.2" cy="212.3" r="6.1"/>
<circle cx="1234.8" cy="209.8" r="6.1"/>
<circle cx="1235.7" cy="203.2" r="6.1"/>
<circle cx="1236.5" cy="200.6" r="6.1"/>
<circle cx="1235" cy="194.2" r="6.1"/>
<circle cx="1233.4" cy="123.4" r="6.1"/>
<circle cx="1233.4" cy="157.6" r="6.1"/>
<circle cx="1233.4" cy="304.6" r="6.1"/>
</g>
<g fill="none" stroke="#f27e9b" stroke-width="2.4">
<circle cx="1269.5" cy="296.6" r="5.8"/>
<circle cx="1271.3" cy="293" r="5.8"/>
<circle cx="1272.4" cy="290.7" r="5.8"/>
<circle cx="1274.7" cy="288.3" r="5.8"/>
<circle cx="1272" cy="286.1" r="5.8"/>
<circle cx="1274.8" cy="281.8" r="5.8"/>
<circle cx="1261.5" cy="279.7" r="5.8"/>
<circle cx="1268.1" cy="276.4" r="5.8"/>
<circle cx="1275.8" cy="274.8" r="5.8"/>
<circle cx="1271.1" cy="271.4" r="5.8"/>
<circle cx="1275.4" cy="270.1" r="5.8"/>
<circle cx="1262" cy="266.4" r="5.8"/>
<circle cx="1268.1" cy="264.2" r="5.8"/>
<circle cx="1264.3" cy="262.6" r="5.8"/>
<circle cx="1269.3" cy="260.7" r="5.8"/>
<circle cx="1269.9" cy="258.6" r="5.8"/>
<circle cx="1260.3" cy="257.6" r="5.8"/>
<circle cx="1264" cy="254.2" r="5.8"/>
<circle cx="1265.5" cy="250.8" r="5.8"/>
<circle cx="1274.1" cy="249" r="5.8"/>
<circle cx="1271.7" cy="244.5" r="5.8"/>
<circle cx="1264.7" cy="241.3" r="5.8"/>
<circle cx="1271.9" cy="237.4" r="5.8"/>
<circle cx="1264.8" cy="234.9" r="5.8"/>
<circle cx="1269.7" cy="231.6" r="5.8"/>
<circle cx="1265.6" cy="225.9" r="5.8"/>
<circle cx="1265.2" cy="221.7" r="5.8"/>
<circle cx="1270.4" cy="218.3" r="5.8"/>
</g>
<g fill="#f8a13b">
<circle cx="1327.9" cy="183.3" r="6.1"/>
<circle cx="1327.9" cy="223.4" r="6.1"/>
<circle cx="1327.9" cy="253.9" r="6.1"/>
<circle cx="1327.9" cy="261.6" r="6.1"/>
<circle cx="1327.9" cy="276.3" r="6.1"/>
<circle cx="1325.9" cy="286.3" r="6.1"/>
<circle cx="1333.9" cy="289.6" r="6.1"/>
<circle cx="1321.9" cy="296.9" r="6.1"/>
<circle cx="1328.9" cy="293.3" r="6.1"/>
</g>
<g fill="none" stroke="#f8a13b" stroke-width="2.4">
<circle cx="1363.1" cy="166.4" r="5.8"/>
<circle cx="1363.1" cy="181.8" r="5.8"/>
<circle cx="1357.1" cy="236.6" r="5.8"/>
<circle cx="1369.1" cy="240.3" r="5.8"/>
<circle cx="1357.1" cy="250.2" r="5.8"/>
<circle cx="1369.1" cy="253.2" r="5.8"/>
<circle cx="1363.1" cy="256.5" r="5.8"/>
<circle cx="1363.1" cy="268.2" r="5.8"/>
<circle cx="1363.1" cy="289.9" r="5.8"/>
</g>
<g fill="#2f9ca9">
<circle cx="1422.4" cy="114.2" r="6.1"/>
<circle cx="1417.4" cy="187" r="6.1"/>
<circle cx="1428.4" cy="195.4" r="6.1"/>
<circle cx="1422.4" cy="201.7" r="6.1"/>
<circle cx="1417.4" cy="208.7" r="6.1"/>
<circle cx="1427.4" cy="208.7" r="6.1"/>
<circle cx="1422.4" cy="296.2" r="6.1"/>
<circle cx="1422.4" cy="312" r="6.1"/>
</g>
<g fill="none" stroke="#2f9ca9" stroke-width="2.4">
<circle cx="1457.6" cy="169" r="5.8"/>
<circle cx="1457.6" cy="206.5" r="5.8"/>
<circle cx="1463.6" cy="221.2" r="5.8"/>
<circle cx="1451.6" cy="226.7" r="5.8"/>
<circle cx="1457.6" cy="230.7" r="5.8"/>
<circle cx="1454.6" cy="255.7" r="5.8"/>
<circle cx="1460.6" cy="261.6" r="5.8"/>
<circle cx="1457.6" cy="310.5" r="5.8"/>
</g>
<g fill="#e5593a">
<circle cx="1516.9" cy="163.1" r="6.1"/>
<circle cx="1516.9" cy="248.8" r="6.1"/>
<circle cx="1516.9" cy="260.9" r="6.1"/>
</g>
<g fill="none" stroke="#e5593a" stroke-width="2.4">
<circle cx="1552.1" cy="58.3" r="5.8"/>
<circle cx="1552.1" cy="191.4" r="5.8"/>
<circle cx="1552.1" cy="275.2" r="5.8"/>
</g>
<line x1="1030.6" y1="244.3" x2="1059.2" y2="244.3" stroke="#000" stroke-width="3.9"/>
<line x1="1065.8" y1="254.6" x2="1094.4" y2="254.6" stroke="#000" stroke-width="3.9"/>
<line x1="1125.1" y1="241" x2="1153.7" y2="241" stroke="#000" stroke-width="3.9"/>
<line x1="1160.3" y1="242.5" x2="1188.9" y2="242.5" stroke="#000" stroke-width="3.9"/>
<line x1="1219.1" y1="238.5" x2="1247.7" y2="238.5" stroke="#000" stroke-width="3.9"/>
<line x1="1254.3" y1="261.3" x2="1282.9" y2="261.3" stroke="#000" stroke-width="3.9"/>
<line x1="1313.6" y1="262.4" x2="1342.2" y2="262.4" stroke="#000" stroke-width="3.9"/>
<line x1="1348.8" y1="238.5" x2="1377.4" y2="238.5" stroke="#000" stroke-width="3.9"/>
<line x1="1408.1" y1="215.7" x2="1436.7" y2="215.7" stroke="#000" stroke-width="3.9"/>
<line x1="1443.3" y1="235.2" x2="1471.9" y2="235.2" stroke="#000" stroke-width="3.9"/>
<line x1="1502.6" y1="223.8" x2="1531.2" y2="223.8" stroke="#000" stroke-width="3.9"/>
<line x1="1537.8" y1="174.9" x2="1566.4" y2="174.9" stroke="#000" stroke-width="3.9"/>
<line x1="1231.7" y1="109.6" x2="1270" y2="109.6" stroke="#000" stroke-width="2.1"/>
<text transform="translate(1247 101.8) scale(1 1.050)" font-size="21" text-anchor="middle">0.0061</text>
<line x1="1232" y1="68.7" x2="1327.5" y2="68.7" stroke="#000" stroke-width="2.1"/>
<text transform="translate(1280.5 62.3) scale(1 1.050)" font-size="21" text-anchor="middle">0.1714</text>
<line x1="1267" y1="35.5" x2="1459.5" y2="35.5" stroke="#000" stroke-width="2.1"/>
<text transform="translate(1365.5 29.5) scale(1 1.050)" font-size="21" text-anchor="middle">0.0525</text>
<line x1="1327.8" y1="98.8" x2="1422.5" y2="98.8" stroke="#000" stroke-width="2.1"/>
<text transform="translate(1372 91.9) scale(1 1.050)" font-size="21" text-anchor="middle">0.1996</text>
<circle cx="1592.5" cy="31" r="6.2" fill="#231f20"/>
<text transform="translate(1604 38.5) scale(1 1.050)" font-size="21.5">Lymphoid</text>
<circle cx="1592.4" cy="62.6" r="5.5" fill="none" stroke="#000" stroke-width="2.8"/>
<text transform="translate(1604 70.8) scale(1 1.050)" font-size="21.5">Myeloid</text>
<text x="904.5" y="485" font-size="48" font-weight="bold" fill="#231f20">C</text>
<line x1="1011" y1="854.9" x2="1190" y2="854.9" stroke="#000" stroke-width="4.1"/>
<line x1="1026" y1="526" x2="1026" y2="857.5" stroke="#000" stroke-width="4.1"/>
<line x1="1012" y1="854.9" x2="1026" y2="854.9" stroke="#000" stroke-width="4.1"/>
<text x="1007" y="863.2" font-size="24" text-anchor="end">0</text>
<line x1="1012" y1="789.5" x2="1026" y2="789.5" stroke="#000" stroke-width="4.1"/>
<text x="1007" y="797.8" font-size="24" text-anchor="end">20</text>
<line x1="1012" y1="724.1" x2="1026" y2="724.1" stroke="#000" stroke-width="4.1"/>
<text x="1007" y="732.4" font-size="24" text-anchor="end">40</text>
<line x1="1012" y1="658.8" x2="1026" y2="658.8" stroke="#000" stroke-width="4.1"/>
<text x="1007" y="667" font-size="24" text-anchor="end">60</text>
<line x1="1012" y1="593.4" x2="1026" y2="593.4" stroke="#000" stroke-width="4.1"/>
<text x="1007" y="601.6" font-size="24" text-anchor="end">80</text>
<line x1="1012" y1="528" x2="1026" y2="528" stroke="#000" stroke-width="4.1"/>
<text x="1007" y="536.3" font-size="24" text-anchor="end">100</text>
<text transform="translate(956.5 689.5) rotate(-90) scale(1 1.030)" font-size="26.3" text-anchor="middle">Proportion of cells (% of total)</text>
<text x="1104.8" y="886" font-size="28.8" text-anchor="middle">Cancer cells</text>
<g fill="#231f20">
<circle cx="1042.5" cy="562" r="6.8"/>
<circle cx="1042.5" cy="578.3" r="6.8"/>
<circle cx="1042.8" cy="588.1" r="6.8"/>
<circle cx="1042.5" cy="595.7" r="6.8"/>
<circle cx="1042.5" cy="614" r="6.8"/>
<circle cx="1042.7" cy="621.5" r="6.8"/>
<circle cx="1041.8" cy="626.1" r="6.8"/>
<circle cx="1042.5" cy="630.3" r="6.8"/>
<circle cx="1042.7" cy="639.1" r="6.8"/>
<circle cx="1043.1" cy="644" r="6.8"/>
<circle cx="1042" cy="649" r="6.8"/>
<circle cx="1042.2" cy="671.8" r="6.8"/>
<circle cx="1041.3" cy="676.7" r="6.8"/>
<circle cx="1043.6" cy="680" r="6.8"/>
<circle cx="1043.4" cy="684.9" r="6.8"/>
<circle cx="1040.2" cy="688.2" r="6.8"/>
<circle cx="1044.9" cy="689.8" r="6.8"/>
<circle cx="1044.8" cy="691.5" r="6.8"/>
<circle cx="1043.3" cy="694.7" r="6.8"/>
<circle cx="1043.1" cy="698" r="6.8"/>
<circle cx="1040.9" cy="701.3" r="6.8"/>
<circle cx="1040.3" cy="704.5" r="6.8"/>
<circle cx="1042.6" cy="707.8" r="6.8"/>
<circle cx="1040.5" cy="711.1" r="6.8"/>
<circle cx="1041.1" cy="714.3" r="6.8"/>
<circle cx="1041.5" cy="717.6" r="6.8"/>
<circle cx="1041.1" cy="719.2" r="6.8"/>
<circle cx="1042.4" cy="738.9" r="6.8"/>
<circle cx="1042.4" cy="743.8" r="6.8"/>
<circle cx="1043.3" cy="747" r="6.8"/>
<circle cx="1042.5" cy="753.6" r="6.8"/>
<circle cx="1042.6" cy="761.4" r="6.8"/>
<circle cx="1042.5" cy="788.5" r="6.8"/>
<circle cx="1042.7" cy="800.6" r="6.8"/>
<circle cx="1042.4" cy="805.9" r="6.8"/>
<circle cx="1042.2" cy="814.4" r="6.8"/>
<circle cx="1043.5" cy="820.6" r="6.8"/>
<circle cx="1043.4" cy="824.8" r="6.8"/>
<circle cx="1042.7" cy="832.3" r="6.8"/>
</g>
<g fill="#6461ac">
<circle cx="1068.7" cy="828.7" r="6.8"/>
<circle cx="1069.1" cy="825.4" r="6.8"/>
<circle cx="1069.2" cy="822" r="6.8"/>
<circle cx="1067.6" cy="818.6" r="6.8"/>
<circle cx="1067.2" cy="815.2" r="6.8"/>
<circle cx="1068.3" cy="811.8" r="6.8"/>
<circle cx="1068" cy="808.4" r="6.8"/>
<circle cx="1069.6" cy="805" r="6.8"/>
<circle cx="1069.2" cy="801.6" r="6.8"/>
<circle cx="1069" cy="796.1" r="6.8"/>
<circle cx="1068.9" cy="793.3" r="6.8"/>
<circle cx="1069.3" cy="790.5" r="6.8"/>
<circle cx="1067.4" cy="787.7" r="6.8"/>
<circle cx="1068.5" cy="785" r="6.8"/>
<circle cx="1067.5" cy="782.2" r="6.8"/>
<circle cx="1070.2" cy="779.4" r="6.8"/>
<circle cx="1067.1" cy="776.7" r="6.8"/>
<circle cx="1069.8" cy="773.9" r="6.8"/>
<circle cx="1067.2" cy="771.1" r="6.8"/>
<circle cx="1069.4" cy="768.4" r="6.8"/>
<circle cx="1068.1" cy="765.6" r="6.8"/>
<circle cx="1068.4" cy="762.8" r="6.8"/>
<circle cx="1069.9" cy="760" r="6.8"/>
<circle cx="1067" cy="757.3" r="6.8"/>
<circle cx="1067.1" cy="754.5" r="6.8"/>
<circle cx="1070.2" cy="751.7" r="6.8"/>
<circle cx="1068.7" cy="749" r="6.8"/>
<circle cx="1067.2" cy="746.2" r="6.8"/>
<circle cx="1070.5" cy="743.4" r="6.8"/>
<circle cx="1070.3" cy="740.7" r="6.8"/>
<circle cx="1067.3" cy="737.9" r="6.8"/>
<circle cx="1068.4" cy="735.1" r="6.8"/>
<circle cx="1067.4" cy="732.3" r="6.8"/>
<circle cx="1068" cy="729.6" r="6.8"/>
<circle cx="1069.1" cy="726.8" r="6.8"/>
<circle cx="1067.5" cy="724" r="6.8"/>
<circle cx="1069.4" cy="721.3" r="6.8"/>
<circle cx="1067.1" cy="718.5" r="6.8"/>
<circle cx="1067.5" cy="715.7" r="6.8"/>
<circle cx="1069.8" cy="712.9" r="6.8"/>
<circle cx="1068.3" cy="710.2" r="6.8"/>
<circle cx="1068.4" cy="707.4" r="6.8"/>
<circle cx="1069" cy="704.6" r="6.8"/>
<circle cx="1068.6" cy="701.9" r="6.8"/>
<circle cx="1068.3" cy="699.1" r="6.8"/>
<circle cx="1067" cy="696.3" r="6.8"/>
<circle cx="1069.5" cy="693.6" r="6.8"/>
<circle cx="1070.4" cy="690.8" r="6.8"/>
<circle cx="1070.4" cy="688" r="6.8"/>
<circle cx="1069.3" cy="685.2" r="6.8"/>
<circle cx="1068.2" cy="682.5" r="6.8"/>
<circle cx="1068.2" cy="679.7" r="6.8"/>
<circle cx="1069.4" cy="676.9" r="6.8"/>
<circle cx="1069.3" cy="674.2" r="6.8"/>
<circle cx="1067.3" cy="671.4" r="6.8"/>
<circle cx="1067.7" cy="668.6" r="6.8"/>
<circle cx="1068.2" cy="665.9" r="6.8"/>
<circle cx="1068.7" cy="663.1" r="6.8"/>
<circle cx="1069.8" cy="660.3" r="6.8"/>
<circle cx="1068.7" cy="657.5" r="6.8"/>
<circle cx="1067" cy="654.8" r="6.8"/>
<circle cx="1069.9" cy="652" r="6.8"/>
<circle cx="1068.4" cy="649.2" r="6.8"/>
<circle cx="1068.8" cy="646.5" r="6.8"/>
<circle cx="1067.7" cy="643.7" r="6.8"/>
<circle cx="1068.4" cy="640.9" r="6.8"/>
<circle cx="1068.3" cy="638.1" r="6.8"/>
<circle cx="1069.6" cy="635.4" r="6.8"/>
<circle cx="1067.8" cy="632.6" r="6.8"/>
<circle cx="1068.8" cy="623.8" r="6.8"/>
<circle cx="1067.9" cy="620.4" r="6.8"/>
<circle cx="1069.3" cy="617.1" r="6.8"/>
<circle cx="1067.2" cy="613.7" r="6.8"/>
<circle cx="1068" cy="610.4" r="6.8"/>
<circle cx="1068.2" cy="607.1" r="6.8"/>
<circle cx="1069.1" cy="603.7" r="6.8"/>
<circle cx="1067.3" cy="600.4" r="6.8"/>
<circle cx="1068.6" cy="597" r="6.8"/>
<circle cx="1067.8" cy="593.7" r="6.8"/>
<circle cx="1068" cy="590.3" r="6.8"/>
<circle cx="1068.6" cy="587" r="6.8"/>
<circle cx="1069.9" cy="583.6" r="6.8"/>
<circle cx="1068.7" cy="580.3" r="6.8"/>
<circle cx="1068.7" cy="840.5" r="6.8"/>
</g>
<g fill="#f27e9b">
<circle cx="1094" cy="580.3" r="6.8"/>
<circle cx="1094" cy="610.7" r="6.8"/>
<circle cx="1094.1" cy="633.6" r="6.8"/>
<circle cx="1094.7" cy="642.4" r="6.8"/>
<circle cx="1093" cy="647.3" r="6.8"/>
<circle cx="1092.8" cy="652.2" r="6.8"/>
<circle cx="1092.2" cy="655.5" r="6.8"/>
<circle cx="1092.6" cy="658.8" r="6.8"/>
<circle cx="1095.2" cy="662" r="6.8"/>
<circle cx="1092.2" cy="665.3" r="6.8"/>
<circle cx="1094.2" cy="668.6" r="6.8"/>
<circle cx="1092.6" cy="671.8" r="6.8"/>
<circle cx="1093" cy="675.1" r="6.8"/>
<circle cx="1093.7" cy="678.4" r="6.8"/>
<circle cx="1095.7" cy="681.6" r="6.8"/>
<circle cx="1094.5" cy="684.9" r="6.8"/>
<circle cx="1092.9" cy="689.2" r="6.8"/>
<circle cx="1093.9" cy="728.4" r="6.8"/>
<circle cx="1093.5" cy="737.2" r="6.8"/>
<circle cx="1094.4" cy="743.8" r="6.8"/>
<circle cx="1094.4" cy="755.5" r="6.8"/>
<circle cx="1094.3" cy="761.4" r="6.8"/>
<circle cx="1094" cy="778.1" r="6.8"/>
<circle cx="1094" cy="794.8" r="6.8"/>
<circle cx="1094.3" cy="809.8" r="6.8"/>
<circle cx="1094.2" cy="817.3" r="6.8"/>
</g>
<g fill="#f8a13b">
<circle cx="1120" cy="601.9" r="6.8"/>
<circle cx="1120" cy="680.7" r="6.8"/>
<circle cx="1120" cy="705.8" r="6.8"/>
<circle cx="1120" cy="713.4" r="6.8"/>
<circle cx="1120" cy="722.2" r="6.8"/>
<circle cx="1120" cy="736.9" r="6.8"/>
<circle cx="1120" cy="795.4" r="6.8"/>
</g>
<g fill="#2f9ca9">
<circle cx="1146" cy="545.3" r="6.8"/>
<circle cx="1146" cy="723.2" r="6.8"/>
<circle cx="1146" cy="749.3" r="6.8"/>
<circle cx="1146" cy="768.9" r="6.8"/>
<circle cx="1146" cy="778.1" r="6.8"/>
<circle cx="1149" cy="802.3" r="6.8"/>
<circle cx="1143" cy="805.2" r="6.8"/>
</g>
<g fill="#e5593a">
<circle cx="1172" cy="720.9" r="6.8"/>
<circle cx="1172" cy="774.5" r="6.8"/>
<circle cx="1172" cy="830.1" r="6.8"/>
</g>
<line x1="1031.8" y1="691.5" x2="1053.2" y2="691.5" stroke="#000" stroke-width="3.6"/>
<line x1="1058" y1="714.3" x2="1079.5" y2="714.3" stroke="#000" stroke-width="3.6"/>
<line x1="1083.2" y1="699.6" x2="1104.8" y2="699.6" stroke="#000" stroke-width="3.6"/>
<line x1="1109.2" y1="711.1" x2="1130.8" y2="711.1" stroke="#000" stroke-width="3.6"/>
<line x1="1135.2" y1="747" x2="1156.8" y2="747" stroke="#000" stroke-width="3.6"/>
<line x1="1161.2" y1="774.5" x2="1182.8" y2="774.5" stroke="#000" stroke-width="3.6"/>
<line x1="1042" y1="473" x2="1147" y2="473" stroke="#000" stroke-width="2"/>
<text x="1092.8" y="468.5" font-size="24" text-anchor="middle">0.0433</text>
<line x1="1067.8" y1="505.3" x2="1147" y2="505.3" stroke="#000" stroke-width="2"/>
<text x="1104" y="498.7" font-size="24" text-anchor="middle">0.0398</text>
<line x1="1119" y1="535.4" x2="1147" y2="535.4" stroke="#000" stroke-width="2"/>
<text x="1131" y="528.8" font-size="24" text-anchor="middle">0.0464</text>
<line x1="1229.5" y1="854.9" x2="1407.5" y2="854.9" stroke="#000" stroke-width="4.1"/>
<line x1="1244.3" y1="526" x2="1244.3" y2="857.5" stroke="#000" stroke-width="4.1"/>
<line x1="1230" y1="854.9" x2="1244.3" y2="854.9" stroke="#000" stroke-width="4.1"/>
<text x="1225" y="863.2" font-size="24" text-anchor="end">0</text>
<line x1="1230" y1="773.2" x2="1244.3" y2="773.2" stroke="#000" stroke-width="4.1"/>
<text x="1225" y="781.4" font-size="24" text-anchor="end">2</text>
<line x1="1230" y1="691.5" x2="1244.3" y2="691.5" stroke="#000" stroke-width="4.1"/>
<text x="1225" y="699.7" font-size="24" text-anchor="end">4</text>
<line x1="1230" y1="609.7" x2="1244.3" y2="609.7" stroke="#000" stroke-width="4.1"/>
<text x="1225" y="618" font-size="24" text-anchor="end">6</text>
<line x1="1230" y1="528" x2="1244.3" y2="528" stroke="#000" stroke-width="4.1"/>
<text x="1225" y="536.3" font-size="24" text-anchor="end">8</text>
<text x="1327.7" y="886" font-size="28.8" text-anchor="middle">Mast cells</text>
<g fill="#231f20">
<circle cx="1260.7" cy="854.3" r="6.8"/>
<circle cx="1262" cy="852" r="6.8"/>
<circle cx="1261.9" cy="850.6" r="6.8"/>
<circle cx="1261.3" cy="849.4" r="6.8"/>
<circle cx="1260.2" cy="848.5" r="6.8"/>
<circle cx="1262.8" cy="846.5" r="6.8"/>
<circle cx="1262.9" cy="845.2" r="6.8"/>
<circle cx="1261.5" cy="844.4" r="6.8"/>
<circle cx="1261.4" cy="843.2" r="6.8"/>
<circle cx="1260.1" cy="842.4" r="6.8"/>
<circle cx="1258.9" cy="841.6" r="6.8"/>
<circle cx="1260.8" cy="840" r="6.8"/>
<circle cx="1261.8" cy="838.6" r="6.8"/>
<circle cx="1259.2" cy="838.2" r="6.8"/>
<circle cx="1262.9" cy="836.2" r="6.8"/>
<circle cx="1260.1" cy="835.8" r="6.8"/>
<circle cx="1260.1" cy="834.8" r="6.8"/>
<circle cx="1259.1" cy="834" r="6.8"/>
<circle cx="1263.9" cy="831.7" r="6.8"/>
<circle cx="1262.6" cy="831" r="6.8"/>
<circle cx="1263.3" cy="830" r="6.8"/>
<circle cx="1262" cy="829.4" r="6.8"/>
<circle cx="1259.1" cy="828.9" r="6.8"/>
<circle cx="1260.6" cy="827.1" r="6.8"/>
<circle cx="1261.4" cy="825.3" r="6.8"/>
<circle cx="1259.9" cy="824.1" r="6.8"/>
<circle cx="1262.9" cy="821.1" r="6.8"/>
<circle cx="1261" cy="820" r="6.8"/>
<circle cx="1260.4" cy="818.2" r="6.8"/>
<circle cx="1262.3" cy="815.3" r="6.8"/>
<circle cx="1260.4" cy="814" r="6.8"/>
<circle cx="1262.5" cy="810.7" r="6.8"/>
<circle cx="1261.3" cy="809" r="6.8"/>
<circle cx="1261.5" cy="806.4" r="6.8"/>
<circle cx="1261" cy="804.3" r="6.8"/>
<circle cx="1261.4" cy="801.6" r="6.8"/>
<circle cx="1260.7" cy="799.4" r="6.8"/>
<circle cx="1260.5" cy="796.9" r="6.8"/>
<circle cx="1261.9" cy="793.2" r="6.8"/>
<circle cx="1261.1" cy="791.3" r="6.8"/>
<circle cx="1261.4" cy="773.2" r="6.8"/>
<circle cx="1261.4" cy="767" r="6.8"/>
<circle cx="1261.4" cy="760.9" r="6.8"/>
<circle cx="1261.4" cy="754.4" r="6.8"/>
</g>
<g fill="#6461ac">
<circle cx="1288.5" cy="853.8" r="6.8"/>
<circle cx="1286.8" cy="853.2" r="6.8"/>
<circle cx="1286.4" cy="852.2" r="6.8"/>
<circle cx="1289.1" cy="850.5" r="6.8"/>
<circle cx="1286.6" cy="850.1" r="6.8"/>
<circle cx="1286.3" cy="849.2" r="6.8"/>
<circle cx="1288.2" cy="847.9" r="6.8"/>
<circle cx="1287" cy="847.2" r="6.8"/>
<circle cx="1289.2" cy="845.9" r="6.8"/>
<circle cx="1286.5" cy="845.6" r="6.8"/>
<circle cx="1289.6" cy="844.2" r="6.8"/>
<circle cx="1286.8" cy="843.8" r="6.8"/>
<circle cx="1288.1" cy="842.8" r="6.8"/>
<circle cx="1289.6" cy="841.7" r="6.8"/>
<circle cx="1288.5" cy="841.1" r="6.8"/>
<circle cx="1289.6" cy="840.1" r="6.8"/>
<circle cx="1288.6" cy="839.5" r="6.8"/>
<circle cx="1285.4" cy="839.2" r="6.8"/>
<circle cx="1289.5" cy="837.8" r="6.8"/>
<circle cx="1288" cy="837.3" r="6.8"/>
<circle cx="1286.7" cy="836.7" r="6.8"/>
<circle cx="1286.1" cy="836" r="6.8"/>
<circle cx="1289.3" cy="834.8" r="6.8"/>
<circle cx="1288" cy="834.2" r="6.8"/>
<circle cx="1289.8" cy="833.2" r="6.8"/>
<circle cx="1289" cy="832.6" r="6.8"/>
<circle cx="1289.9" cy="831.8" r="6.8"/>
<circle cx="1287.9" cy="831.3" r="6.8"/>
<circle cx="1288.6" cy="830.5" r="6.8"/>
<circle cx="1288.2" cy="829.8" r="6.8"/>
<circle cx="1286.4" cy="829.4" r="6.8"/>
<circle cx="1289.9" cy="828.1" r="6.8"/>
<circle cx="1286.7" cy="827.9" r="6.8"/>
<circle cx="1289" cy="826.9" r="6.8"/>
<circle cx="1289.9" cy="826" r="6.8"/>
<circle cx="1288.4" cy="825.5" r="6.8"/>
<circle cx="1285.8" cy="825.2" r="6.8"/>
<circle cx="1289.2" cy="824" r="6.8"/>
<circle cx="1288.4" cy="823.9" r="6.8"/>
<circle cx="1286" cy="823.8" r="6.8"/>
<circle cx="1285.3" cy="823.4" r="6.8"/>
<circle cx="1287.8" cy="822.4" r="6.8"/>
<circle cx="1285.3" cy="822.2" r="6.8"/>
<circle cx="1289.7" cy="820.8" r="6.8"/>
<circle cx="1287.6" cy="820.4" r="6.8"/>
<circle cx="1287.7" cy="819.7" r="6.8"/>
<circle cx="1287.1" cy="819" r="6.8"/>
<circle cx="1288.4" cy="818" r="6.8"/>
<circle cx="1289.5" cy="816.9" r="6.8"/>
<circle cx="1286.7" cy="816.5" r="6.8"/>
<circle cx="1287" cy="815.5" r="6.8"/>
<circle cx="1287.9" cy="814.5" r="6.8"/>
<circle cx="1286.8" cy="813.7" r="6.8"/>
<circle cx="1288" cy="812.5" r="6.8"/>
<circle cx="1287.8" cy="811.6" r="6.8"/>
<circle cx="1287.4" cy="810.6" r="6.8"/>
<circle cx="1288.2" cy="809.4" r="6.8"/>
<circle cx="1287.7" cy="808.5" r="6.8"/>
<circle cx="1286.2" cy="807.7" r="6.8"/>
<circle cx="1289.3" cy="806" r="6.8"/>
<circle cx="1287.1" cy="805.3" r="6.8"/>
<circle cx="1287.4" cy="804.2" r="6.8"/>
<circle cx="1287.3" cy="803" r="6.8"/>
<circle cx="1289" cy="801.5" r="6.8"/>
<circle cx="1289" cy="800.3" r="6.8"/>
<circle cx="1287.6" cy="799.5" r="6.8"/>
<circle cx="1287.3" cy="798.3" r="6.8"/>
<circle cx="1286.4" cy="797.3" r="6.8"/>
<circle cx="1288.7" cy="795.5" r="6.8"/>
<circle cx="1286.7" cy="794.8" r="6.8"/>
<circle cx="1287.7" cy="793.3" r="6.8"/>
<circle cx="1287.2" cy="792.1" r="6.8"/>
<circle cx="1287.2" cy="790.9" r="6.8"/>
<circle cx="1287.3" cy="789.6" r="6.8"/>
<circle cx="1287.1" cy="788.4" r="6.8"/>
<circle cx="1287.6" cy="590.5" r="6.8"/>
<circle cx="1287.6" cy="728.2" r="6.8"/>
<circle cx="1287.6" cy="745.8" r="6.8"/>
<circle cx="1287.6" cy="755.6" r="6.8"/>
<circle cx="1287.6" cy="763" r="6.8"/>
</g>
<g fill="#f27e9b">
<circle cx="1313.9" cy="851.6" r="6.8"/>
<circle cx="1314.6" cy="848.1" r="6.8"/>
<circle cx="1314.7" cy="845.2" r="6.8"/>
<circle cx="1311.1" cy="844.3" r="6.8"/>
<circle cx="1313.5" cy="840.3" r="6.8"/>
<circle cx="1312.6" cy="838" r="6.8"/>
<circle cx="1313.2" cy="835.2" r="6.8"/>
<circle cx="1311.2" cy="833.6" r="6.8"/>
<circle cx="1311.5" cy="830.9" r="6.8"/>
<circle cx="1312.7" cy="827.9" r="6.8"/>
<circle cx="1311.6" cy="826" r="6.8"/>
<circle cx="1312.8" cy="823.1" r="6.8"/>
<circle cx="1310.6" cy="821.8" r="6.8"/>
<circle cx="1310.9" cy="819.3" r="6.8"/>
<circle cx="1314.1" cy="815.5" r="6.8"/>
<circle cx="1312.6" cy="814.5" r="6.8"/>
<circle cx="1313.1" cy="812.5" r="6.8"/>
<circle cx="1314.2" cy="809.7" r="6.8"/>
<circle cx="1312.3" cy="807.9" r="6.8"/>
<circle cx="1311.1" cy="805.7" r="6.8"/>
<circle cx="1314" cy="800.8" r="6.8"/>
<circle cx="1313.3" cy="797.9" r="6.8"/>
<circle cx="1313.5" cy="794.1" r="6.8"/>
<circle cx="1313.3" cy="790.5" r="6.8"/>
<circle cx="1314.3" cy="785.7" r="6.8"/>
<circle cx="1312.6" cy="783.1" r="6.8"/>
<circle cx="1313.7" cy="778" r="6.8"/>
<circle cx="1312.7" cy="774.6" r="6.8"/>
<circle cx="1313.1" cy="769.7" r="6.8"/>
<circle cx="1313.2" cy="764.9" r="6.8"/>
</g>
<g fill="#f8a13b">
<circle cx="1340.3" cy="793.2" r="6.8"/>
<circle cx="1336.3" cy="799.3" r="6.8"/>
<circle cx="1338.3" cy="823.4" r="6.8"/>
<circle cx="1338.3" cy="830.8" r="6.8"/>
<circle cx="1338.3" cy="838.6" r="6.8"/>
<circle cx="1338.3" cy="845.9" r="6.8"/>
<circle cx="1338.3" cy="852" r="6.8"/>
</g>
<g fill="#2f9ca9">
<circle cx="1364" cy="792.4" r="6.8"/>
<circle cx="1364" cy="823.4" r="6.8"/>
<circle cx="1364" cy="829.2" r="6.8"/>
<circle cx="1364" cy="836.9" r="6.8"/>
<circle cx="1364" cy="845.9" r="6.8"/>
<circle cx="1364" cy="852" r="6.8"/>
</g>
<g fill="#e5593a">
<circle cx="1386.4" cy="844.3" r="6.8"/>
<circle cx="1392.4" cy="844.3" r="6.8"/>
<circle cx="1389.4" cy="852" r="6.8"/>
</g>
<line x1="1250.7" y1="830.8" x2="1272.2" y2="830.8" stroke="#000" stroke-width="3.6"/>
<line x1="1276.8" y1="824.3" x2="1298.3" y2="824.3" stroke="#000" stroke-width="3.6"/>
<line x1="1302.2" y1="814.9" x2="1323.8" y2="814.9" stroke="#000" stroke-width="3.6"/>
<line x1="1327.5" y1="830.4" x2="1349" y2="830.4" stroke="#000" stroke-width="3.6"/>
<line x1="1353.2" y1="827.9" x2="1374.8" y2="827.9" stroke="#000" stroke-width="3.6"/>
<line x1="1378.7" y1="848.4" x2="1400.2" y2="848.4" stroke="#000" stroke-width="3.6"/>
<line x1="1260" y1="543" x2="1314" y2="543" stroke="#000" stroke-width="2"/>
<text x="1290.6" y="537" font-size="26.1" text-anchor="middle">0.0026</text>
<line x1="1286.4" y1="576.7" x2="1314" y2="576.7" stroke="#000" stroke-width="2"/>
<text x="1300.6" y="570" font-size="26.1" text-anchor="middle">0.0041</text>
<line x1="1311.7" y1="748.4" x2="1391" y2="748.4" stroke="#000" stroke-width="2"/>
<text x="1351.8" y="741.7" font-size="26.1" text-anchor="middle">0.0066</text>
<line x1="1452" y1="854.9" x2="1630.4" y2="854.9" stroke="#000" stroke-width="4.1"/>
<line x1="1466.8" y1="525" x2="1466.8" y2="857.5" stroke="#000" stroke-width="4.1"/>
<line x1="1452.7" y1="854.9" x2="1466.8" y2="854.9" stroke="#000" stroke-width="4.1"/>
<text x="1447" y="863.2" font-size="24" text-anchor="end">0</text>
<line x1="1452.7" y1="772.9" x2="1466.8" y2="772.9" stroke="#000" stroke-width="4.1"/>
<text x="1447" y="781.2" font-size="24" text-anchor="end">10</text>
<line x1="1452.7" y1="691" x2="1466.8" y2="691" stroke="#000" stroke-width="4.1"/>
<text x="1447" y="699.2" font-size="24" text-anchor="end">20</text>
<line x1="1452.7" y1="609" x2="1466.8" y2="609" stroke="#000" stroke-width="4.1"/>
<text x="1447" y="617.2" font-size="24" text-anchor="end">30</text>
<line x1="1452.7" y1="527" x2="1466.8" y2="527" stroke="#000" stroke-width="4.1"/>
<text x="1447" y="535.3" font-size="24" text-anchor="end">40</text>
<text x="1562" y="886" font-size="28.8" text-anchor="middle">Unclassified cells</text>
<g fill="#231f20">
<circle cx="1483.6" cy="853" r="6.8"/>
<circle cx="1483.4" cy="849.7" r="6.8"/>
<circle cx="1484" cy="846.3" r="6.8"/>
<circle cx="1485" cy="843.1" r="6.8"/>
<circle cx="1483" cy="841.7" r="6.8"/>
<circle cx="1482.8" cy="839.3" r="6.8"/>
<circle cx="1483.3" cy="836.6" r="6.8"/>
<circle cx="1485.3" cy="833.3" r="6.8"/>
<circle cx="1482.9" cy="832.2" r="6.8"/>
<circle cx="1485.3" cy="828.8" r="6.8"/>
<circle cx="1485" cy="826.7" r="6.8"/>
<circle cx="1482.6" cy="825.6" r="6.8"/>
<circle cx="1484.5" cy="822.7" r="6.8"/>
<circle cx="1484.1" cy="820.7" r="6.8"/>
<circle cx="1483.9" cy="818.7" r="6.8"/>
<circle cx="1486.8" cy="815.5" r="6.8"/>
<circle cx="1482.3" cy="815.2" r="6.8"/>
<circle cx="1481.9" cy="813.3" r="6.8"/>
<circle cx="1486.5" cy="809.5" r="6.8"/>
<circle cx="1483.8" cy="808.5" r="6.8"/>
<circle cx="1482.8" cy="807.6" r="6.8"/>
<circle cx="1483.5" cy="806.1" r="6.8"/>
<circle cx="1483.6" cy="804.4" r="6.8"/>
<circle cx="1486.6" cy="801.4" r="6.8"/>
<circle cx="1482.9" cy="800.8" r="6.8"/>
<circle cx="1483" cy="798.6" r="6.8"/>
<circle cx="1484.6" cy="795.5" r="6.8"/>
<circle cx="1484.5" cy="793.1" r="6.8"/>
<circle cx="1485.9" cy="789.7" r="6.8"/>
<circle cx="1485.5" cy="787.2" r="6.8"/>
<circle cx="1483.8" cy="785.3" r="6.8"/>
<circle cx="1483.4" cy="782.7" r="6.8"/>
<circle cx="1485.3" cy="778.4" r="6.8"/>
<circle cx="1485.7" cy="775" r="6.8"/>
<circle cx="1483" cy="773.8" r="6.8"/>
<circle cx="1484.9" cy="769.1" r="6.8"/>
<circle cx="1485.3" cy="765.5" r="6.8"/>
<circle cx="1484.7" cy="762.6" r="6.8"/>
<circle cx="1483.7" cy="760" r="6.8"/>
<circle cx="1484.6" cy="755.3" r="6.8"/>
<circle cx="1484.3" cy="562.2" r="6.8"/>
<circle cx="1484.3" cy="719.6" r="6.8"/>
<circle cx="1484.3" cy="737.7" r="6.8"/>
</g>
<g fill="#6461ac">
<circle cx="1509.6" cy="852.9" r="6.8"/>
<circle cx="1509.5" cy="849.9" r="6.8"/>
<circle cx="1509.6" cy="847.3" r="6.8"/>
<circle cx="1511" cy="844.1" r="6.8"/>
<circle cx="1510" cy="842.5" r="6.8"/>
<circle cx="1510.6" cy="840" r="6.8"/>
<circle cx="1508.9" cy="838.8" r="6.8"/>
<circle cx="1510" cy="836.1" r="6.8"/>
<circle cx="1511" cy="833.6" r="6.8"/>
<circle cx="1510.1" cy="832.1" r="6.8"/>
<circle cx="1511.5" cy="829.5" r="6.8"/>
<circle cx="1511.3" cy="827.7" r="6.8"/>
<circle cx="1509.6" cy="826.6" r="6.8"/>
<circle cx="1508.3" cy="825.2" r="6.8"/>
<circle cx="1510.9" cy="822.3" r="6.8"/>
<circle cx="1508.7" cy="821.3" r="6.8"/>
<circle cx="1508.4" cy="819.7" r="6.8"/>
<circle cx="1510.8" cy="816.9" r="6.8"/>
<circle cx="1511.2" cy="814.9" r="6.8"/>
<circle cx="1511.2" cy="813.2" r="6.8"/>
<circle cx="1511.7" cy="811.2" r="6.8"/>
<circle cx="1508.9" cy="810.6" r="6.8"/>
<circle cx="1508.4" cy="809" r="6.8"/>
<circle cx="1508.5" cy="807.2" r="6.8"/>
<circle cx="1511.8" cy="804.3" r="6.8"/>
<circle cx="1508.5" cy="803.8" r="6.8"/>
<circle cx="1508.7" cy="802.1" r="6.8"/>
<circle cx="1508.2" cy="800.6" r="6.8"/>
<circle cx="1508.3" cy="798.9" r="6.8"/>
<circle cx="1508.3" cy="797.3" r="6.8"/>
<circle cx="1509.5" cy="795.1" r="6.8"/>
<circle cx="1508.7" cy="793.8" r="6.8"/>
<circle cx="1509.3" cy="791.9" r="6.8"/>
<circle cx="1511.8" cy="789.4" r="6.8"/>
<circle cx="1508.6" cy="788.9" r="6.8"/>
<circle cx="1511.5" cy="786.3" r="6.8"/>
<circle cx="1511.2" cy="784.8" r="6.8"/>
<circle cx="1510.3" cy="783.5" r="6.8"/>
<circle cx="1510.4" cy="783" r="6.8"/>
<circle cx="1511.4" cy="782" r="6.8"/>
<circle cx="1510.4" cy="781.3" r="6.8"/>
<circle cx="1508.6" cy="780.9" r="6.8"/>
<circle cx="1509.1" cy="779.6" r="6.8"/>
<circle cx="1508.7" cy="778.6" r="6.8"/>
<circle cx="1509.5" cy="777.1" r="6.8"/>
<circle cx="1512.4" cy="774.9" r="6.8"/>
<circle cx="1509.6" cy="774.4" r="6.8"/>
<circle cx="1507.9" cy="773.5" r="6.8"/>
<circle cx="1509.9" cy="771.4" r="6.8"/>
<circle cx="1511.3" cy="769.4" r="6.8"/>
<circle cx="1509.8" cy="768.4" r="6.8"/>
<circle cx="1510.8" cy="766.4" r="6.8"/>
<circle cx="1508.4" cy="765.6" r="6.8"/>
<circle cx="1508.3" cy="764" r="6.8"/>
<circle cx="1510.6" cy="761.4" r="6.8"/>
<circle cx="1508.4" cy="760.5" r="6.8"/>
<circle cx="1509.3" cy="758.3" r="6.8"/>
<circle cx="1509.6" cy="756.4" r="6.8"/>
<circle cx="1509" cy="754.8" r="6.8"/>
<circle cx="1508.6" cy="753.1" r="6.8"/>
<circle cx="1508.5" cy="751.2" r="6.8"/>
<circle cx="1511.3" cy="747.9" r="6.8"/>
<circle cx="1510.5" cy="746.3" r="6.8"/>
<circle cx="1511.3" cy="743.9" r="6.8"/>
<circle cx="1510" cy="742.6" r="6.8"/>
<circle cx="1511.4" cy="739.8" r="6.8"/>
<circle cx="1511.1" cy="737.9" r="6.8"/>
<circle cx="1510.4" cy="736.1" r="6.8"/>
<circle cx="1510.1" cy="734.1" r="6.8"/>
<circle cx="1510" cy="732" r="6.8"/>
<circle cx="1509.2" cy="730.2" r="6.8"/>
<circle cx="1509.7" cy="727.7" r="6.8"/>
<circle cx="1510.5" cy="725" r="6.8"/>
<circle cx="1509.4" cy="723.5" r="6.8"/>
<circle cx="1510.4" cy="720.3" r="6.8"/>
<circle cx="1510" cy="655.7" r="6.8"/>
<circle cx="1510" cy="677" r="6.8"/>
<circle cx="1510" cy="686" r="6.8"/>
<circle cx="1510" cy="691.8" r="6.8"/>
<circle cx="1510" cy="706.5" r="6.8"/>
</g>
<g fill="#f27e9b">
<circle cx="1535.6" cy="833.6" r="6.8"/>
<circle cx="1535.9" cy="828.8" r="6.8"/>
<circle cx="1536.6" cy="824.1" r="6.8"/>
<circle cx="1534.7" cy="821.7" r="6.8"/>
<circle cx="1536" cy="816.9" r="6.8"/>
<circle cx="1537.1" cy="812.6" r="6.8"/>
<circle cx="1537.4" cy="809" r="6.8"/>
<circle cx="1534" cy="807.6" r="6.8"/>
<circle cx="1536.3" cy="802.9" r="6.8"/>
<circle cx="1536.1" cy="800.7" r="6.8"/>
<circle cx="1535.5" cy="799.1" r="6.8"/>
<circle cx="1537.8" cy="795.2" r="6.8"/>
<circle cx="1535.6" cy="793.5" r="6.8"/>
<circle cx="1535.2" cy="790.5" r="6.8"/>
<circle cx="1537.3" cy="785.6" r="6.8"/>
<circle cx="1536" cy="782.7" r="6.8"/>
<circle cx="1534.8" cy="779.7" r="6.8"/>
<circle cx="1535.1" cy="775.6" r="6.8"/>
<circle cx="1535.5" cy="663.9" r="6.8"/>
<circle cx="1535.5" cy="678.7" r="6.8"/>
<circle cx="1535.5" cy="686.9" r="6.8"/>
<circle cx="1535.5" cy="715.5" r="6.8"/>
<circle cx="1535.5" cy="738.5" r="6.8"/>
<circle cx="1535.5" cy="745.9" r="6.8"/>
<circle cx="1535.5" cy="752.4" r="6.8"/>
</g>
<g fill="#f8a13b">
<circle cx="1565" cy="645.9" r="6.8"/>
<circle cx="1558" cy="652.4" r="6.8"/>
<circle cx="1561" cy="729.5" r="6.8"/>
<circle cx="1561" cy="744.2" r="6.8"/>
<circle cx="1561" cy="754.1" r="6.8"/>
<circle cx="1561" cy="761.4" r="6.8"/>
<circle cx="1564" cy="772.1" r="6.8"/>
<circle cx="1561" cy="797.5" r="6.8"/>
<circle cx="1565" cy="811.5" r="6.8"/>
<circle cx="1558" cy="814.7" r="6.8"/>
</g>
<g fill="#2f9ca9">
<circle cx="1586.7" cy="654.1" r="6.8"/>
<circle cx="1588.7" cy="740.1" r="6.8"/>
<circle cx="1582.7" cy="750.8" r="6.8"/>
<circle cx="1590.7" cy="750.8" r="6.8"/>
<circle cx="1586.7" cy="789.3" r="6.8"/>
<circle cx="1586.7" cy="817.2" r="6.8"/>
<circle cx="1589.7" cy="841" r="6.8"/>
<circle cx="1584.7" cy="851.6" r="6.8"/>
</g>
<g fill="#e5593a">
<circle cx="1612.6" cy="789.3" r="6.8"/>
<circle cx="1612.6" cy="826.2" r="6.8"/>
<circle cx="1612.6" cy="843.4" r="6.8"/>
</g>
<line x1="1473.5" y1="807.4" x2="1495" y2="807.4" stroke="#000" stroke-width="3.6"/>
<line x1="1499.2" y1="783.6" x2="1520.8" y2="783.6" stroke="#000" stroke-width="3.6"/>
<line x1="1524.8" y1="777" x2="1546.2" y2="777" stroke="#000" stroke-width="3.6"/>
<line x1="1550.2" y1="746.7" x2="1571.8" y2="746.7" stroke="#000" stroke-width="3.6"/>
<line x1="1576" y1="773.3" x2="1597.5" y2="773.3" stroke="#000" stroke-width="3.6"/>
<line x1="1601.8" y1="819.7" x2="1623.3" y2="819.7" stroke="#000" stroke-width="3.6"/>
<line x1="1482.8" y1="486.6" x2="1562.6" y2="486.6" stroke="#000" stroke-width="2"/>
<text x="1520.5" y="481.8" font-size="26.1" text-anchor="middle">0.0012</text>
<line x1="1482.8" y1="518" x2="1535.5" y2="518" stroke="#000" stroke-width="2"/>
<text x="1509" y="512.8" font-size="26.1" text-anchor="middle">0.0012</text>
<line x1="1482.8" y1="551.7" x2="1510.5" y2="551.7" stroke="#000" stroke-width="2"/>
<text x="1510.8" y="545.4" font-size="26.1" text-anchor="middle">0.0007</text>
<circle cx="1662.6" cy="525.2" r="6.6" fill="#231f20"/>
<text x="1680.7" y="533.9" font-size="24">Unknown driver</text>
<circle cx="1662.6" cy="551.1" r="6.6" fill="#6461ac"/>
<text x="1680.7" y="559.8" font-size="24">KRAS</text>
<circle cx="1662.6" cy="577" r="6.6" fill="#f27e9b"/>
<text x="1680.7" y="585.7" font-size="24">EGFR</text>
<circle cx="1662.6" cy="602.9" r="6.6" fill="#f8a13b"/>
<text x="1680.7" y="611.6" font-size="24">MET</text>
<circle cx="1662.6" cy="628.8" r="6.6" fill="#2f9ca9"/>
<text x="1680.7" y="637.5" font-size="24">PIK3CA</text>
<circle cx="1662.6" cy="654.7" r="6.6" fill="#e5593a"/>
<text x="1680.7" y="663.4" font-size="24">BRAF</text>
<text x="-3.5" y="1139.5" font-size="48" font-weight="bold" fill="#231f20">D</text>
<text x="248.5" y="1127" font-size="31.7" text-anchor="middle">% of unclassified cells</text>
<text x="248.5" y="1153.7" font-size="31.7" text-anchor="middle">in entire cohort</text>
<circle cx="174" cy="1283.2" r="89.9" fill="none" stroke="#000" stroke-width="61.8"/>
<path d="M174 1163.9 A119.3 119.3 0 0 1 292.4 1298.2 L234 1290.8 A60.5 60.5 0 0 0 174 1222.7 Z" fill="#fff" stroke="#000" stroke-width="3" stroke-linejoin="miter"/>
<text x="246.4" y="1238" font-size="26.8" text-anchor="middle">27%</text>
<text x="83.5" y="1353" font-size="26.8" fill="#fff">73%</text>
<rect x="288.2" y="1351.5" width="25" height="13.8" fill="#fff" stroke="#000" stroke-width="3"/>
<rect x="286.7" y="1378.7" width="28" height="16.6" fill="#000"/>
<text x="323.7" y="1367.3" font-size="26.5">CD45<tspan font-size="16" dy="-9.5">+</tspan><tspan dy="9.5"> cells</tspan></text>
<text x="323.7" y="1396" font-size="26.5">CD45<tspan font-size="16" dy="-9.5">-</tspan><tspan dy="9.5"> cells</tspan></text>
<text x="475.5" y="1139.5" font-size="48" font-weight="bold" fill="#231f20">E</text>
<line x1="657" y1="1444.5" x2="1223" y2="1444.5" stroke="#000" stroke-width="4.1"/>
<line x1="670.3" y1="1128.2" x2="670.3" y2="1447.1" stroke="#000" stroke-width="4.1"/>
<line x1="657" y1="1444.5" x2="670.3" y2="1444.5" stroke="#000" stroke-width="4.1"/>
<text transform="translate(651.7 1453.2) scale(1 1.100)" font-size="23.1" text-anchor="end">0</text>
<line x1="657" y1="1381.6" x2="670.3" y2="1381.6" stroke="#000" stroke-width="4.1"/>
<text transform="translate(651.7 1390.4) scale(1 1.100)" font-size="23.1" text-anchor="end">20</text>
<line x1="657" y1="1318.8" x2="670.3" y2="1318.8" stroke="#000" stroke-width="4.1"/>
<text transform="translate(651.7 1327.5) scale(1 1.100)" font-size="23.1" text-anchor="end">40</text>
<line x1="657" y1="1255.9" x2="670.3" y2="1255.9" stroke="#000" stroke-width="4.1"/>
<text transform="translate(651.7 1264.7) scale(1 1.100)" font-size="23.1" text-anchor="end">60</text>
<line x1="657" y1="1193.1" x2="670.3" y2="1193.1" stroke="#000" stroke-width="4.1"/>
<text transform="translate(651.7 1201.8) scale(1 1.100)" font-size="23.1" text-anchor="end">80</text>
<line x1="657" y1="1130.2" x2="670.3" y2="1130.2" stroke="#000" stroke-width="4.1"/>
<text transform="translate(651.7 1138.9) scale(1 1.100)" font-size="23.1" text-anchor="end">100</text>
<line x1="708.2" y1="1444.5" x2="708.2" y2="1462" stroke="#000" stroke-width="4.1"/>
<line x1="804.5" y1="1444.5" x2="804.5" y2="1462" stroke="#000" stroke-width="4.1"/>
<line x1="900" y1="1444.5" x2="900" y2="1462" stroke="#000" stroke-width="4.1"/>
<line x1="1000.7" y1="1444.5" x2="1000.7" y2="1462" stroke="#000" stroke-width="4.1"/>
<line x1="1087.3" y1="1444.5" x2="1087.3" y2="1462" stroke="#000" stroke-width="4.1"/>
<line x1="1183.4" y1="1444.5" x2="1183.4" y2="1462" stroke="#000" stroke-width="4.1"/>
<text transform="translate(699.5 1484) scale(1 1.080)" font-size="26.1" text-anchor="middle">Unknown</text>
<text transform="translate(806.3 1484) scale(1 1.080)" font-size="26.1" text-anchor="middle">KRAS</text>
<text transform="translate(897.7 1484) scale(1 1.080)" font-size="26.1" text-anchor="middle">EGFR</text>
<text transform="translate(993.6 1484) scale(1 1.080)" font-size="26.1" text-anchor="middle">MET</text>
<text transform="translate(1088.2 1484) scale(1 1.080)" font-size="26.1" text-anchor="middle">PIK3CA</text>
<text transform="translate(1184.3 1484) scale(1 1.080)" font-size="26.1" text-anchor="middle">BRAF</text>
<text transform="translate(699.7 1511.6) scale(1 1.080)" font-size="26.1" text-anchor="middle">driver</text>
<text transform="translate(581 1288) rotate(-90) scale(1 1.080)" font-size="25.4" text-anchor="middle">Proportion of myeloid cells</text>
<text transform="translate(613 1288) rotate(-90) scale(1 1.080)" font-size="25.4" text-anchor="middle">(% of total)</text>
<g fill="#000">
<circle cx="695.4" cy="1422.3" r="6.3"/>
<circle cx="693.9" cy="1417.6" r="6.3"/>
<circle cx="694.5" cy="1413.2" r="6.3"/>
<circle cx="694.6" cy="1407.4" r="6.3"/>
<circle cx="694.6" cy="1404.1" r="6.3"/>
<circle cx="692.6" cy="1399.9" r="6.3"/>
<circle cx="693.3" cy="1396.4" r="6.3"/>
<circle cx="696.8" cy="1393" r="6.3"/>
<circle cx="690.2" cy="1388.6" r="6.3"/>
<circle cx="691.1" cy="1386.9" r="6.3"/>
<circle cx="691.7" cy="1385.7" r="6.3"/>
<circle cx="689.8" cy="1385.1" r="6.3"/>
<circle cx="690.3" cy="1383.6" r="6.3"/>
<circle cx="694.5" cy="1383.2" r="6.3"/>
<circle cx="696" cy="1382.5" r="6.3"/>
<circle cx="690.2" cy="1381.2" r="6.3"/>
<circle cx="697.9" cy="1378.5" r="6.3"/>
<circle cx="694.8" cy="1378.1" r="6.3"/>
<circle cx="694.6" cy="1328.8" r="6.3"/>
<circle cx="692.6" cy="1343" r="6.3"/>
<circle cx="696.6" cy="1346.1" r="6.3"/>
<circle cx="694.6" cy="1366.9" r="6.3"/>
<circle cx="694.6" cy="1372.5" r="6.3"/>
</g>
<g fill="none" stroke="#231f20" stroke-width="2.4">
<circle cx="723.8" cy="1413" r="6.4"/>
<circle cx="723.5" cy="1411.2" r="6.4"/>
<circle cx="722.3" cy="1408.5" r="6.4"/>
<circle cx="726.4" cy="1406.3" r="6.4"/>
<circle cx="728.5" cy="1403.3" r="6.4"/>
<circle cx="721.5" cy="1401.3" r="6.4"/>
<circle cx="727.3" cy="1399" r="6.4"/>
<circle cx="722.9" cy="1399.4" r="6.4"/>
<circle cx="721.2" cy="1397.8" r="6.4"/>
<circle cx="720" cy="1397.1" r="6.4"/>
<circle cx="721" cy="1395.2" r="6.4"/>
<circle cx="727.2" cy="1393.2" r="6.4"/>
<circle cx="721.6" cy="1392.1" r="6.4"/>
<circle cx="724.4" cy="1318.5" r="6.4"/>
<circle cx="724.4" cy="1326.3" r="6.4"/>
<circle cx="724.4" cy="1368.4" r="6.4"/>
<circle cx="724.4" cy="1385.1" r="6.4"/>
<circle cx="729.4" cy="1418.1" r="6.4"/>
<circle cx="724.4" cy="1433.2" r="6.4"/>
</g>
<g fill="#6461ac">
<circle cx="791.3" cy="1412" r="6.3"/>
<circle cx="792" cy="1408.1" r="6.3"/>
<circle cx="790.3" cy="1406.5" r="6.3"/>
<circle cx="790.4" cy="1403.7" r="6.3"/>
<circle cx="788.2" cy="1401.1" r="6.3"/>
<circle cx="787.9" cy="1398.7" r="6.3"/>
<circle cx="793.6" cy="1397.1" r="6.3"/>
<circle cx="788.7" cy="1395" r="6.3"/>
<circle cx="794" cy="1393.7" r="6.3"/>
<circle cx="787.5" cy="1392.3" r="6.3"/>
<circle cx="793.4" cy="1391.1" r="6.3"/>
<circle cx="791.8" cy="1388.8" r="6.3"/>
<circle cx="792.2" cy="1387.7" r="6.3"/>
<circle cx="788.9" cy="1385.5" r="6.3"/>
<circle cx="789.5" cy="1384" r="6.3"/>
<circle cx="790.4" cy="1382.4" r="6.3"/>
<circle cx="789.4" cy="1379.1" r="6.3"/>
<circle cx="791.1" cy="1362.8" r="6.3"/>
<circle cx="787.1" cy="1369.1" r="6.3"/>
<circle cx="795.1" cy="1372.2" r="6.3"/>
<circle cx="791.1" cy="1426.3" r="6.3"/>
</g>
<g fill="none" stroke="#6461ac" stroke-width="2.4">
<circle cx="820.2" cy="1428.1" r="6.4"/>
<circle cx="821.2" cy="1425.8" r="6.4"/>
<circle cx="825.1" cy="1423.4" r="6.4"/>
<circle cx="820.4" cy="1422.5" r="6.4"/>
<circle cx="820.8" cy="1420.7" r="6.4"/>
<circle cx="819.6" cy="1419.2" r="6.4"/>
<circle cx="823" cy="1417.5" r="6.4"/>
<circle cx="820.7" cy="1416" r="6.4"/>
<circle cx="822.9" cy="1414.2" r="6.4"/>
<circle cx="819.5" cy="1412.2" r="6.4"/>
<circle cx="817.4" cy="1410.1" r="6.4"/>
<circle cx="822.9" cy="1409" r="6.4"/>
<circle cx="820.4" cy="1407.9" r="6.4"/>
<circle cx="823.7" cy="1406.4" r="6.4"/>
<circle cx="818.4" cy="1404.6" r="6.4"/>
<circle cx="823.3" cy="1403.6" r="6.4"/>
<circle cx="821.4" cy="1402.5" r="6.4"/>
<circle cx="822.5" cy="1400.1" r="6.4"/>
<circle cx="821.6" cy="1399" r="6.4"/>
<circle cx="825.4" cy="1398.3" r="6.4"/>
<circle cx="826.7" cy="1397" r="6.4"/>
<circle cx="824.5" cy="1395.6" r="6.4"/>
<circle cx="822" cy="1393.1" r="6.4"/>
<circle cx="818.1" cy="1392.9" r="6.4"/>
<circle cx="818.7" cy="1390.9" r="6.4"/>
<circle cx="817" cy="1389.1" r="6.4"/>
<circle cx="821.6" cy="1389" r="6.4"/>
<circle cx="824.4" cy="1387.2" r="6.4"/>
<circle cx="817.2" cy="1385.8" r="6.4"/>
<circle cx="816.7" cy="1384.4" r="6.4"/>
<circle cx="821.7" cy="1384.6" r="6.4"/>
<circle cx="825.5" cy="1383.6" r="6.4"/>
<circle cx="817.4" cy="1382.6" r="6.4"/>
<circle cx="823.1" cy="1381.7" r="6.4"/>
<circle cx="818.8" cy="1379.6" r="6.4"/>
<circle cx="817.1" cy="1378.1" r="6.4"/>
<circle cx="818.8" cy="1377.2" r="6.4"/>
<circle cx="819.4" cy="1376.3" r="6.4"/>
<circle cx="823.8" cy="1373.9" r="6.4"/>
<circle cx="822.6" cy="1372.3" r="6.4"/>
<circle cx="824.4" cy="1370.7" r="6.4"/>
<circle cx="819.2" cy="1369.5" r="6.4"/>
<circle cx="823.7" cy="1367.1" r="6.4"/>
<circle cx="818.5" cy="1365.6" r="6.4"/>
<circle cx="821.5" cy="1363.8" r="6.4"/>
<circle cx="822.5" cy="1362" r="6.4"/>
<circle cx="821.2" cy="1360.5" r="6.4"/>
<circle cx="823.8" cy="1358.3" r="6.4"/>
<circle cx="823.3" cy="1355.8" r="6.4"/>
<circle cx="820.9" cy="1354" r="6.4"/>
<circle cx="818.5" cy="1352.4" r="6.4"/>
<circle cx="820.7" cy="1349.7" r="6.4"/>
<circle cx="822.9" cy="1347.5" r="6.4"/>
<circle cx="824.5" cy="1346.4" r="6.4"/>
<circle cx="824.2" cy="1344.1" r="6.4"/>
<circle cx="820.9" cy="1341.8" r="6.4"/>
<circle cx="821.6" cy="1339.8" r="6.4"/>
<circle cx="822.4" cy="1336.6" r="6.4"/>
<circle cx="821.5" cy="1196.2" r="6.4"/>
<circle cx="821.5" cy="1282.3" r="6.4"/>
<circle cx="821.5" cy="1309.4" r="6.4"/>
<circle cx="821.5" cy="1325.1" r="6.4"/>
</g>
<g fill="#f27e9b">
<circle cx="885.9" cy="1372.2" r="6.3"/>
<circle cx="880.9" cy="1378.5" r="6.3"/>
<circle cx="884.9" cy="1384.8" r="6.3"/>
<circle cx="883.9" cy="1389.8" r="6.3"/>
<circle cx="881.9" cy="1396.1" r="6.3"/>
<circle cx="886.9" cy="1402.4" r="6.3"/>
<circle cx="883.9" cy="1408.7" r="6.3"/>
<circle cx="887.9" cy="1413.1" r="6.3"/>
<circle cx="879.9" cy="1420" r="6.3"/>
<circle cx="885.9" cy="1394.5" r="6.3"/>
<circle cx="881.9" cy="1405.2" r="6.3"/>
</g>
<g fill="none" stroke="#f27e9b" stroke-width="2.4">
<circle cx="914.4" cy="1358.7" r="6.4"/>
<circle cx="909.4" cy="1365" r="6.4"/>
<circle cx="919.4" cy="1365" r="6.4"/>
<circle cx="909.4" cy="1377.2" r="6.4"/>
<circle cx="919.4" cy="1384.8" r="6.4"/>
<circle cx="911.4" cy="1389.8" r="6.4"/>
<circle cx="917.4" cy="1400.5" r="6.4"/>
<circle cx="914.4" cy="1406.8" r="6.4"/>
<circle cx="919.4" cy="1415" r="6.4"/>
<circle cx="909.4" cy="1419" r="6.4"/>
<circle cx="911.4" cy="1424.4" r="6.4"/>
<circle cx="918.4" cy="1429.4" r="6.4"/>
<circle cx="916.4" cy="1372.2" r="6.4"/>
<circle cx="912.4" cy="1395.8" r="6.4"/>
<circle cx="918.4" cy="1409.9" r="6.4"/>
<circle cx="910.4" cy="1412.1" r="6.4"/>
<circle cx="914.4" cy="1421.9" r="6.4"/>
<circle cx="915.4" cy="1380.7" r="6.4"/>
</g>
<g fill="#f8a13b">
<circle cx="985" cy="1328.2" r="6.3"/>
<circle cx="988" cy="1375.4" r="6.3"/>
<circle cx="981" cy="1387.9" r="6.3"/>
<circle cx="987" cy="1392" r="6.3"/>
<circle cx="985" cy="1403.6" r="6.3"/>
<circle cx="985" cy="1421.2" r="6.3"/>
</g>
<g fill="none" stroke="#f8a13b" stroke-width="2.4">
<circle cx="1015" cy="1315.6" r="6.4"/>
<circle cx="1015" cy="1378.5" r="6.4"/>
</g>
<g fill="#2f9ca9">
<circle cx="1073.6" cy="1317.8" r="6.3"/>
<circle cx="1073.6" cy="1349.3" r="6.3"/>
<circle cx="1073.6" cy="1366.9" r="6.3"/>
<circle cx="1073.6" cy="1439.2" r="6.3"/>
</g>
<g fill="none" stroke="#2f9ca9" stroke-width="2.4">
<circle cx="1107.8" cy="1361.8" r="6.4"/>
<circle cx="1099.8" cy="1370" r="6.4"/>
<circle cx="1107.8" cy="1392" r="6.4"/>
<circle cx="1099.8" cy="1397.4" r="6.4"/>
</g>
<g fill="#e5593a">
<circle cx="1170" cy="1222.6" r="6.3"/>
<circle cx="1170" cy="1336.7" r="6.3"/>
</g>
<g fill="none" stroke="#e5593a" stroke-width="2.4">
<circle cx="1200.2" cy="1408.7" r="6.4"/>
</g>
<line x1="682.1" y1="1387.3" x2="707.1" y2="1387.3" stroke="#000" stroke-width="4.1"/>
<line x1="711.9" y1="1399.6" x2="736.9" y2="1399.6" stroke="#000" stroke-width="4.1"/>
<line x1="778.6" y1="1393" x2="803.6" y2="1393" stroke="#000" stroke-width="4.1"/>
<line x1="809" y1="1385.1" x2="834" y2="1385.1" stroke="#000" stroke-width="4.1"/>
<line x1="871.4" y1="1401.8" x2="896.4" y2="1401.8" stroke="#000" stroke-width="4.1"/>
<line x1="901.9" y1="1399.6" x2="926.9" y2="1399.6" stroke="#000" stroke-width="4.1"/>
<line x1="972.5" y1="1389.8" x2="997.5" y2="1389.8" stroke="#000" stroke-width="4.1"/>
<line x1="1002.5" y1="1347.1" x2="1027.5" y2="1347.1" stroke="#000" stroke-width="4.1"/>
<line x1="1061.1" y1="1358.1" x2="1086.1" y2="1358.1" stroke="#000" stroke-width="4.1"/>
<line x1="1091.3" y1="1381" x2="1116.3" y2="1381" stroke="#000" stroke-width="4.1"/>
<line x1="1157.5" y1="1279.5" x2="1182.5" y2="1279.5" stroke="#000" stroke-width="4.1"/>
<line x1="1187.7" y1="1408.7" x2="1212.7" y2="1408.7" stroke="#000" stroke-width="4.1"/>
<path d="M791.1 1343.9 V1158.6 H821.8 V1176.7" fill="none" stroke="#000" stroke-width="4.2" stroke-linejoin="miter" stroke-linecap="round"/>
<text transform="translate(806.5 1151.6) scale(1 1.100)" font-size="25.4" text-anchor="middle">0.0499</text>
<line x1="1351.5" y1="1444.3" x2="1915.7" y2="1444.3" stroke="#000" stroke-width="4.1"/>
<line x1="1365.6" y1="1127.5" x2="1365.6" y2="1446.9" stroke="#000" stroke-width="4.1"/>
<line x1="1351.5" y1="1444.3" x2="1365.6" y2="1444.3" stroke="#000" stroke-width="4.1"/>
<text transform="translate(1346 1453) scale(1 1.100)" font-size="23.1" text-anchor="end">0</text>
<line x1="1351.5" y1="1365.6" x2="1365.6" y2="1365.6" stroke="#000" stroke-width="4.1"/>
<text transform="translate(1346 1374.3) scale(1 1.100)" font-size="23.1" text-anchor="end">20</text>
<line x1="1351.5" y1="1286.9" x2="1365.6" y2="1286.9" stroke="#000" stroke-width="4.1"/>
<text transform="translate(1346 1295.6) scale(1 1.100)" font-size="23.1" text-anchor="end">40</text>
<line x1="1351.5" y1="1208.2" x2="1365.6" y2="1208.2" stroke="#000" stroke-width="4.1"/>
<text transform="translate(1346 1216.9) scale(1 1.100)" font-size="23.1" text-anchor="end">60</text>
<line x1="1351.5" y1="1129.5" x2="1365.6" y2="1129.5" stroke="#000" stroke-width="4.1"/>
<text transform="translate(1346 1138.2) scale(1 1.100)" font-size="23.1" text-anchor="end">80</text>
<line x1="1400.6" y1="1444.3" x2="1400.6" y2="1461.8" stroke="#000" stroke-width="4.1"/>
<line x1="1497.2" y1="1444.3" x2="1497.2" y2="1461.8" stroke="#000" stroke-width="4.1"/>
<line x1="1593" y1="1444.3" x2="1593" y2="1461.8" stroke="#000" stroke-width="4.1"/>
<line x1="1694.4" y1="1444.3" x2="1694.4" y2="1461.8" stroke="#000" stroke-width="4.1"/>
<line x1="1779.7" y1="1444.3" x2="1779.7" y2="1461.8" stroke="#000" stroke-width="4.1"/>
<line x1="1876.3" y1="1444.3" x2="1876.3" y2="1461.8" stroke="#000" stroke-width="4.1"/>
<text transform="translate(1393 1483.6) scale(1 1.080)" font-size="26.1" text-anchor="middle">Unknown</text>
<text transform="translate(1498.6 1483.6) scale(1 1.080)" font-size="26.1" text-anchor="middle">KRAS</text>
<text transform="translate(1591.1 1483.6) scale(1 1.080)" font-size="26.1" text-anchor="middle">EGFR</text>
<text transform="translate(1686.3 1483.6) scale(1 1.080)" font-size="26.1" text-anchor="middle">MET</text>
<text transform="translate(1780.5 1483.6) scale(1 1.080)" font-size="26.1" text-anchor="middle">PIK3CA</text>
<text transform="translate(1877 1483.6) scale(1 1.080)" font-size="26.1" text-anchor="middle">BRAF</text>
<text transform="translate(1393.4 1511.4) scale(1 1.080)" font-size="26.1" text-anchor="middle">driver</text>
<text transform="translate(1277 1288.6) rotate(-90) scale(1 1.080)" font-size="25.4" text-anchor="middle">Proportion of lymphoid cells</text>
<text transform="translate(1309 1288.6) rotate(-90) scale(1 1.080)" font-size="25.4" text-anchor="middle">(% of total)</text>
<g fill="#000">
<circle cx="1385.5" cy="1235" r="6.3"/>
<circle cx="1391.5" cy="1238.9" r="6.3"/>
<circle cx="1388.5" cy="1289.7" r="6.3"/>
<circle cx="1391.5" cy="1323.5" r="6.3"/>
<circle cx="1383.5" cy="1331.8" r="6.3"/>
<circle cx="1393.5" cy="1331.8" r="6.3"/>
<circle cx="1388.5" cy="1344.7" r="6.3"/>
<circle cx="1383.5" cy="1369.9" r="6.3"/>
<circle cx="1393.5" cy="1373.9" r="6.3"/>
<circle cx="1388.5" cy="1388" r="6.3"/>
<circle cx="1383.5" cy="1399.8" r="6.3"/>
<circle cx="1393.5" cy="1399.8" r="6.3"/>
<circle cx="1388.5" cy="1410.1" r="6.3"/>
<circle cx="1384.5" cy="1420.3" r="6.3"/>
<circle cx="1392.5" cy="1420.3" r="6.3"/>
<circle cx="1393.5" cy="1434.1" r="6.3"/>
<circle cx="1383.5" cy="1440.4" r="6.3"/>
<circle cx="1388.5" cy="1428.6" r="6.3"/>
</g>
<g fill="none" stroke="#231f20" stroke-width="2.4">
<circle cx="1418.7" cy="1217.6" r="6.4"/>
<circle cx="1418.7" cy="1266" r="6.4"/>
<circle cx="1418.7" cy="1331.8" r="6.4"/>
<circle cx="1412.7" cy="1344.7" r="6.4"/>
<circle cx="1424.7" cy="1344.7" r="6.4"/>
<circle cx="1418.7" cy="1353.8" r="6.4"/>
<circle cx="1413.7" cy="1363.6" r="6.4"/>
<circle cx="1423.7" cy="1363.6" r="6.4"/>
<circle cx="1418.7" cy="1379.8" r="6.4"/>
<circle cx="1412.7" cy="1395.9" r="6.4"/>
<circle cx="1424.7" cy="1395.9" r="6.4"/>
<circle cx="1418.7" cy="1405.3" r="6.4"/>
<circle cx="1418.7" cy="1426.2" r="6.4"/>
<circle cx="1414.7" cy="1438.4" r="6.4"/>
<circle cx="1422.7" cy="1438.4" r="6.4"/>
<circle cx="1418.7" cy="1348.7" r="6.4"/>
<circle cx="1418.7" cy="1393.1" r="6.4"/>
</g>
<g fill="#6461ac">
<circle cx="1481" cy="1296.3" r="6.3"/>
<circle cx="1481" cy="1305.4" r="6.3"/>
<circle cx="1481" cy="1329.4" r="6.3"/>
<circle cx="1481" cy="1345.9" r="6.3"/>
<circle cx="1479" cy="1355.8" r="6.3"/>
<circle cx="1483" cy="1361.7" r="6.3"/>
<circle cx="1477" cy="1375.8" r="6.3"/>
<circle cx="1485" cy="1375.8" r="6.3"/>
<circle cx="1481" cy="1369.5" r="6.3"/>
<circle cx="1481" cy="1397.9" r="6.3"/>
<circle cx="1476" cy="1412" r="6.3"/>
<circle cx="1486" cy="1414" r="6.3"/>
<circle cx="1481" cy="1351.8" r="6.3"/>
</g>
<g fill="none" stroke="#6461ac" stroke-width="2.4">
<circle cx="1512.7" cy="1435.8" r="6.4"/>
<circle cx="1513.1" cy="1434.5" r="6.4"/>
<circle cx="1511.5" cy="1431.2" r="6.4"/>
<circle cx="1511.1" cy="1429" r="6.4"/>
<circle cx="1513.5" cy="1425.8" r="6.4"/>
<circle cx="1511" cy="1424.7" r="6.4"/>
<circle cx="1510.4" cy="1422.5" r="6.4"/>
<circle cx="1508.5" cy="1420.2" r="6.4"/>
<circle cx="1514.5" cy="1418.5" r="6.4"/>
<circle cx="1509.2" cy="1415.5" r="6.4"/>
<circle cx="1510.5" cy="1413.6" r="6.4"/>
<circle cx="1508.7" cy="1412" r="6.4"/>
<circle cx="1517.6" cy="1411.3" r="6.4"/>
<circle cx="1514.2" cy="1407.7" r="6.4"/>
<circle cx="1512.3" cy="1406.7" r="6.4"/>
<circle cx="1514.6" cy="1404.7" r="6.4"/>
<circle cx="1511.3" cy="1403" r="6.4"/>
<circle cx="1508" cy="1401.2" r="6.4"/>
<circle cx="1512.9" cy="1398.7" r="6.4"/>
<circle cx="1515.4" cy="1398.1" r="6.4"/>
<circle cx="1508.7" cy="1396.6" r="6.4"/>
<circle cx="1513.8" cy="1393.2" r="6.4"/>
<circle cx="1517.4" cy="1392.9" r="6.4"/>
<circle cx="1514.9" cy="1391.1" r="6.4"/>
<circle cx="1514" cy="1389.1" r="6.4"/>
<circle cx="1517.6" cy="1386.5" r="6.4"/>
<circle cx="1515.6" cy="1385.8" r="6.4"/>
<circle cx="1510.5" cy="1384.8" r="6.4"/>
<circle cx="1507.9" cy="1382.6" r="6.4"/>
<circle cx="1507" cy="1381.5" r="6.4"/>
<circle cx="1510.4" cy="1380.8" r="6.4"/>
<circle cx="1508.1" cy="1377.8" r="6.4"/>
<circle cx="1509.1" cy="1376.5" r="6.4"/>
<circle cx="1508.1" cy="1375.8" r="6.4"/>
<circle cx="1511" cy="1373.7" r="6.4"/>
<circle cx="1511.8" cy="1370.3" r="6.4"/>
<circle cx="1509.8" cy="1368.6" r="6.4"/>
<circle cx="1510.4" cy="1366.8" r="6.4"/>
<circle cx="1508" cy="1364.2" r="6.4"/>
<circle cx="1513.7" cy="1361" r="6.4"/>
<circle cx="1512" cy="1359.8" r="6.4"/>
<circle cx="1514.7" cy="1356.5" r="6.4"/>
<circle cx="1510.4" cy="1354.9" r="6.4"/>
<circle cx="1512.2" cy="1351.3" r="6.4"/>
<circle cx="1508.8" cy="1348.9" r="6.4"/>
<circle cx="1514.3" cy="1345.8" r="6.4"/>
<circle cx="1514" cy="1342.7" r="6.4"/>
<circle cx="1512.5" cy="1339.7" r="6.4"/>
<circle cx="1513.2" cy="1335.7" r="6.4"/>
<circle cx="1513.1" cy="1333.5" r="6.4"/>
<circle cx="1510.2" cy="1331" r="6.4"/>
<circle cx="1510.9" cy="1326.2" r="6.4"/>
<circle cx="1513.3" cy="1322.8" r="6.4"/>
<circle cx="1511.3" cy="1319.6" r="6.4"/>
<circle cx="1509.8" cy="1317.2" r="6.4"/>
<circle cx="1513.7" cy="1313.7" r="6.4"/>
<circle cx="1513" cy="1309.4" r="6.4"/>
<circle cx="1510.8" cy="1307.2" r="6.4"/>
<circle cx="1512" cy="1180.7" r="6.4"/>
<circle cx="1512" cy="1216.9" r="6.4"/>
<circle cx="1512" cy="1265.3" r="6.4"/>
<circle cx="1512" cy="1275.9" r="6.4"/>
<circle cx="1512" cy="1295.6" r="6.4"/>
</g>
<g fill="#f27e9b">
<circle cx="1574.7" cy="1322.7" r="6.3"/>
<circle cx="1582.7" cy="1333.7" r="6.3"/>
<circle cx="1577.7" cy="1345.9" r="6.3"/>
<circle cx="1573.7" cy="1384.1" r="6.3"/>
<circle cx="1581.7" cy="1384.1" r="6.3"/>
<circle cx="1577.7" cy="1402.2" r="6.3"/>
<circle cx="1572.7" cy="1412" r="6.3"/>
<circle cx="1582.7" cy="1412" r="6.3"/>
<circle cx="1577.7" cy="1416.8" r="6.3"/>
</g>
<g fill="none" stroke="#f27e9b" stroke-width="2.4">
<circle cx="1608.7" cy="1235.7" r="6.4"/>
<circle cx="1608.7" cy="1273.1" r="6.4"/>
<circle cx="1604.7" cy="1311.3" r="6.4"/>
<circle cx="1612.7" cy="1311.3" r="6.4"/>
<circle cx="1612.7" cy="1327.4" r="6.4"/>
<circle cx="1608.7" cy="1334.1" r="6.4"/>
<circle cx="1603.7" cy="1338.1" r="6.4"/>
<circle cx="1603.7" cy="1345.9" r="6.4"/>
<circle cx="1613.7" cy="1345.9" r="6.4"/>
<circle cx="1608.7" cy="1355.8" r="6.4"/>
<circle cx="1603.7" cy="1365.6" r="6.4"/>
<circle cx="1613.7" cy="1365.6" r="6.4"/>
<circle cx="1608.7" cy="1388" r="6.4"/>
<circle cx="1613.7" cy="1393.9" r="6.4"/>
<circle cx="1603.7" cy="1404.2" r="6.4"/>
<circle cx="1613.7" cy="1414" r="6.4"/>
<circle cx="1608.7" cy="1430.1" r="6.4"/>
<circle cx="1606.7" cy="1416.8" r="6.4"/>
</g>
<g fill="#f8a13b">
<circle cx="1678.3" cy="1300.3" r="6.3"/>
<circle cx="1678.3" cy="1343.6" r="6.3"/>
<circle cx="1674.3" cy="1377.8" r="6.3"/>
<circle cx="1682.3" cy="1384.9" r="6.3"/>
<circle cx="1678.3" cy="1412" r="6.3"/>
<circle cx="1683.3" cy="1417.1" r="6.3"/>
<circle cx="1673.3" cy="1422.3" r="6.3"/>
</g>
<g fill="none" stroke="#f8a13b" stroke-width="2.4">
<circle cx="1708.5" cy="1402.2" r="6.4"/>
<circle cx="1708.5" cy="1414" r="6.4"/>
</g>
<g fill="#2f9ca9">
<circle cx="1763.6" cy="1313.7" r="6.3"/>
<circle cx="1763.6" cy="1328.6" r="6.3"/>
<circle cx="1763.6" cy="1422.3" r="6.3"/>
<circle cx="1763.6" cy="1439.2" r="6.3"/>
</g>
<g fill="none" stroke="#2f9ca9" stroke-width="2.4">
<circle cx="1794.2" cy="1227.1" r="6.4"/>
<circle cx="1794.2" cy="1305.4" r="6.4"/>
<circle cx="1799.2" cy="1319.6" r="6.4"/>
<circle cx="1789.2" cy="1328.2" r="6.4"/>
</g>
<g fill="#e5593a">
<circle cx="1860.2" cy="1370.7" r="6.3"/>
<circle cx="1860.2" cy="1382.5" r="6.3"/>
</g>
<g fill="none" stroke="#e5593a" stroke-width="2.4">
<circle cx="1890.3" cy="1278.6" r="6.4"/>
</g>
<line x1="1376" y1="1375" x2="1401" y2="1375" stroke="#000" stroke-width="4.1"/>
<line x1="1406.2" y1="1364.8" x2="1431.2" y2="1364.8" stroke="#000" stroke-width="4.1"/>
<line x1="1468.5" y1="1369.9" x2="1493.5" y2="1369.9" stroke="#000" stroke-width="4.1"/>
<line x1="1499.5" y1="1381.3" x2="1524.5" y2="1381.3" stroke="#000" stroke-width="4.1"/>
<line x1="1565.2" y1="1386.8" x2="1590.2" y2="1386.8" stroke="#000" stroke-width="4.1"/>
<line x1="1596.2" y1="1351" x2="1621.2" y2="1351" stroke="#000" stroke-width="4.1"/>
<line x1="1665.8" y1="1384.9" x2="1690.8" y2="1384.9" stroke="#000" stroke-width="4.1"/>
<line x1="1696" y1="1407.7" x2="1721" y2="1407.7" stroke="#000" stroke-width="4.1"/>
<line x1="1751.1" y1="1375.4" x2="1776.1" y2="1375.4" stroke="#000" stroke-width="4.1"/>
<line x1="1781.7" y1="1312.9" x2="1806.7" y2="1312.9" stroke="#000" stroke-width="4.1"/>
<line x1="1847.7" y1="1377" x2="1872.7" y2="1377" stroke="#000" stroke-width="4.1"/>
<line x1="1877.8" y1="1278.6" x2="1902.8" y2="1278.6" stroke="#000" stroke-width="4.1"/>
<path d="M1418 1198.6 V1117.4 H1794.2 V1130.2" fill="none" stroke="#000" stroke-width="4.2" stroke-linejoin="miter" stroke-linecap="round"/>
<text transform="translate(1575.7 1112.6) scale(1 1.100)" font-size="25.4" text-anchor="middle">0.0185</text>
<path d="M1763.6 1275.1 V1167.7 H1794.2 V1212.7" fill="none" stroke="#000" stroke-width="4.2" stroke-linejoin="miter" stroke-linecap="round"/>
<text transform="translate(1778.9 1161.7) scale(1 1.100)" font-size="25.4" text-anchor="middle">0.0326</text>
<circle cx="1910.9" cy="1117.4" r="6.1" fill="#231f20"/>
<text transform="translate(1923 1124.6) scale(1 1.100)" font-size="20.8">Male</text>
<circle cx="1910.9" cy="1148.4" r="5.7" fill="none" stroke="#000" stroke-width="2.3"/>
<text transform="translate(1923 1156) scale(1 1.100)" font-size="20.8" textLength="74.8" lengthAdjust="spacing">Female</text>
<line x1="657" y1="1882" x2="1223" y2="1882" stroke="#000" stroke-width="4.1"/>
<line x1="670.3" y1="1565.8" x2="670.3" y2="1884.6" stroke="#000" stroke-width="4.1"/>
<line x1="657" y1="1882" x2="670.3" y2="1882" stroke="#000" stroke-width="4.1"/>
<text transform="translate(651.7 1890.7) scale(1 1.100)" font-size="23.1" text-anchor="end">0</text>
<line x1="657" y1="1819.2" x2="670.3" y2="1819.2" stroke="#000" stroke-width="4.1"/>
<text transform="translate(651.7 1827.9) scale(1 1.100)" font-size="23.1" text-anchor="end">20</text>
<line x1="657" y1="1756.3" x2="670.3" y2="1756.3" stroke="#000" stroke-width="4.1"/>
<text transform="translate(651.7 1765.1) scale(1 1.100)" font-size="23.1" text-anchor="end">40</text>
<line x1="657" y1="1693.5" x2="670.3" y2="1693.5" stroke="#000" stroke-width="4.1"/>
<text transform="translate(651.7 1702.2) scale(1 1.100)" font-size="23.1" text-anchor="end">60</text>
<line x1="657" y1="1630.6" x2="670.3" y2="1630.6" stroke="#000" stroke-width="4.1"/>
<text transform="translate(651.7 1639.4) scale(1 1.100)" font-size="23.1" text-anchor="end">80</text>
<line x1="657" y1="1567.8" x2="670.3" y2="1567.8" stroke="#000" stroke-width="4.1"/>
<text transform="translate(651.7 1576.5) scale(1 1.100)" font-size="23.1" text-anchor="end">100</text>
<line x1="708.2" y1="1882" x2="708.2" y2="1899.5" stroke="#000" stroke-width="4.1"/>
<line x1="804.5" y1="1882" x2="804.5" y2="1899.5" stroke="#000" stroke-width="4.1"/>
<line x1="900" y1="1882" x2="900" y2="1899.5" stroke="#000" stroke-width="4.1"/>
<line x1="1000.7" y1="1882" x2="1000.7" y2="1899.5" stroke="#000" stroke-width="4.1"/>
<line x1="1087.3" y1="1882" x2="1087.3" y2="1899.5" stroke="#000" stroke-width="4.1"/>
<line x1="1183.4" y1="1882" x2="1183.4" y2="1899.5" stroke="#000" stroke-width="4.1"/>
<text transform="translate(699.5 1921.3) scale(1 1.080)" font-size="26.1" text-anchor="middle">Unknown</text>
<text transform="translate(806.3 1921.3) scale(1 1.080)" font-size="26.1" text-anchor="middle">KRAS</text>
<text transform="translate(897.7 1921.3) scale(1 1.080)" font-size="26.1" text-anchor="middle">EGFR</text>
<text transform="translate(993.6 1921.3) scale(1 1.080)" font-size="26.1" text-anchor="middle">MET</text>
<text transform="translate(1088.2 1921.3) scale(1 1.080)" font-size="26.1" text-anchor="middle">PIK3CA</text>
<text transform="translate(1184.3 1921.3) scale(1 1.080)" font-size="26.1" text-anchor="middle">BRAF</text>
<text transform="translate(699.7 1948.9) scale(1 1.080)" font-size="26.1" text-anchor="middle">driver</text>
<text transform="translate(581 1723) rotate(-90) scale(1 1.080)" font-size="25.4" text-anchor="middle">Propportion of cancer cells</text>
<text transform="translate(613 1723) rotate(-90) scale(1 1.080)" font-size="25.4" text-anchor="middle">(% of total)</text>
<g fill="#000">
<circle cx="698.6" cy="1600.2" r="6.3"/>
<circle cx="689.6" cy="1615.2" r="6.3"/>
<circle cx="699.6" cy="1615.2" r="6.3"/>
<circle cx="699.6" cy="1651.7" r="6.3"/>
<circle cx="694.6" cy="1659.9" r="6.3"/>
<circle cx="689.6" cy="1665.2" r="6.3"/>
<circle cx="699.6" cy="1674.9" r="6.3"/>
<circle cx="689.6" cy="1676.2" r="6.3"/>
<circle cx="694.6" cy="1684.1" r="6.3"/>
<circle cx="694.6" cy="1716.7" r="6.3"/>
<circle cx="698.6" cy="1730.9" r="6.3"/>
<circle cx="689.6" cy="1740.9" r="6.3"/>
<circle cx="699.6" cy="1742.8" r="6.3"/>
<circle cx="694.6" cy="1751" r="6.3"/>
<circle cx="694.6" cy="1772" r="6.3"/>
<circle cx="689.6" cy="1783.3" r="6.3"/>
<circle cx="694.6" cy="1792.5" r="6.3"/>
<circle cx="694.6" cy="1818.8" r="6.3"/>
<circle cx="699.6" cy="1842.4" r="6.3"/>
<circle cx="689.6" cy="1846.2" r="6.3"/>
<circle cx="699.6" cy="1855.6" r="6.3"/>
<circle cx="689.6" cy="1861.6" r="6.3"/>
<circle cx="691.6" cy="1734.3" r="6.3"/>
</g>
<g fill="none" stroke="#231f20" stroke-width="2.4">
<circle cx="724.4" cy="1626.6" r="6.4"/>
<circle cx="724.4" cy="1632.8" r="6.4"/>
<circle cx="724.4" cy="1650.4" r="6.4"/>
<circle cx="721.4" cy="1679.3" r="6.4"/>
<circle cx="727.4" cy="1679.3" r="6.4"/>
<circle cx="724.4" cy="1705.7" r="6.4"/>
<circle cx="720.4" cy="1714.5" r="6.4"/>
<circle cx="728.4" cy="1714.5" r="6.4"/>
<circle cx="724.4" cy="1718.6" r="6.4"/>
<circle cx="724.4" cy="1726.8" r="6.4"/>
<circle cx="724.4" cy="1740.9" r="6.4"/>
<circle cx="724.4" cy="1746.3" r="6.4"/>
<circle cx="728.4" cy="1767.9" r="6.4"/>
<circle cx="720.4" cy="1774.5" r="6.4"/>
<circle cx="724.4" cy="1819.2" r="6.4"/>
<circle cx="724.4" cy="1831.4" r="6.4"/>
</g>
<g fill="#6461ac">
<circle cx="790.6" cy="1775.3" r="6.3"/>
<circle cx="791.9" cy="1770.4" r="6.3"/>
<circle cx="788.6" cy="1765.5" r="6.3"/>
<circle cx="792.7" cy="1763" r="6.3"/>
<circle cx="787.4" cy="1759.2" r="6.3"/>
<circle cx="787" cy="1754.5" r="6.3"/>
<circle cx="791.6" cy="1751.5" r="6.3"/>
<circle cx="791.8" cy="1748.4" r="6.3"/>
<circle cx="788.7" cy="1745.9" r="6.3"/>
<circle cx="789.4" cy="1744.1" r="6.3"/>
<circle cx="788.8" cy="1741.9" r="6.3"/>
<circle cx="790.7" cy="1737.5" r="6.3"/>
<circle cx="792.1" cy="1733.4" r="6.3"/>
<circle cx="792.3" cy="1730.4" r="6.3"/>
<circle cx="788.1" cy="1726.6" r="6.3"/>
<circle cx="789.5" cy="1723.4" r="6.3"/>
<circle cx="791.1" cy="1624.7" r="6.3"/>
<circle cx="791.1" cy="1650.4" r="6.3"/>
<circle cx="791.1" cy="1672.4" r="6.3"/>
<circle cx="787.1" cy="1683.4" r="6.3"/>
<circle cx="795.1" cy="1683.4" r="6.3"/>
<circle cx="791.1" cy="1692.2" r="6.3"/>
<circle cx="791.1" cy="1704.5" r="6.3"/>
<circle cx="791.1" cy="1711.4" r="6.3"/>
<circle cx="791.1" cy="1787.7" r="6.3"/>
<circle cx="791.1" cy="1796.5" r="6.3"/>
</g>
<g fill="none" stroke="#6461ac" stroke-width="2.4">
<circle cx="821" cy="1840.3" r="6.4"/>
<circle cx="821.3" cy="1837.4" r="6.4"/>
<circle cx="820.4" cy="1831.3" r="6.4"/>
<circle cx="823.8" cy="1829.1" r="6.4"/>
<circle cx="822.2" cy="1824.8" r="6.4"/>
<circle cx="820.1" cy="1820.1" r="6.4"/>
<circle cx="819.4" cy="1817.8" r="6.4"/>
<circle cx="823.2" cy="1814" r="6.4"/>
<circle cx="819.7" cy="1811.4" r="6.4"/>
<circle cx="821.4" cy="1806.2" r="6.4"/>
<circle cx="821.5" cy="1802.9" r="6.4"/>
<circle cx="822.1" cy="1801.6" r="6.4"/>
<circle cx="818.8" cy="1798.5" r="6.4"/>
<circle cx="821" cy="1794.5" r="6.4"/>
<circle cx="823.7" cy="1791.3" r="6.4"/>
<circle cx="819.8" cy="1787.6" r="6.4"/>
<circle cx="824.3" cy="1785.5" r="6.4"/>
<circle cx="820.1" cy="1781.9" r="6.4"/>
<circle cx="818.7" cy="1779.9" r="6.4"/>
<circle cx="823.8" cy="1776.8" r="6.4"/>
<circle cx="818.1" cy="1774.2" r="6.4"/>
<circle cx="821.7" cy="1770.1" r="6.4"/>
<circle cx="824.2" cy="1767.2" r="6.4"/>
<circle cx="817.2" cy="1764.2" r="6.4"/>
<circle cx="822.4" cy="1760.5" r="6.4"/>
<circle cx="826" cy="1759.1" r="6.4"/>
<circle cx="820" cy="1757.3" r="6.4"/>
<circle cx="827.3" cy="1756" r="6.4"/>
<circle cx="820.6" cy="1753.4" r="6.4"/>
<circle cx="824.3" cy="1753.4" r="6.4"/>
<circle cx="815.8" cy="1751.6" r="6.4"/>
<circle cx="823.7" cy="1749.4" r="6.4"/>
<circle cx="818.5" cy="1746.8" r="6.4"/>
<circle cx="816.8" cy="1745.6" r="6.4"/>
<circle cx="826.8" cy="1743.6" r="6.4"/>
<circle cx="818.7" cy="1739.9" r="6.4"/>
<circle cx="816.5" cy="1737.9" r="6.4"/>
<circle cx="825.6" cy="1735.4" r="6.4"/>
<circle cx="820.5" cy="1734.1" r="6.4"/>
<circle cx="818.1" cy="1730.9" r="6.4"/>
<circle cx="824.2" cy="1728.5" r="6.4"/>
<circle cx="820.3" cy="1725.1" r="6.4"/>
<circle cx="823.9" cy="1720.9" r="6.4"/>
<circle cx="822.3" cy="1717.8" r="6.4"/>
<circle cx="822.8" cy="1715.2" r="6.4"/>
<circle cx="819.3" cy="1713.2" r="6.4"/>
<circle cx="824.3" cy="1709.7" r="6.4"/>
<circle cx="820.8" cy="1705.8" r="6.4"/>
<circle cx="821.4" cy="1703.9" r="6.4"/>
<circle cx="821.1" cy="1700.5" r="6.4"/>
<circle cx="822.3" cy="1696.4" r="6.4"/>
<circle cx="819.8" cy="1694" r="6.4"/>
<circle cx="821.5" cy="1617.4" r="6.4"/>
<circle cx="821.5" cy="1630.3" r="6.4"/>
<circle cx="821.5" cy="1637.6" r="6.4"/>
<circle cx="821.5" cy="1645.7" r="6.4"/>
<circle cx="821.5" cy="1658" r="6.4"/>
<circle cx="821.5" cy="1671.2" r="6.4"/>
<circle cx="821.5" cy="1856.5" r="6.4"/>
<circle cx="821.5" cy="1868.5" r="6.4"/>
</g>
<g fill="#f27e9b">
<circle cx="888.9" cy="1685.3" r="6.3"/>
<circle cx="878.9" cy="1687.5" r="6.3"/>
<circle cx="883.9" cy="1692.2" r="6.3"/>
<circle cx="883.9" cy="1710.4" r="6.3"/>
<circle cx="883.9" cy="1718.6" r="6.3"/>
<circle cx="883.9" cy="1728.7" r="6.3"/>
<circle cx="879.9" cy="1760.4" r="6.3"/>
<circle cx="887.9" cy="1760.4" r="6.3"/>
<circle cx="883.9" cy="1762.6" r="6.3"/>
</g>
<g fill="none" stroke="#f27e9b" stroke-width="2.4">
<circle cx="914.4" cy="1617.4" r="6.4"/>
<circle cx="914.4" cy="1647.3" r="6.4"/>
<circle cx="910.4" cy="1668" r="6.4"/>
<circle cx="919.4" cy="1679.3" r="6.4"/>
<circle cx="914.4" cy="1687.2" r="6.4"/>
<circle cx="919.4" cy="1697.6" r="6.4"/>
<circle cx="911.4" cy="1700.4" r="6.4"/>
<circle cx="909.4" cy="1709.8" r="6.4"/>
<circle cx="919.4" cy="1718.6" r="6.4"/>
<circle cx="914.4" cy="1728.7" r="6.4"/>
<circle cx="914.4" cy="1767.3" r="6.4"/>
<circle cx="911.4" cy="1786.8" r="6.4"/>
<circle cx="906.4" cy="1790.9" r="6.4"/>
<circle cx="922.4" cy="1790.9" r="6.4"/>
<circle cx="914.4" cy="1807.8" r="6.4"/>
<circle cx="914.4" cy="1824.8" r="6.4"/>
<circle cx="918.4" cy="1840.2" r="6.4"/>
<circle cx="910.4" cy="1847.4" r="6.4"/>
</g>
<g fill="#f8a13b">
<circle cx="985" cy="1637.9" r="6.3"/>
<circle cx="985" cy="1714.5" r="6.3"/>
<circle cx="981" cy="1739" r="6.3"/>
<circle cx="989" cy="1739" r="6.3"/>
<circle cx="985" cy="1746.9" r="6.3"/>
<circle cx="985" cy="1754.4" r="6.3"/>
<circle cx="985" cy="1824.8" r="6.3"/>
</g>
<g fill="none" stroke="#f8a13b" stroke-width="2.4">
<circle cx="1010" cy="1767.9" r="6.4"/>
<circle cx="1020" cy="1767.9" r="6.4"/>
</g>
<g fill="#2f9ca9">
<circle cx="1073.6" cy="1584.1" r="6.3"/>
<circle cx="1073.6" cy="1756" r="6.3"/>
<circle cx="1073.6" cy="1810.4" r="6.3"/>
<circle cx="1073.6" cy="1831.4" r="6.3"/>
</g>
<g fill="none" stroke="#2f9ca9" stroke-width="2.4">
<circle cx="1103.8" cy="1779.6" r="6.4"/>
<circle cx="1103.8" cy="1799.7" r="6.4"/>
<circle cx="1107.8" cy="1831.4" r="6.4"/>
<circle cx="1098.8" cy="1834.2" r="6.4"/>
</g>
<g fill="#e5593a">
<circle cx="1170" cy="1753.2" r="6.3"/>
<circle cx="1170" cy="1857.8" r="6.3"/>
</g>
<g fill="none" stroke="#e5593a" stroke-width="2.4">
<circle cx="1200.2" cy="1805" r="6.4"/>
</g>
<line x1="682.1" y1="1733.7" x2="707.1" y2="1733.7" stroke="#000" stroke-width="4.1"/>
<line x1="711.9" y1="1716.7" x2="736.9" y2="1716.7" stroke="#000" stroke-width="4.1"/>
<line x1="778.6" y1="1746.3" x2="803.6" y2="1746.3" stroke="#000" stroke-width="4.1"/>
<line x1="809" y1="1757.3" x2="834" y2="1757.3" stroke="#000" stroke-width="4.1"/>
<line x1="871.4" y1="1711.7" x2="896.4" y2="1711.7" stroke="#000" stroke-width="4.1"/>
<line x1="901.9" y1="1724.3" x2="926.9" y2="1724.3" stroke="#000" stroke-width="4.1"/>
<line x1="972.5" y1="1740.6" x2="997.5" y2="1740.6" stroke="#000" stroke-width="4.1"/>
<line x1="1002.5" y1="1769.2" x2="1027.5" y2="1769.2" stroke="#000" stroke-width="4.1"/>
<line x1="1061.1" y1="1783.3" x2="1086.1" y2="1783.3" stroke="#000" stroke-width="4.1"/>
<line x1="1091.3" y1="1816" x2="1116.3" y2="1816" stroke="#000" stroke-width="4.1"/>
<line x1="1157.5" y1="1805.6" x2="1182.5" y2="1805.6" stroke="#000" stroke-width="4.1"/>
<line x1="1187.7" y1="1805" x2="1212.7" y2="1805" stroke="#000" stroke-width="4.1"/>
<path d="M721.2 1557.6 V1545 H1104.2 V1760.3" fill="none" stroke="#000" stroke-width="4.2" stroke-linejoin="miter" stroke-linecap="round"/>
<text transform="translate(882.5 1538.6) scale(1 1.100)" font-size="25.4" text-anchor="middle">0.0068</text>
<path d="M721.2 1606.3 V1592 H818 V1604.2" fill="none" stroke="#000" stroke-width="4.2" stroke-linejoin="miter" stroke-linecap="round"/>
<text transform="translate(761.7 1585.2) scale(1 1.100)" font-size="25.4" text-anchor="middle">0.0344</text>
<line x1="1349.4" y1="1882" x2="1915" y2="1882" stroke="#000" stroke-width="4.1"/>
<line x1="1363.6" y1="1565.8" x2="1363.6" y2="1884.6" stroke="#000" stroke-width="4.1"/>
<line x1="1349.4" y1="1882" x2="1363.6" y2="1882" stroke="#000" stroke-width="4.1"/>
<text transform="translate(1345.2 1890.7) scale(1 1.100)" font-size="23.1" text-anchor="end">0</text>
<line x1="1349.4" y1="1777.3" x2="1363.6" y2="1777.3" stroke="#000" stroke-width="4.1"/>
<text transform="translate(1345.2 1786) scale(1 1.100)" font-size="23.1" text-anchor="end">10</text>
<line x1="1349.4" y1="1672.5" x2="1363.6" y2="1672.5" stroke="#000" stroke-width="4.1"/>
<text transform="translate(1345.2 1681.3) scale(1 1.100)" font-size="23.1" text-anchor="end">20</text>
<line x1="1349.4" y1="1567.8" x2="1363.6" y2="1567.8" stroke="#000" stroke-width="4.1"/>
<text transform="translate(1345.2 1576.5) scale(1 1.100)" font-size="23.1" text-anchor="end">30</text>
<line x1="1401" y1="1882" x2="1401" y2="1899.5" stroke="#000" stroke-width="4.1"/>
<line x1="1496.2" y1="1882" x2="1496.2" y2="1899.5" stroke="#000" stroke-width="4.1"/>
<line x1="1592.7" y1="1882" x2="1592.7" y2="1899.5" stroke="#000" stroke-width="4.1"/>
<line x1="1694" y1="1882" x2="1694" y2="1899.5" stroke="#000" stroke-width="4.1"/>
<line x1="1780" y1="1882" x2="1780" y2="1899.5" stroke="#000" stroke-width="4.1"/>
<line x1="1876.4" y1="1882" x2="1876.4" y2="1899.5" stroke="#000" stroke-width="4.1"/>
<text transform="translate(1393 1921.3) scale(1 1.080)" font-size="26.1" text-anchor="middle">Unknown</text>
<text transform="translate(1499 1921.3) scale(1 1.080)" font-size="26.1" text-anchor="middle">KRAS</text>
<text transform="translate(1591.2 1921.3) scale(1 1.080)" font-size="26.1" text-anchor="middle">EGFR</text>
<text transform="translate(1686.3 1921.3) scale(1 1.080)" font-size="26.1" text-anchor="middle">MET</text>
<text transform="translate(1781.1 1921.3) scale(1 1.080)" font-size="26.1" text-anchor="middle">PIK3CA</text>
<text transform="translate(1876.8 1921.3) scale(1 1.080)" font-size="26.1" text-anchor="middle">BRAF</text>
<text transform="translate(1393 1948.9) scale(1 1.080)" font-size="26.1" text-anchor="middle">driver</text>
<text transform="translate(1275.5 1726) rotate(-90) scale(1 1.080)" font-size="25.4" text-anchor="middle">Proportion of endothelial cells</text>
<text transform="translate(1308 1726) rotate(-90) scale(1 1.080)" font-size="25.4" text-anchor="middle">(% of total)</text>
<g fill="#000">
<circle cx="1386.7" cy="1630.6" r="6.3"/>
<circle cx="1386.7" cy="1685.1" r="6.3"/>
<circle cx="1386.7" cy="1737.5" r="6.3"/>
<circle cx="1386.7" cy="1754.2" r="6.3"/>
<circle cx="1386.7" cy="1765.7" r="6.3"/>
<circle cx="1389.7" cy="1774.1" r="6.3"/>
<circle cx="1383.7" cy="1783.6" r="6.3"/>
<circle cx="1381.7" cy="1791.9" r="6.3"/>
<circle cx="1391.7" cy="1791.9" r="6.3"/>
<circle cx="1382.7" cy="1803.5" r="6.3"/>
<circle cx="1390.7" cy="1803.5" r="6.3"/>
<circle cx="1386.7" cy="1809.7" r="6.3"/>
<circle cx="1386.7" cy="1831.7" r="6.3"/>
<circle cx="1381.7" cy="1851.6" r="6.3"/>
<circle cx="1391.7" cy="1851.6" r="6.3"/>
<circle cx="1386.7" cy="1867.3" r="6.3"/>
<circle cx="1386.7" cy="1778.3" r="6.3"/>
<circle cx="1388.7" cy="1817.1" r="6.3"/>
<circle cx="1384.7" cy="1848.5" r="6.3"/>
</g>
<g fill="none" stroke="#231f20" stroke-width="2.4">
<circle cx="1417.5" cy="1783.6" r="6.4"/>
<circle cx="1413.5" cy="1796.1" r="6.4"/>
<circle cx="1421.5" cy="1796.1" r="6.4"/>
<circle cx="1417.5" cy="1816" r="6.4"/>
<circle cx="1412.5" cy="1824.4" r="6.4"/>
<circle cx="1422.5" cy="1824.4" r="6.4"/>
<circle cx="1417.5" cy="1831.7" r="6.4"/>
<circle cx="1412.5" cy="1840.1" r="6.4"/>
<circle cx="1422.5" cy="1840.1" r="6.4"/>
<circle cx="1413.5" cy="1851.6" r="6.4"/>
<circle cx="1421.5" cy="1851.6" r="6.4"/>
<circle cx="1417.5" cy="1856.9" r="6.4"/>
<circle cx="1412.5" cy="1866.3" r="6.4"/>
<circle cx="1422.5" cy="1866.3" r="6.4"/>
<circle cx="1417.5" cy="1829.6" r="6.4"/>
<circle cx="1417.5" cy="1846.4" r="6.4"/>
</g>
<g fill="#6461ac">
<circle cx="1484.8" cy="1848.4" r="6.3"/>
<circle cx="1481.8" cy="1843.7" r="6.3"/>
<circle cx="1485.9" cy="1841.5" r="6.3"/>
<circle cx="1484.6" cy="1835.8" r="6.3"/>
<circle cx="1485.1" cy="1832.9" r="6.3"/>
<circle cx="1479.1" cy="1829.4" r="6.3"/>
<circle cx="1481.2" cy="1828.1" r="6.3"/>
<circle cx="1484.7" cy="1825.3" r="6.3"/>
<circle cx="1487.3" cy="1822.7" r="6.3"/>
<circle cx="1485.6" cy="1820.5" r="6.3"/>
<circle cx="1481.8" cy="1819.2" r="6.3"/>
<circle cx="1488.9" cy="1815.5" r="6.3"/>
<circle cx="1484.3" cy="1813.8" r="6.3"/>
<circle cx="1483.1" cy="1810" r="6.3"/>
<circle cx="1480.6" cy="1807.2" r="6.3"/>
<circle cx="1480.5" cy="1805" r="6.3"/>
<circle cx="1485.3" cy="1802.2" r="6.3"/>
<circle cx="1483.2" cy="1798.3" r="6.3"/>
<circle cx="1484" cy="1736.4" r="6.3"/>
<circle cx="1484" cy="1772" r="6.3"/>
<circle cx="1488" cy="1779.4" r="6.3"/>
<circle cx="1484" cy="1790.9" r="6.3"/>
<circle cx="1484" cy="1854.8" r="6.3"/>
</g>
<g fill="none" stroke="#6461ac" stroke-width="2.4">
<circle cx="1514.1" cy="1864.6" r="6.4"/>
<circle cx="1516.7" cy="1861.8" r="6.4"/>
<circle cx="1511.2" cy="1859.4" r="6.4"/>
<circle cx="1510.5" cy="1858.8" r="6.4"/>
<circle cx="1514" cy="1856.9" r="6.4"/>
<circle cx="1514.8" cy="1855.6" r="6.4"/>
<circle cx="1517.8" cy="1853.5" r="6.4"/>
<circle cx="1510.6" cy="1852.1" r="6.4"/>
<circle cx="1518.2" cy="1850.8" r="6.4"/>
<circle cx="1512.9" cy="1848.8" r="6.4"/>
<circle cx="1510.2" cy="1847.8" r="6.4"/>
<circle cx="1510.6" cy="1847" r="6.4"/>
<circle cx="1513.3" cy="1845.6" r="6.4"/>
<circle cx="1513.4" cy="1843.9" r="6.4"/>
<circle cx="1509.3" cy="1842.4" r="6.4"/>
<circle cx="1513.7" cy="1841.9" r="6.4"/>
<circle cx="1510.6" cy="1839.7" r="6.4"/>
<circle cx="1515.4" cy="1838.9" r="6.4"/>
<circle cx="1513.6" cy="1837.1" r="6.4"/>
<circle cx="1511.5" cy="1837" r="6.4"/>
<circle cx="1512.2" cy="1835.3" r="6.4"/>
<circle cx="1517" cy="1834.6" r="6.4"/>
<circle cx="1510.9" cy="1832.7" r="6.4"/>
<circle cx="1514.3" cy="1831.7" r="6.4"/>
<circle cx="1519.7" cy="1830.4" r="6.4"/>
<circle cx="1514.7" cy="1829.3" r="6.4"/>
<circle cx="1512.3" cy="1827.1" r="6.4"/>
<circle cx="1511" cy="1826.3" r="6.4"/>
<circle cx="1509.1" cy="1825.9" r="6.4"/>
<circle cx="1514.3" cy="1824.5" r="6.4"/>
<circle cx="1516.5" cy="1823.5" r="6.4"/>
<circle cx="1519.5" cy="1820.6" r="6.4"/>
<circle cx="1512" cy="1818.8" r="6.4"/>
<circle cx="1516.7" cy="1817.4" r="6.4"/>
<circle cx="1513.2" cy="1816" r="6.4"/>
<circle cx="1516.5" cy="1812.5" r="6.4"/>
<circle cx="1514.8" cy="1811.4" r="6.4"/>
<circle cx="1517.1" cy="1809.3" r="6.4"/>
<circle cx="1515.3" cy="1806.3" r="6.4"/>
<circle cx="1512.7" cy="1803.8" r="6.4"/>
<circle cx="1513.1" cy="1800.4" r="6.4"/>
<circle cx="1512.3" cy="1798.8" r="6.4"/>
<circle cx="1513.3" cy="1796.2" r="6.4"/>
<circle cx="1514" cy="1792.8" r="6.4"/>
<circle cx="1516.3" cy="1790.6" r="6.4"/>
<circle cx="1515.8" cy="1786.6" r="6.4"/>
<circle cx="1516.3" cy="1783.9" r="6.4"/>
<circle cx="1515.4" cy="1780.2" r="6.4"/>
<circle cx="1514.1" cy="1777" r="6.4"/>
<circle cx="1513.5" cy="1775" r="6.4"/>
<circle cx="1513.6" cy="1770.9" r="6.4"/>
<circle cx="1513.7" cy="1768.1" r="6.4"/>
<circle cx="1515.6" cy="1764.1" r="6.4"/>
<circle cx="1515.1" cy="1762.1" r="6.4"/>
<circle cx="1515.2" cy="1758.1" r="6.4"/>
<circle cx="1514.4" cy="1661" r="6.4"/>
<circle cx="1514.4" cy="1666.2" r="6.4"/>
<circle cx="1514.4" cy="1696.6" r="6.4"/>
<circle cx="1514.4" cy="1729.1" r="6.4"/>
<circle cx="1514.4" cy="1743.8" r="6.4"/>
<circle cx="1514.4" cy="1751.1" r="6.4"/>
<circle cx="1514.4" cy="1875.7" r="6.4"/>
</g>
<g fill="#f27e9b">
<circle cx="1581.3" cy="1793" r="6.3"/>
<circle cx="1573.3" cy="1797.2" r="6.3"/>
<circle cx="1574.3" cy="1818.1" r="6.3"/>
<circle cx="1577.3" cy="1822.3" r="6.3"/>
<circle cx="1577.3" cy="1831.7" r="6.3"/>
<circle cx="1581.3" cy="1843.2" r="6.3"/>
<circle cx="1573.3" cy="1844.3" r="6.3"/>
<circle cx="1577.3" cy="1840.1" r="6.3"/>
</g>
<g fill="none" stroke="#f27e9b" stroke-width="2.4">
<circle cx="1606.8" cy="1708.1" r="6.4"/>
<circle cx="1606.8" cy="1722.8" r="6.4"/>
<circle cx="1606.8" cy="1787.7" r="6.4"/>
<circle cx="1606.8" cy="1799.3" r="6.4"/>
<circle cx="1602.8" cy="1808.7" r="6.4"/>
<circle cx="1610.8" cy="1808.7" r="6.4"/>
<circle cx="1606.8" cy="1826.5" r="6.4"/>
<circle cx="1599.8" cy="1829.6" r="6.4"/>
<circle cx="1613.8" cy="1829.6" r="6.4"/>
<circle cx="1606.8" cy="1840.1" r="6.4"/>
<circle cx="1600.8" cy="1848.5" r="6.4"/>
<circle cx="1612.8" cy="1848.5" r="6.4"/>
<circle cx="1601.8" cy="1856.9" r="6.4"/>
<circle cx="1611.8" cy="1856.9" r="6.4"/>
<circle cx="1606.8" cy="1833.8" r="6.4"/>
</g>
<g fill="#f8a13b">
<circle cx="1677" cy="1756.3" r="6.3"/>
<circle cx="1677" cy="1772" r="6.3"/>
<circle cx="1677" cy="1796.1" r="6.3"/>
<circle cx="1677" cy="1828.6" r="6.3"/>
<circle cx="1674" cy="1848.5" r="6.3"/>
<circle cx="1684" cy="1850.6" r="6.3"/>
<circle cx="1672" cy="1859" r="6.3"/>
</g>
<g fill="none" stroke="#f8a13b" stroke-width="2.4">
<circle cx="1707.4" cy="1807.6" r="6.4"/>
<circle cx="1707.4" cy="1846.4" r="6.4"/>
</g>
<g fill="#2f9ca9">
<circle cx="1771" cy="1806.6" r="6.3"/>
<circle cx="1761" cy="1819.2" r="6.3"/>
<circle cx="1766" cy="1842.2" r="6.3"/>
<circle cx="1766" cy="1867.3" r="6.3"/>
</g>
<g fill="none" stroke="#2f9ca9" stroke-width="2.4">
<circle cx="1797.4" cy="1710.2" r="6.4"/>
<circle cx="1792.4" cy="1791.9" r="6.4"/>
<circle cx="1801.4" cy="1802.4" r="6.4"/>
<circle cx="1797.4" cy="1846.4" r="6.4"/>
</g>
<g fill="#e5593a">
<circle cx="1859" cy="1842.2" r="6.3"/>
<circle cx="1859" cy="1854.8" r="6.3"/>
</g>
<g fill="none" stroke="#e5593a" stroke-width="2.4">
<circle cx="1888.5" cy="1741.7" r="6.4"/>
</g>
<line x1="1374.2" y1="1803.5" x2="1399.2" y2="1803.5" stroke="#000" stroke-width="4.1"/>
<line x1="1405" y1="1831.7" x2="1430" y2="1831.7" stroke="#000" stroke-width="4.1"/>
<line x1="1471.5" y1="1820.2" x2="1496.5" y2="1820.2" stroke="#000" stroke-width="4.1"/>
<line x1="1501.9" y1="1826.5" x2="1526.9" y2="1826.5" stroke="#000" stroke-width="4.1"/>
<line x1="1564.8" y1="1821.3" x2="1589.8" y2="1821.3" stroke="#000" stroke-width="4.1"/>
<line x1="1594.3" y1="1830.7" x2="1619.3" y2="1830.7" stroke="#000" stroke-width="4.1"/>
<line x1="1664.5" y1="1828.6" x2="1689.5" y2="1828.6" stroke="#000" stroke-width="4.1"/>
<line x1="1694.9" y1="1826.5" x2="1719.9" y2="1826.5" stroke="#000" stroke-width="4.1"/>
<line x1="1753.5" y1="1830.7" x2="1778.5" y2="1830.7" stroke="#000" stroke-width="4.1"/>
<line x1="1784.9" y1="1798.2" x2="1809.9" y2="1798.2" stroke="#000" stroke-width="4.1"/>
<line x1="1846.5" y1="1848.5" x2="1871.5" y2="1848.5" stroke="#000" stroke-width="4.1"/>
<line x1="1876" y1="1741.7" x2="1901" y2="1741.7" stroke="#000" stroke-width="4.1"/>
<path d="M1386.7 1610.3 V1596.2 H1410.7 V1738.9" fill="none" stroke="#000" stroke-width="4.2" stroke-linejoin="miter" stroke-linecap="round"/>
<text transform="translate(1406.4 1592.2) scale(1 1.100)" font-size="25.4" text-anchor="middle">0.0090</text>
<text x="4.5" y="2141" font-size="48" font-weight="bold" fill="#231f20">F</text>
<text transform="translate(76 2290) rotate(-90) scale(1 1.060)" font-size="25.6" text-anchor="middle">Proportion of cells (% of total)</text>
<line x1="130.5" y1="2449.7" x2="381.8" y2="2449.7" stroke="#000" stroke-width="3.7"/>
<line x1="145.1" y1="2131.2" x2="145.1" y2="2452.2" stroke="#000" stroke-width="3.8"/>
<line x1="130.5" y1="2449.7" x2="145.1" y2="2449.7" stroke="#000" stroke-width="3.7"/>
<text transform="translate(126.2 2458.8) scale(1 1.140)" font-size="23.1" text-anchor="end">0</text>
<line x1="130.5" y1="2386.4" x2="145.1" y2="2386.4" stroke="#000" stroke-width="3.7"/>
<text transform="translate(126.2 2395.4) scale(1 1.140)" font-size="23.1" text-anchor="end">20</text>
<line x1="130.5" y1="2323" x2="145.1" y2="2323" stroke="#000" stroke-width="3.7"/>
<text transform="translate(126.2 2332.1) scale(1 1.140)" font-size="23.1" text-anchor="end">40</text>
<line x1="130.5" y1="2259.7" x2="145.1" y2="2259.7" stroke="#000" stroke-width="3.7"/>
<text transform="translate(126.2 2268.7) scale(1 1.140)" font-size="23.1" text-anchor="end">60</text>
<line x1="130.5" y1="2196.3" x2="145.1" y2="2196.3" stroke="#000" stroke-width="3.7"/>
<text transform="translate(126.2 2205.4) scale(1 1.140)" font-size="23.1" text-anchor="end">80</text>
<line x1="130.5" y1="2133" x2="145.1" y2="2133" stroke="#000" stroke-width="3.7"/>
<text transform="translate(126.2 2142.1) scale(1 1.140)" font-size="23.1" text-anchor="end">100</text>
<text x="257.4" y="2483.2" font-size="28.1" text-anchor="middle">Cancer cells</text>
<g fill="#f27c94">
<circle cx="169.4" cy="2294.8" r="6.6"/>
<circle cx="193.8" cy="2294.8" r="6.6"/>
<circle cx="169.4" cy="2326.5" r="6.6"/>
<circle cx="169.4" cy="2357.9" r="6.6"/>
<circle cx="193.8" cy="2357.9" r="6.6"/>
<circle cx="181.6" cy="2375.3" r="6.6"/>
</g>
<g fill="#f9b5c4">
<circle cx="236.3" cy="2328.7" r="6.6"/>
<circle cx="236.3" cy="2392.7" r="6.6"/>
<circle cx="248.5" cy="2407.9" r="6.6"/>
<circle cx="224.1" cy="2414.9" r="6.6"/>
</g>
<g fill="#ed1c80">
<circle cx="291" cy="2212.8" r="6.6"/>
<circle cx="278.8" cy="2256.8" r="6.6"/>
<circle cx="303.2" cy="2254.6" r="6.6"/>
<circle cx="291" cy="2263.8" r="6.6"/>
<circle cx="303.2" cy="2267.6" r="6.6"/>
<circle cx="278.8" cy="2276.8" r="6.6"/>
<circle cx="303.2" cy="2279.9" r="6.6"/>
<circle cx="291" cy="2287.2" r="6.6"/>
<circle cx="291" cy="2353.7" r="6.6"/>
</g>
<g fill="#a94a70">
<circle cx="345.4" cy="2183.7" r="6.6"/>
<circle cx="345.4" cy="2234" r="6.6"/>
<circle cx="333.2" cy="2246.4" r="6.6"/>
<circle cx="357.6" cy="2250.8" r="6.6"/>
<circle cx="345.4" cy="2255.6" r="6.6"/>
<circle cx="345.4" cy="2275.8" r="6.6"/>
</g>
<line x1="163.3" y1="2334.7" x2="199.8" y2="2334.7" stroke="#000" stroke-width="3.6"/>
<line x1="218.1" y1="2385.4" x2="254.6" y2="2385.4" stroke="#000" stroke-width="3.6"/>
<line x1="272.8" y1="2272.7" x2="309.2" y2="2272.7" stroke="#000" stroke-width="3.6"/>
<line x1="327.1" y1="2240" x2="363.6" y2="2240" stroke="#000" stroke-width="3.6"/>
<line x1="181.2" y1="2084.7" x2="347.8" y2="2084.7" stroke="#000" stroke-width="2"/>
<text transform="translate(263.5 2080.3) scale(1 1.080)" font-size="23.8" text-anchor="middle">0.0012</text>
<line x1="237" y1="2113" x2="347.8" y2="2113" stroke="#000" stroke-width="2"/>
<text transform="translate(293 2109.1) scale(1 1.080)" font-size="23.8" text-anchor="middle">0.0095</text>
<line x1="290" y1="2142.7" x2="347.8" y2="2142.7" stroke="#000" stroke-width="2"/>
<text transform="translate(318 2138.3) scale(1 1.080)" font-size="23.8" text-anchor="middle">0.0496</text>
<line x1="181.2" y1="2166.2" x2="291" y2="2166.2" stroke="#000" stroke-width="2"/>
<text transform="translate(236.3 2161.3) scale(1 1.080)" font-size="23.8" text-anchor="middle">0.0021</text>
<line x1="236" y1="2198.2" x2="291" y2="2198.2" stroke="#000" stroke-width="2"/>
<text transform="translate(263.5 2193.3) scale(1 1.080)" font-size="23.8" text-anchor="middle">0.0056</text>
<line x1="417.5" y1="2449.7" x2="668.8" y2="2449.7" stroke="#000" stroke-width="3.7"/>
<line x1="432.5" y1="2131.2" x2="432.5" y2="2452.2" stroke="#000" stroke-width="3.8"/>
<line x1="417.5" y1="2449.7" x2="432.5" y2="2449.7" stroke="#000" stroke-width="3.7"/>
<text transform="translate(413.6 2458.8) scale(1 1.140)" font-size="23.1" text-anchor="end">0</text>
<line x1="417.5" y1="2386.4" x2="432.5" y2="2386.4" stroke="#000" stroke-width="3.7"/>
<text transform="translate(413.6 2395.4) scale(1 1.140)" font-size="23.1" text-anchor="end">2</text>
<line x1="417.5" y1="2323" x2="432.5" y2="2323" stroke="#000" stroke-width="3.7"/>
<text transform="translate(413.6 2332.1) scale(1 1.140)" font-size="23.1" text-anchor="end">4</text>
<line x1="417.5" y1="2259.7" x2="432.5" y2="2259.7" stroke="#000" stroke-width="3.7"/>
<text transform="translate(413.6 2268.7) scale(1 1.140)" font-size="23.1" text-anchor="end">6</text>
<line x1="417.5" y1="2196.3" x2="432.5" y2="2196.3" stroke="#000" stroke-width="3.7"/>
<text transform="translate(413.6 2205.4) scale(1 1.140)" font-size="23.1" text-anchor="end">8</text>
<line x1="417.5" y1="2133" x2="432.5" y2="2133" stroke="#000" stroke-width="3.7"/>
<text transform="translate(413.6 2142.1) scale(1 1.140)" font-size="23.1" text-anchor="end">10</text>
<text x="546.4" y="2483" font-size="28.1" text-anchor="middle">Classical monocytes</text>
<g fill="#f27c94">
<circle cx="479.6" cy="2316.7" r="6.6"/>
<circle cx="467.4" cy="2326.2" r="6.6"/>
<circle cx="467.4" cy="2364.2" r="6.6"/>
<circle cx="455.2" cy="2373.7" r="6.6"/>
<circle cx="479.6" cy="2375.3" r="6.6"/>
<circle cx="473.5" cy="2432.3" r="6.6"/>
<circle cx="461.3" cy="2440.2" r="6.6"/>
</g>
<g fill="#f9b5c4">
<circle cx="522" cy="2212.2" r="6.6"/>
<circle cx="522" cy="2228" r="6.6"/>
<circle cx="522" cy="2319.9" r="6.6"/>
<circle cx="522" cy="2408.5" r="6.6"/>
</g>
<g fill="#ed1c80">
<circle cx="578.8" cy="2414.9" r="6.6"/>
<circle cx="572.7" cy="2418" r="6.6"/>
<circle cx="576.8" cy="2429.4" r="6.6"/>
<circle cx="564.6" cy="2441.8" r="6.6"/>
<circle cx="589" cy="2440.2" r="6.6"/>
<circle cx="570.7" cy="2444.9" r="6.6"/>
<circle cx="582.9" cy="2444.9" r="6.6"/>
<circle cx="576.8" cy="2443.4" r="6.6"/>
<circle cx="591" cy="2446.5" r="6.6"/>
<circle cx="562.6" cy="2446.5" r="6.6"/>
</g>
<g fill="#a94a70">
<circle cx="631.5" cy="2414.9" r="6.6"/>
<circle cx="631.5" cy="2431.3" r="6.6"/>
<circle cx="643.7" cy="2434.2" r="6.6"/>
<circle cx="619.3" cy="2446.5" r="6.6"/>
<circle cx="631.5" cy="2446.5" r="6.6"/>
<circle cx="643.7" cy="2446.5" r="6.6"/>
</g>
<line x1="449.1" y1="2375.3" x2="485.6" y2="2375.3" stroke="#000" stroke-width="3.6"/>
<line x1="503.8" y1="2291.3" x2="540.2" y2="2291.3" stroke="#000" stroke-width="3.6"/>
<line x1="558.5" y1="2434.8" x2="595" y2="2434.8" stroke="#000" stroke-width="3.6"/>
<line x1="613.2" y1="2436.7" x2="649.8" y2="2436.7" stroke="#000" stroke-width="3.6"/>
<line x1="465" y1="2108.2" x2="631.5" y2="2108.2" stroke="#000" stroke-width="2"/>
<text transform="translate(547.2 2103.3) scale(1 1.080)" font-size="23.8" text-anchor="middle">0.0221</text>
<line x1="523" y1="2137.8" x2="633" y2="2137.8" stroke="#000" stroke-width="2"/>
<text transform="translate(579.6 2133.3) scale(1 1.080)" font-size="23.8" text-anchor="middle">0.0095</text>
<line x1="465" y1="2166.6" x2="575.6" y2="2166.6" stroke="#000" stroke-width="2"/>
<text transform="translate(521 2162.6) scale(1 1.080)" font-size="23.8" text-anchor="middle">0.0079</text>
<line x1="521" y1="2198.6" x2="575.6" y2="2198.6" stroke="#000" stroke-width="2"/>
<text transform="translate(548 2194.3) scale(1 1.080)" font-size="23.8" text-anchor="middle">0.0028</text>
<line x1="700.8" y1="2449.7" x2="952" y2="2449.7" stroke="#000" stroke-width="3.7"/>
<line x1="715" y1="2131.2" x2="715" y2="2452.2" stroke="#000" stroke-width="3.8"/>
<line x1="700.8" y1="2449.7" x2="715" y2="2449.7" stroke="#000" stroke-width="3.7"/>
<text transform="translate(697.4 2458.8) scale(1 1.140)" font-size="23.1" text-anchor="end">0</text>
<line x1="700.8" y1="2370.5" x2="715" y2="2370.5" stroke="#000" stroke-width="3.7"/>
<text transform="translate(697.4 2379.6) scale(1 1.140)" font-size="23.1" text-anchor="end">1</text>
<line x1="700.8" y1="2291.3" x2="715" y2="2291.3" stroke="#000" stroke-width="3.7"/>
<text transform="translate(697.4 2300.4) scale(1 1.140)" font-size="23.1" text-anchor="end">2</text>
<line x1="700.8" y1="2212.2" x2="715" y2="2212.2" stroke="#000" stroke-width="3.7"/>
<text transform="translate(697.4 2221.2) scale(1 1.140)" font-size="23.1" text-anchor="end">3</text>
<line x1="700.8" y1="2133" x2="715" y2="2133" stroke="#000" stroke-width="3.7"/>
<text transform="translate(697.4 2142.1) scale(1 1.140)" font-size="23.1" text-anchor="end">4</text>
<text x="831.3" y="2481" font-size="28.1" text-anchor="middle">Regulatory T cells</text>
<g fill="#f27c94">
<circle cx="752.3" cy="2261.3" r="6.6"/>
<circle cx="752.3" cy="2349.9" r="6.6"/>
<circle cx="752.3" cy="2364.2" r="6.6"/>
<circle cx="748.2" cy="2437.8" r="6.6"/>
<circle cx="756.4" cy="2438.6" r="6.6"/>
<circle cx="740.1" cy="2440.2" r="6.6"/>
<circle cx="764.5" cy="2439.4" r="6.6"/>
</g>
<g fill="#f9b5c4">
<circle cx="807" cy="2197.9" r="6.6"/>
<circle cx="807" cy="2215.3" r="6.6"/>
<circle cx="819.2" cy="2335.7" r="6.6"/>
<circle cx="794.8" cy="2342" r="6.6"/>
</g>
<g fill="#ed1c80">
<circle cx="861.7" cy="2236.7" r="6.6"/>
<circle cx="861.7" cy="2293.7" r="6.6"/>
<circle cx="856.4" cy="2365" r="6.6"/>
<circle cx="867.8" cy="2367.4" r="6.6"/>
<circle cx="849.5" cy="2368.9" r="6.6"/>
<circle cx="873.9" cy="2373.7" r="6.6"/>
<circle cx="861.7" cy="2376.9" r="6.6"/>
<circle cx="861.7" cy="2398.2" r="6.6"/>
<circle cx="861.7" cy="2429.1" r="6.6"/>
</g>
<g fill="#a94a70">
<circle cx="916.4" cy="2365" r="6.6"/>
<circle cx="916.4" cy="2411.7" r="6.6"/>
<circle cx="904.2" cy="2418" r="6.6"/>
<circle cx="928.6" cy="2421.2" r="6.6"/>
<circle cx="916.4" cy="2428.3" r="6.6"/>
<circle cx="916.4" cy="2441.8" r="6.6"/>
</g>
<line x1="734" y1="2390.3" x2="770.5" y2="2390.3" stroke="#000" stroke-width="3.6"/>
<line x1="788.8" y1="2272.3" x2="825.2" y2="2272.3" stroke="#000" stroke-width="3.6"/>
<line x1="843.5" y1="2356.3" x2="880" y2="2356.3" stroke="#000" stroke-width="3.6"/>
<line x1="898.1" y1="2414.1" x2="934.6" y2="2414.1" stroke="#000" stroke-width="3.6"/>
<line x1="805.4" y1="2127.7" x2="917.3" y2="2127.7" stroke="#000" stroke-width="2"/>
<text transform="translate(861 2124.1) scale(1 1.080)" font-size="23.8" text-anchor="middle">0.0095</text>
<line x1="807" y1="2157.3" x2="862" y2="2157.3" stroke="#000" stroke-width="2"/>
<text transform="translate(833.8 2153.3) scale(1 1.080)" font-size="23.8" text-anchor="middle">0.0336</text>
<line x1="750.7" y1="2185.2" x2="806.2" y2="2185.2" stroke="#000" stroke-width="2"/>
<text transform="translate(779.8 2180.9) scale(1 1.080)" font-size="23.8" text-anchor="middle">0.0242</text>
<line x1="992.7" y1="2449.7" x2="1244.8" y2="2449.7" stroke="#000" stroke-width="3.7"/>
<line x1="1006.8" y1="2131.2" x2="1006.8" y2="2452.2" stroke="#000" stroke-width="3.8"/>
<line x1="992.7" y1="2449.7" x2="1006.8" y2="2449.7" stroke="#000" stroke-width="3.7"/>
<text transform="translate(989.2 2458.8) scale(1 1.140)" font-size="23.1" text-anchor="end">0</text>
<line x1="992.7" y1="2370.5" x2="1006.8" y2="2370.5" stroke="#000" stroke-width="3.7"/>
<text transform="translate(989.2 2379.6) scale(1 1.140)" font-size="23.1" text-anchor="end">2</text>
<line x1="992.7" y1="2291.3" x2="1006.8" y2="2291.3" stroke="#000" stroke-width="3.7"/>
<text transform="translate(989.2 2300.4) scale(1 1.140)" font-size="23.1" text-anchor="end">4</text>
<line x1="992.7" y1="2212.2" x2="1006.8" y2="2212.2" stroke="#000" stroke-width="3.7"/>
<text transform="translate(989.2 2221.2) scale(1 1.140)" font-size="23.1" text-anchor="end">6</text>
<line x1="992.7" y1="2133" x2="1006.8" y2="2133" stroke="#000" stroke-width="3.7"/>
<text transform="translate(989.2 2142.1) scale(1 1.140)" font-size="23.1" text-anchor="end">8</text>
<text x="1125.6" y="2481" font-size="28.1" text-anchor="middle">CD163<tspan font-size="16.5" dy="-10">+</tspan><tspan dy="10"> macrophages</tspan></text>
<g fill="#f27c94">
<circle cx="1031.1" cy="2199.5" r="6.6"/>
<circle cx="1055.5" cy="2208.2" r="6.6"/>
<circle cx="1043.3" cy="2281.5" r="6.6"/>
<circle cx="1031.1" cy="2327.4" r="6.6"/>
<circle cx="1055.5" cy="2325.8" r="6.6"/>
<circle cx="1043.3" cy="2374.9" r="6.6"/>
<circle cx="1043.3" cy="2410.5" r="6.6"/>
</g>
<g fill="#f9b5c4">
<circle cx="1098" cy="2279.9" r="6.6"/>
<circle cx="1098" cy="2301.2" r="6.6"/>
<circle cx="1098" cy="2383.2" r="6.6"/>
<circle cx="1098" cy="2428.3" r="6.6"/>
</g>
<g fill="#ed1c80">
<circle cx="1152.8" cy="2315.9" r="6.6"/>
<circle cx="1152.8" cy="2365.8" r="6.6"/>
<circle cx="1165" cy="2391.9" r="6.6"/>
<circle cx="1141.4" cy="2403.8" r="6.6"/>
<circle cx="1165" cy="2406.5" r="6.6"/>
<circle cx="1152.8" cy="2407.7" r="6.6"/>
<circle cx="1152.8" cy="2427.5" r="6.6"/>
<circle cx="1140.6" cy="2436.6" r="6.6"/>
<circle cx="1165" cy="2436.6" r="6.6"/>
</g>
<g fill="#a94a70">
<circle cx="1207.5" cy="2300.9" r="6.6"/>
<circle cx="1195.3" cy="2429.5" r="6.6"/>
<circle cx="1219.7" cy="2427.5" r="6.6"/>
<circle cx="1207.5" cy="2438.2" r="6.6"/>
<circle cx="1219.7" cy="2442.6" r="6.6"/>
<circle cx="1195.3" cy="2447.3" r="6.6"/>
</g>
<line x1="1025" y1="2303.6" x2="1061.5" y2="2303.6" stroke="#000" stroke-width="3.6"/>
<line x1="1079.8" y1="2347.6" x2="1116.2" y2="2347.6" stroke="#000" stroke-width="3.6"/>
<line x1="1134.5" y1="2399.4" x2="1171" y2="2399.4" stroke="#000" stroke-width="3.6"/>
<line x1="1189.2" y1="2414.5" x2="1225.8" y2="2414.5" stroke="#000" stroke-width="3.6"/>
<line x1="1041.3" y1="2150.4" x2="1208.3" y2="2150.4" stroke="#000" stroke-width="2"/>
<text transform="translate(1123.2 2146.3) scale(1 1.080)" font-size="23.8" text-anchor="middle">0.014</text>
<line x1="1041.3" y1="2180.4" x2="1152.8" y2="2180.4" stroke="#000" stroke-width="2"/>
<text transform="translate(1098 2175.6) scale(1 1.080)" font-size="23.8" text-anchor="middle">0.0229</text>
<text x="948.9" y="2043.4" font-size="27.9">EGFR point mutation</text>
<circle cx="958.2" cy="2066" r="6.6" fill="#f27c94"/>
<text x="972.4" y="2073" font-size="23.8">p.E746_A750del</text>
<circle cx="958.2" cy="2091.2" r="6.6" fill="#f9b5c4"/>
<text x="972.4" y="2098.5" font-size="23.8">p.G719A</text>
<circle cx="1183.2" cy="2066" r="6.6" fill="#ed1c80"/>
<text x="1197.4" y="2073" font-size="23.8">p.L858R</text>
<circle cx="1183.2" cy="2091.2" r="6.6" fill="#a94a70"/>
<text x="1197.4" y="2098.5" font-size="23.8">other</text>
</svg>
</body>
</html>
